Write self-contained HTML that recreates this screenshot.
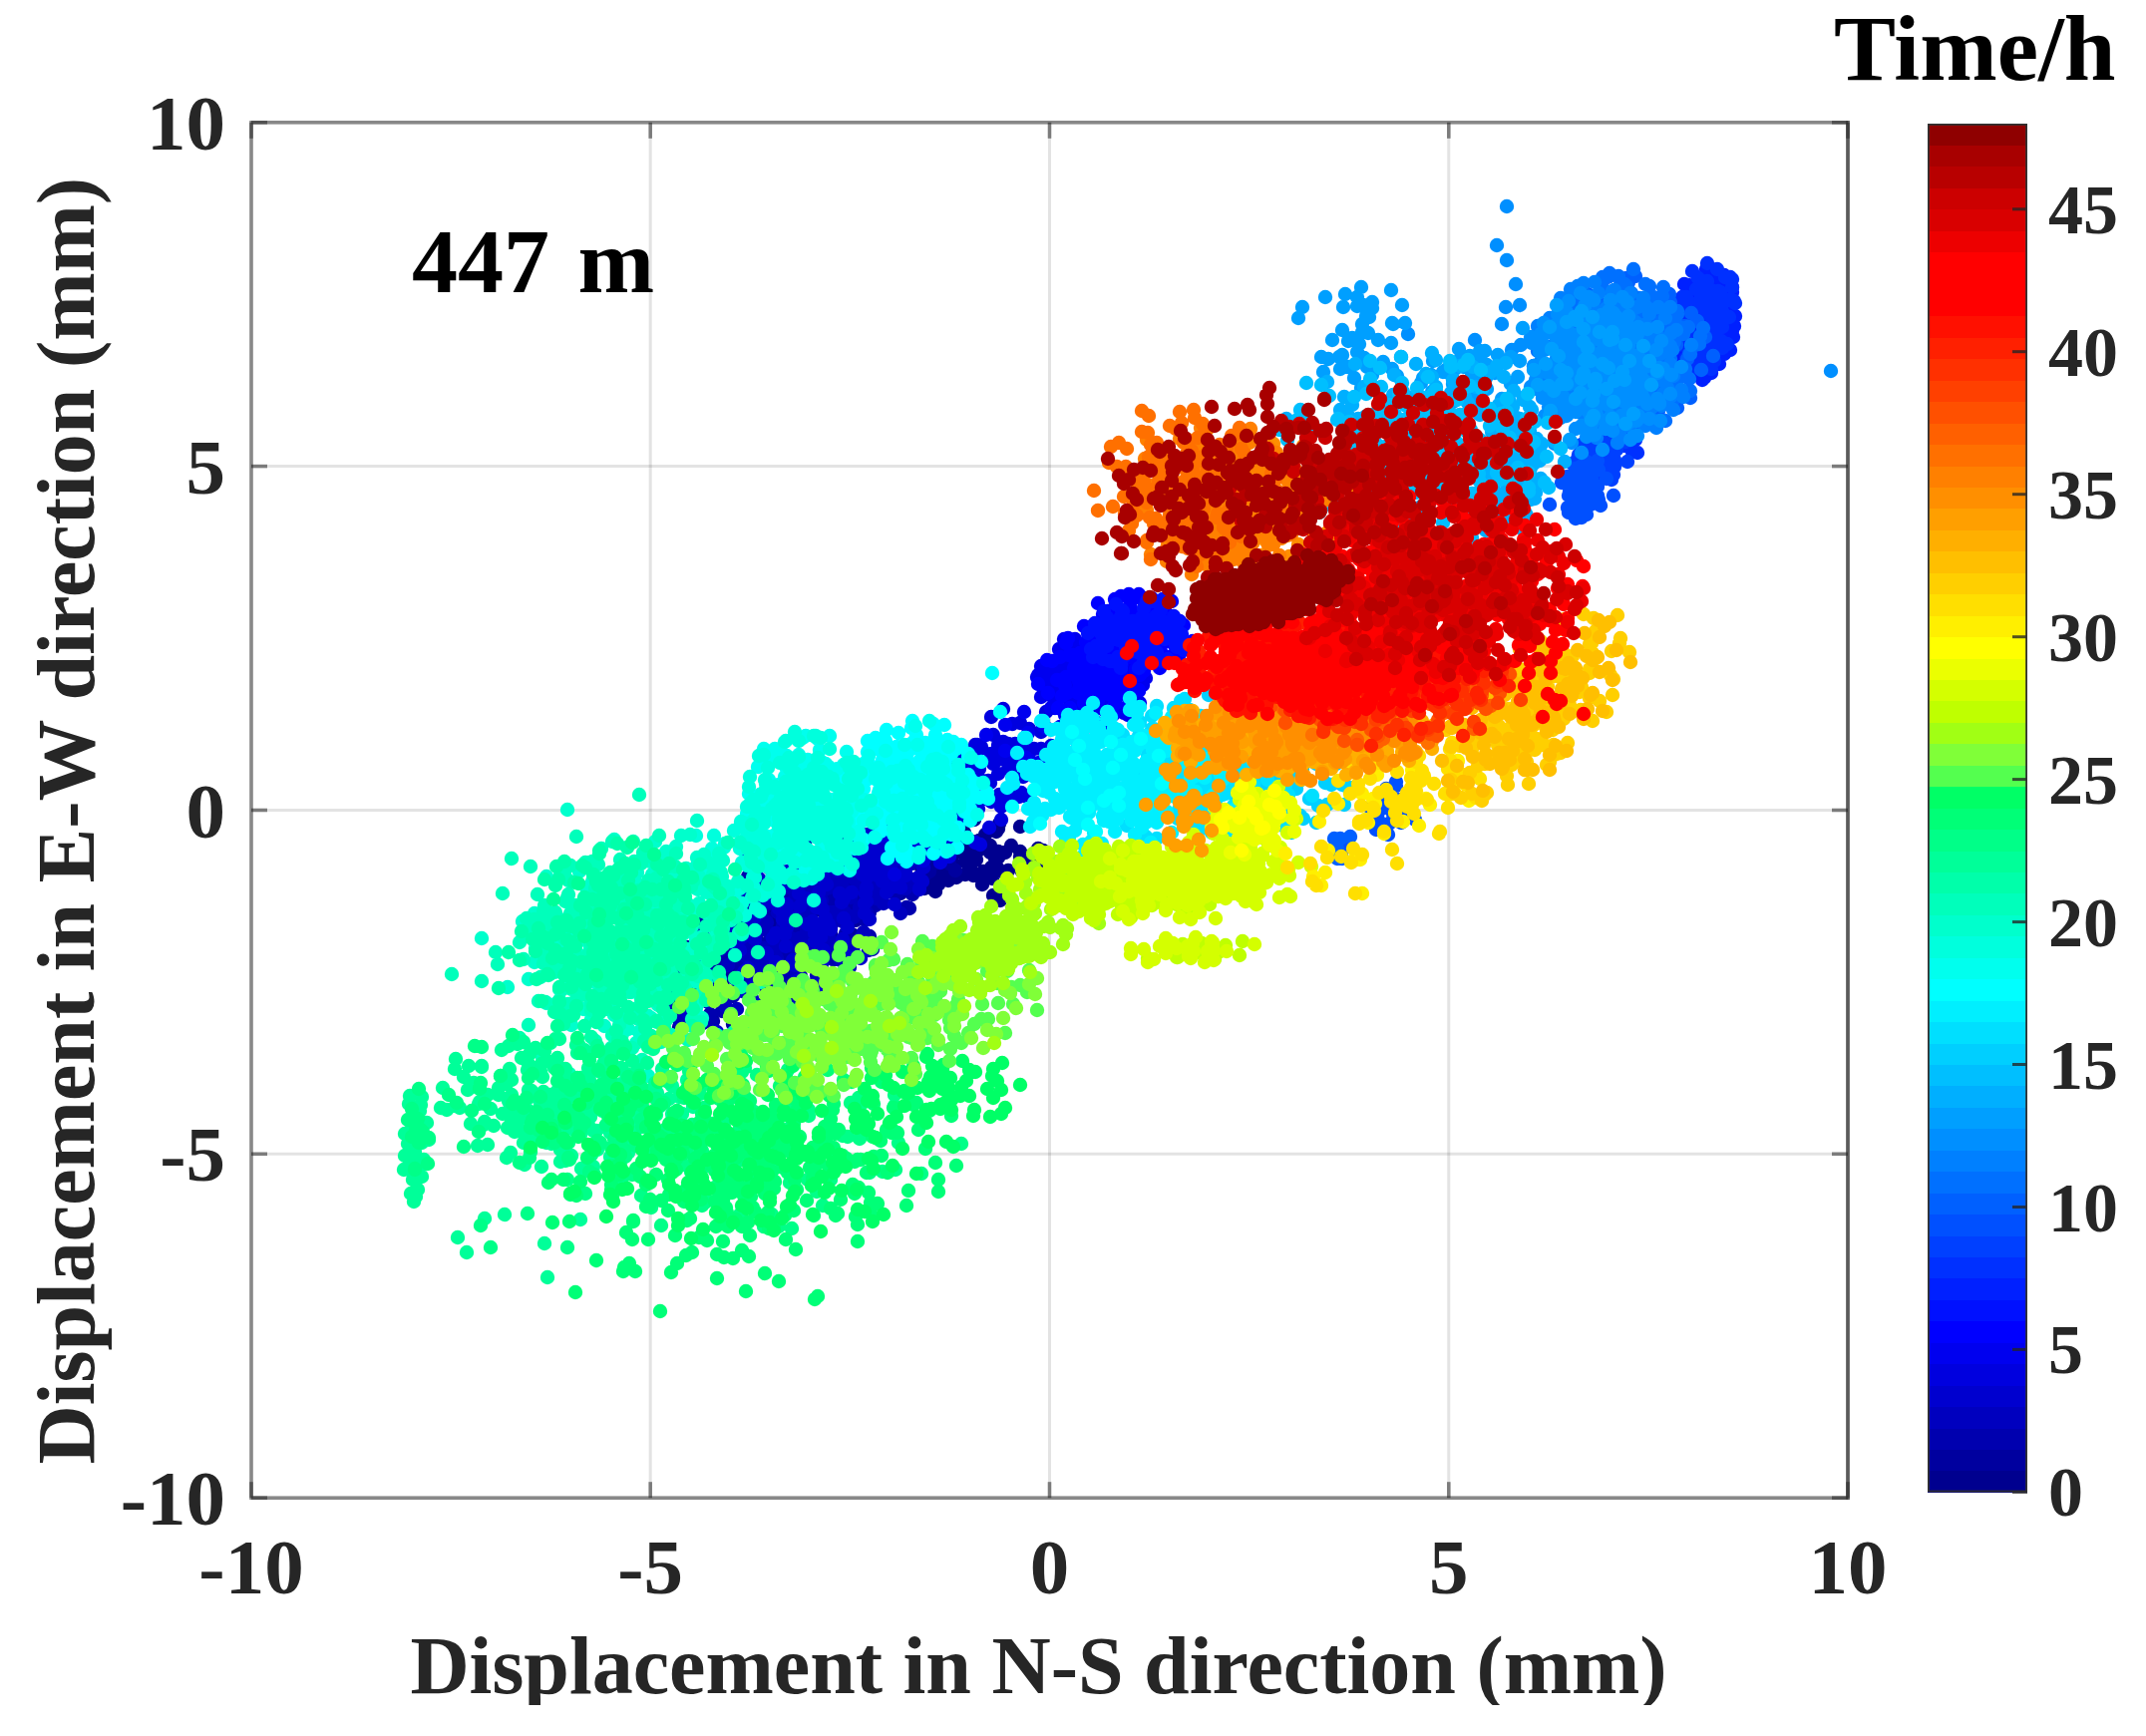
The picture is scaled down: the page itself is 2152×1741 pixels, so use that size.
<!DOCTYPE html><html><head><meta charset="utf-8"><title>Displacement scatter 447 m</title><style>html,body{margin:0;padding:0;background:#fff;overflow:hidden;width:2152px;height:1741px}</style></head><body><svg width="2152" height="1741" viewBox="0 0 2152 1741" style="display:block"><defs><clipPath id="xc"><rect x="0" y="1600" width="2152" height="110"/></clipPath></defs><rect width="100%" height="100%" fill="#fff"/><g stroke="#262626" stroke-opacity="0.13" stroke-width="3"><line x1="652.2" y1="122.8" x2="652.2" y2="1502.2"/><line x1="252.0" y1="1157.3" x2="1853.0" y2="1157.3"/><line x1="1052.5" y1="122.8" x2="1052.5" y2="1502.2"/><line x1="252.0" y1="812.5" x2="1853.0" y2="812.5"/><line x1="1452.8" y1="122.8" x2="1452.8" y2="1502.2"/><line x1="252.0" y1="467.6" x2="1853.0" y2="467.6"/></g><g fill="none" stroke-width="14.4" stroke-linecap="round"><path stroke="#00008f" d="M1033 859h0M1040 871h0M1000 874h0M1002 826h0M1025 874h0M973 869h0M1023 854h0M1003 903h0M998 861h0M1046 853h0M1023 859h0M996 898h0M993 855h0M1036 867h0M994 870h0M995 832h0M998 871h0M968 864h0M1001 854h0M1041 851h0M976 878h0M967 835h0M1000 861h0M940 875h0M999 834h0M991 874h0M971 850h0M1023 829h0M1008 855h0M959 880h0M985 844h0M1011 873h0M969 857h0M1001 831h0M979 862h0M938 846h0M993 848h0M1014 848h0M974 866h0M955 836h0M1001 860h0M957 867h0M973 850h0M985 887h0M941 854h0M988 837h0M980 854h0M935 885h0M960 845h0M986 874h0M957 870h0M977 820h0M951 883h0M920 857h0M973 855h0M1000 870h0M935 883h0M939 845h0M952 875h0M903 879h0M961 853h0M938 894h0M930 863h0M979 846h0M958 855h0M927 891h0M942 859h0M995 881h0M924 870h0M947 835h0M950 873h0M894 856h0M954 847h0M970 854h0M927 868h0M917 830h0M949 871h0M902 872h0M940 858h0M941 887h0M931 859h0M975 844h0M948 861h0M902 889h0M941 841h0M968 877h0M936 856h0M977 822h0M946 870h0M923 840h0M962 847h0M982 843h0M933 874h0M917 846h0M951 863h0M902 883h0M942 847h0M946 877h0M932 853h0M965 822h0M971 844h0"/><path stroke="#00009f" d="M918 884h0M924 847h0M958 873h0M903 866h0M922 834h0M910 863h0M874 854h0M922 840h0M934 857h0M889 863h0M895 835h0M914 866h0M877 862h0M915 848h0M903 896h0M884 855h0M955 839h0M926 856h0M895 895h0M908 846h0M952 866h0M912 859h0M934 813h0M934 868h0M888 857h0M926 849h0M953 856h0M897 872h0M903 839h0M917 855h0M852 879h0M925 835h0M917 882h0M894 859h0M947 838h0M924 865h0M880 876h0M904 853h0M927 878h0M830 823h0M834 948h0M746 921h0M867 874h0M935 863h0M789 941h0M796 857h0M831 901h0M674 991h0M813 868h0M763 981h0M753 915h0M880 827h0M830 876h0M744 980h0M762 913h0M910 888h0M719 971h0M797 849h0M813 928h0M689 950h0M839 859h0M873 871h0M801 923h0M774 846h0M871 892h0M730 957h0M805 895h0M803 979h0M752 927h0M856 847h0M828 898h0M715 1024h0M792 883h0M856 938h0M773 940h0M840 842h0M780 963h0M730 930h0M827 900h0M936 821h0M802 951h0M758 906h0M850 898h0M744 982h0M835 865h0M853 922h0M797 913h0M888 795h0M902 840h0M780 959h0M812 868h0M932 874h0M793 924h0M855 834h0M832 909h0M682 953h0M865 868h0M893 893h0M797 943h0M784 874h0M834 939h0M724 987h0M798 932h0M803 998h0M749 947h0M886 865h0M823 913h0M751 1024h0M754 923h0M858 923h0M769 958h0M783 858h0M822 962h0M730 970h0M828 911h0M904 879h0M794 970h0M774 918h0M814 940h0M681 1030h0M826 887h0M819 984h0M758 951h0M873 843h0M836 914h0M727 1003h0M776 935h0M851 958h0M735 971h0M847 847h0M797 946h0M718 931h0M843 896h0M877 884h0M781 949h0M698 919h0M847 911h0M727 975h0M807 870h0M825 957h0M751 930h0M858 845h0M813 915h0M735 1027h0M775 901h0M859 915h0M753 940h0M806 850h0M799 945h0M723 943h0M778 931h0M924 881h0M734 980h0M772 871h0M808 935h0M671 988h0M816 877h0M792 978h0M781 923h0M936 820h0M866 876h0M775 993h0M761 925h0M879 895h0M737 975h0M750 889h0"/><path stroke="#0000af" d="M801 922h0M681 978h0M826 864h0M878 870h0M758 974h0M710 911h0M825 926h0M718 986h0M782 906h0M819 968h0M751 917h0M878 808h0M848 872h0M749 979h0M782 887h0M859 906h0M802 909h0M849 823h0M824 957h0M736 927h0M851 862h0M921 814h0M802 937h0M751 896h0M854 895h0M735 999h0M836 850h0M867 922h0M785 903h0M871 811h0M851 893h0M776 980h0M820 905h0M909 910h0M760 953h0M838 833h0M833 916h0M736 938h0M854 881h0M878 908h0M811 935h0M797 862h0M869 922h0M753 964h0M834 894h0M818 991h0M801 915h0M884 848h0M833 882h0M768 1019h0M761 889h0M888 890h0M770 951h0M808 842h0M827 940h0M718 960h0M808 905h0M906 875h0M753 1000h0M758 908h0M808 939h0M704 1002h0M808 892h0M780 989h0M744 949h0M900 810h0M833 921h0M705 1026h0M756 928h0M835 962h0M747 940h0M830 844h0M782 940h0M684 929h0M848 874h0M866 880h0M779 961h0M729 925h0M867 893h0M790 954h0M822 910h0M875 952h0M766 953h0M876 846h0M874 892h0M779 1003h0M791 896h0M900 895h0M814 914h0M840 808h0M858 913h0M758 918h0M865 851h0M935 843h0M810 937h0M779 885h0M832 901h0M669 1007h0M831 868h0M834 959h0M803 912h0M929 814h0M856 881h0M790 957h0M808 898h0M912 885h0M762 954h0M821 857h0M831 924h0M727 959h0M840 895h0M886 894h0M828 925h0M750 879h0M872 915h0M738 993h0M815 905h0M817 990h0M749 957h0M861 870h0M834 912h0M724 1014h0M780 894h0M848 936h0M773 939h0M860 828h0M822 949h0M768 920h0M847 905h0M940 850h0M788 981h0M754 922h0M845 924h0M728 1014h0M832 885h0M840 962h0M789 938h0M909 805h0M888 884h0M781 980h0M824 893h0M912 911h0M785 943h0M840 860h0M829 915h0M696 932h0M897 847h0M926 870h0M804 929h0M799 835h0M846 902h0M745 941h0M817 882h0M796 999h0M752 933h0M865 880h0M838 907h0M770 1012h0M754 939h0M874 907h0M808 942h0M811 832h0M845 947h0M729 966h0M816 912h0M900 884h0M777 979h0M751 913h0M807 928h0M682 1022h0M794 893h0M819 978h0M750 943h0M853 864h0M831 907h0M745 983h0M785 912h0M872 939h0M714 979h0M806 860h0M764 975h0M672 955h0M816 895h0M851 873h0M761 945h0M708 917h0M815 933h0M696 1012h0M778 908h0M826 953h0M734 937h0M832 853h0M806 906h0M714 1025h0M763 891h0M860 911h0M751 942h0M798 836h0M783 937h0M713 921h0M806 877h0M899 868h0M743 969h0M779 871h0M834 921h0M719 976h0M831 884h0M818 963h0M809 917h0M917 830h0M888 886h0M803 983h0M814 903h0M915 897h0M774 952h0M820 859h0M829 912h0M698 945h0M854 858h0M913 851h0M795 937h0M771 884h0M861 898h0M744 946h0M797 908h0M797 997h0M738 941h0M862 845h0M836 898h0M719 994h0M791 884h0M833 930h0M759 916h0M831 813h0M759 958h0M703 926h0M802 911h0M865 868h0M762 977h0M714 946h0M792 925h0M712 1017h0M783 900h0M840 959h0M758 962h0M877 826h0M873 875h0M780 965h0M794 905h0"/><path stroke="#0000bf" d="M903 916h0M752 977h0M821 860h0M832 942h0M701 966h0M840 879h0M877 897h0M782 949h0M754 866h0M836 947h0M710 1005h0M795 913h0M791 1006h0M748 944h0M870 870h0M853 900h0M789 1005h0M769 907h0M908 891h0M809 931h0M829 836h0M843 923h0M764 932h0M832 890h0M914 854h0M779 961h0M778 871h0M836 915h0M697 999h0M817 872h0M827 947h0M791 923h0M909 812h0M871 881h0M762 987h0M809 896h0M863 941h0M765 951h0M831 857h0M785 936h0M701 934h0M846 864h0M864 867h0M763 953h0M716 899h0M863 890h0M750 957h0M822 884h0M857 947h0M782 914h0M880 831h0M844 887h0M763 979h0M803 863h0M881 883h0M833 888h0M835 826h0M822 936h0M721 927h0M857 864h0M929 848h0M783 938h0M795 851h0M814 906h0M669 979h0M807 860h0M771 984h0M783 912h0M921 813h0M863 866h0M781 974h0M800 904h0M924 883h0M756 965h0M799 867h0M816 944h0M674 1006h0M818 904h0M876 892h0M794 948h0M735 895h0M852 919h0M727 996h0M805 917h0M821 982h0M762 955h0M856 881h0M823 931h0M739 1012h0M780 915h0M857 957h0M762 969h0M845 850h0M803 971h0M727 946h0M808 909h0M902 844h0M758 978h0M735 920h0M814 930h0M715 1003h0M795 888h0M827 945h0M796 908h0M880 814h0M888 865h0M775 983h0M795 904h0M866 935h0M715 978h0M778 891h0M775 959h0M671 983h0M824 903h0M879 901h0M794 949h0M804 865h0M839 915h0M746 938h0M827 892h0M821 996h0M778 902h0M923 822h0M888 862h0M799 975h0M776 889h0M868 890h0M769 925h0M785 843h0M812 933h0M706 940h0M819 882h0M910 866h0M783 946h0M788 883h0M829 920h0M682 1016h0M846 871h0M824 984h0M785 929h0M899 844h0M862 910h0M754 1001h0M787 925h0M852 970h0M730 968h0M821 878h0M765 973h0M698 945h0M811 915h0M849 894h0M772 953h0M697 934h0M856 920h0M728 1010h0M785 910h0M843 963h0M762 960h0M868 855h0M847 915h0M772 1002h0M805 888h0M913 887h0M813 911h0M857 811h0M844 921h0M761 923h0M840 879h0M914 866h0M804 941h0M802 849h0M847 893h0M722 953h0M832 841h0M793 941h0M774 895h0M905 805h0M856 866h0M760 988h0M757 925h0M869 915h0M747 974h0M794 891h0M808 938h0M691 979h0M869 851h0M902 866h0M802 941h0M785 853h0M884 901h0M765 963h0M847 880h0M849 961h0M789 913h0M908 833h0M879 885h0M771 985h0M831 879h0M886 906h0M817 895h0M867 813h0M812 946h0M721 916h0M819 886h0M885 844h0M748 959h0M743 893h0M804 915h0M682 1025h0M801 881h0M813 961h0M759 949h0M848 859h0M831 915h0M752 990h0M772 936h0M871 953h0"/><path stroke="#0000cf" d="M699 988h0M802 871h0M778 965h0M673 952h0M821 895h0M846 921h0M750 971h0M761 881h0M826 953h0M715 979h0M802 909h0M784 1008h0M757 942h0M842 896h0M778 936h0M762 1008h0M735 937h0M867 906h0M775 941h0M788 851h0M833 932h0M739 952h0M807 901h0M900 859h0M756 989h0M751 928h0M817 944h0M690 1016h0M789 907h0M811 960h0M785 922h0M877 819h0M871 869h0M738 982h0M790 874h0M889 895h0M757 920h0M839 827h0M819 910h0M710 912h0M870 837h0M908 834h0M810 927h0M741 893h0M844 905h0M749 975h0M822 904h0M863 961h0M742 953h0M858 849h0M828 921h0M761 1013h0M788 912h0M872 922h0M788 949h0M838 829h0M845 942h0M743 941h0M846 901h0M921 880h0M795 963h0M801 896h0M831 927h0M698 1001h0M848 861h0M824 967h0M781 911h0M923 820h0M894 865h0M799 984h0M811 902h0M925 884h0M787 937h0M828 836h0M815 924h0M704 951h0M823 871h0M876 872h0M789 930h0M749 861h0M867 916h0M746 975h0M826 882h0M823 988h0M754 939h0M868 871h0M826 929h0M719 1035h0M785 916h0M848 958h0M769 956h0M860 836h0M823 940h0M771 904h0M829 887h0M921 820h0M817 936h0M775 885h0M885 884h0M744 994h0M791 885h0M850 930h0M796 921h0M902 792h0M889 864h0M797 968h0M825 878h0M842 869h0M889 860h0M880 878h0M825 912h0M873 853h0M897 907h0M865 877h0M905 844h0M869 890h0M855 853h0M889 866h0M922 891h0M853 870h0M879 830h0M876 872h0M839 859h0M889 865h0M868 896h0M881 870h0M926 870h0M908 878h0M854 895h0M878 853h0M903 890h0M855 862h0M883 837h0M875 872h0M836 847h0M897 857h0M908 875h0M866 860h0M871 821h0M881 876h0M850 861h0M886 862h0M869 904h0M854 847h0M915 855h0M893 869h0M840 873h0M894 841h0M894 890h0M878 858h0M931 826h0M887 874h0M880 830h0M913 849h0M944 851h0M885 868h0M881 832h0M899 858h0M847 871h0M897 841h0M900 889h0M877 855h0M932 837h0M914 862h0M869 880h0M888 850h0M922 892h0M874 854h0M911 817h0M888 856h0M862 820h0M914 827h0M926 852h0M892 843h0M892 795h0M902 861h0M863 840h0M917 827h0M896 877h0M896 826h0M946 838h0M936 844h0"/><path stroke="#0000df" d="M897 877h0M916 824h0M952 859h0M918 846h0M937 809h0M926 863h0M900 831h0M932 831h0M978 845h0M904 848h0M915 800h0M935 845h0M885 838h0M941 814h0M924 855h0M926 823h0M975 817h0M945 840h0M895 840h0M927 811h0M933 852h0M903 823h0M932 808h0M917 830h0M889 792h0M942 829h0M958 838h0M906 838h0M906 782h0M947 840h0M904 837h0M947 827h0M943 865h0M924 824h0M977 818h0M956 839h0M908 858h0M947 815h0M959 847h0M943 829h0M981 786h0M943 847h0M913 808h0M959 824h0M983 847h0M923 826h0M954 787h0M962 825h0M917 803h0M982 804h0M942 842h0M948 807h0M1004 809h0M981 811h0M953 827h0M966 801h0M992 830h0M934 808h0M968 768h0M959 811h0M915 783h0M978 784h0M994 804h0M953 807h0M954 760h0M979 810h0M923 793h0M965 779h0M959 826h0M950 788h0M992 784h0M975 795h0M910 814h0M961 769h0M975 818h0M950 787h0M996 766h0M956 818h0M935 777h0M966 795h0M1013 805h0M947 816h0M950 777h0M978 810h0M935 806h0M973 780h0M975 817h0M968 791h0M1016 767h0M1002 797h0M951 810h0M973 769h0M1004 822h0M956 790h0M999 763h0M991 798h0M955 755h0M1026 779h0M1033 802h0M991 783h0M1006 744h0M1007 799h0M970 775h0M1001 776h0M972 818h0M978 747h0M1032 763h0M1011 771h0M968 798h0M984 749h0M1013 792h0M980 769h0M1015 726h0M993 785h0M966 758h0M1015 762h0M1042 786h0M981 779h0M996 737h0M1006 761h0M954 756h0M1018 746h0M990 798h0M983 751h0M1044 751h0M1016 779h0M972 773h0M1005 750h0M1022 799h0M980 747h0M1032 731h0M1006 761h0M994 719h0M1037 751h0M1054 748h0M1020 756h0M1006 711h0M1048 761h0M994 756h0M1029 740h0M1024 795h0M1001 747h0M1044 734h0M1027 753h0M982 771h0M1023 725h0M1047 769h0M1011 746h0M1049 714h0M1029 755h0"/><path stroke="#0000ef" d="M1008 727h0M1031 735h0M1084 765h0M1008 753h0M1027 714h0M1033 763h0M989 737h0M1063 729h0M1042 765h0M1049 730h0M1097 730h0M1080 743h0M1029 760h0M1046 728h0M1085 773h0M1076 643h0M1121 671h0M1126 679h0M1089 676h0M1078 648h0M1109 685h0M1052 675h0M1094 656h0M1098 707h0M1085 667h0M1135 667h0M1108 689h0M1054 710h0M1088 666h0M1107 712h0M1082 685h0M1116 654h0M1099 699h0M1083 669h0M1112 686h0M1143 705h0M1085 693h0M1115 648h0M1110 700h0M1062 676h0M1121 673h0M1087 710h0M1092 676h0M1149 680h0M1125 684h0M1073 705h0M1093 679h0M1115 716h0M1067 690h0M1094 668h0M1086 696h0M1048 668h0M1109 685h0M1120 708h0M1078 703h0M1085 659h0M1098 711h0M1057 691h0M1097 689h0M1079 716h0M1065 676h0M1112 680h0M1094 689h0M1054 696h0M1097 666h0M1106 706h0M1098 682h0M1141 654h0M1084 694h0M1079 653h0M1117 685h0M1146 687h0M1088 696h0M1078 656h0M1106 679h0M1051 694h0M1107 659h0M1101 705h0M1080 676h0M1129 665h0M1113 691h0M1079 704h0M1098 680h0M1127 715h0M1080 686h0M1118 658h0M1109 698h0M1069 665h0M1128 675h0M1131 697h0M1090 689h0M1088 651h0M1092 707h0M1051 685h0M1101 685h0M1088 722h0M1089 682h0M1132 678h0M1104 682h0M1068 717h0M1099 664h0M1137 708h0M1086 690h0M1116 645h0M1113 697h0M1070 661h0M1099 664h0M1139 689h0M1074 692h0M1089 648h0M1100 687h0M1049 681h0M1091 666h0M1077 710h0M1077 683h0M1141 669h0M1106 701h0M1058 710h0M1088 682h0M1100 725h0M1068 679h0M1115 664h0M1096 688h0M1070 648h0M1134 678h0M1131 687h0M1086 694h0M1078 659h0M1112 706h0M1070 700h0M1100 682h0M1099 727h0M1070 676h0M1121 671h0M1108 686h0M1053 697h0M1079 654h0M1093 706h0M1071 683h0M1110 649h0M1076 708h0M1054 670h0M1093 686h0M1125 711h0M1072 700h0M1092 670h0M1094 697h0M1041 677h0M1124 679h0M1088 715h0M1091 679h0M1142 693h0M1119 697h0M1081 717h0M1090 685h0M1131 717h0M1072 686h0M1106 656h0M1104 690h0M1059 663h0M1106 669h0M1119 686h0M1083 676h0M1078 641h0M1098 698h0M1040 679h0M1088 664h0M1077 712h0M1065 661h0M1108 665h0M1092 683h0M1044 699h0M1086 656h0M1093 707h0M1065 676h0M1107 647h0M1087 697h0M1082 658h0M1116 674h0M1148 679h0M1090 692h0M1094 652h0M1116 686h0M1057 694h0M1101 668h0M1101 703h0M1085 674h0M1133 653h0M1110 685h0M1066 691h0M1084 663h0M1107 704h0M1075 675h0M1110 653h0M1103 676h0M1062 651h0M1134 666h0M1137 690h0M1091 682h0M1103 641h0M1103 696h0M1060 677h0M1102 679h0M1080 723h0M1086 669h0M1137 681h0M1109 677h0M1061 699h0M1077 656h0M1103 690h0M1077 674h0M1106 638h0M1091 695h0M1061 661h0M1106 670h0M1131 683h0M1072 678h0M1086 650h0M1098 677h0M1044 668h0M1105 656h0M1084 700h0M1090 671h0M1137 667h0M1107 682h0M1067 684h0M1096 676h0M1110 727h0M1060 669h0M1113 655h0M1079 690h0M1067 641h0M1115 678h0"/><path stroke="#0000ff" d="M1123 683h0M1084 686h0M1071 640h0M1112 696h0M1065 698h0M1109 681h0M1109 724h0M1085 675h0M1125 665h0M1111 680h0M1061 710h0M1096 661h0M1118 706h0M1081 677h0M1116 650h0M1102 687h0M1076 657h0M1113 670h0M1142 692h0M1082 683h0M1103 644h0M1105 679h0M1055 663h0M1115 657h0M1095 693h0M1101 669h0M1139 671h0M1125 679h0M1073 710h0M1091 670h0M1132 706h0M1068 687h0M1106 663h0M1092 694h0M1050 662h0M1115 678h0M1125 696h0M1081 695h0M1083 655h0M1101 702h0M1060 682h0M1095 676h0M1086 724h0M1078 668h0M1124 674h0M1104 691h0M1051 695h0M1092 660h0M1093 701h0M1077 670h0M1124 643h0M1082 691h0M1072 657h0M1110 684h0M1133 690h0M1084 693h0M1088 661h0M1095 682h0M1041 686h0M1106 657h0M1092 704h0M1078 668h0M1135 656h0M1117 687h0M1070 695h0M1099 665h0M1116 717h0M1069 679h0M1108 651h0M1086 686h0M1069 645h0M1117 672h0M1121 688h0M1092 674h0M1103 644h0M1104 692h0M1063 659h0M1118 663h0M1087 705h0M1102 667h0M1143 677h0M1120 675h0M1146 648h0M1095 634h0M1129 628h0M1125 663h0M1114 625h0M1164 626h0M1144 642h0M1098 656h0M1133 628h0M1145 657h0M1128 633h0M1175 603h0M1132 650h0M1118 617h0M1159 634h0M1182 641h0M1126 647h0M1125 619h0M1146 641h0M1089 644h0M1141 621h0M1134 659h0M1121 632h0M1166 619h0M1151 641h0M1110 651h0M1133 635h0M1163 670h0M1106 625h0M1150 605h0M1134 635h0M1101 605h0M1157 625h0M1170 640h0M1128 633h0M1142 596h0M1142 645h0M1101 625h0M1143 628h0M1119 661h0M1136 632h0M1171 636h0M1147 639h0M1107 666h0M1135 623h0M1164 655h0M1130 632h0M1155 600h0M1138 641h0M1111 613h0M1137 622h0M1175 640h0M1116 632h0M1137 600h0M1149 632h0M1112 622h0M1158 614h0M1138 644h0M1142 630h0M1187 627h0M1165 646h0M1113 639h0M1158 617h0M1159 658h0M1130 620h0M1168 612h0M1144 633h0M1124 598h0M1175 629h0M1178 630h0M1137 638h0M1120 610h0M1150 645h0M1109 639h0M1138 630h0M1147 673h0M1119 623h0M1163 610h0M1146 630h0M1098 646h0M1124 615h0M1150 644h0M1128 635h0M1160 606h0M1132 655h0M1103 627h0M1148 639h0M1164 653h0M1117 641h0M1131 614h0M1140 637h0M1092 629h0M1154 619h0M1123 657h0M1125 620h0M1183 623h0M1165 635h0M1121 652h0M1139 631h0M1182 658h0M1121 635h0M1151 610h0M1147 638h0M1112 621h0M1161 625h0M1172 639h0M1132 637h0M1132 596h0M1152 648h0M1103 633h0M1143 619h0M1131 658h0M1126 623h0M1169 621h0M1153 627h0M1099 643h0M1134 610h0M1150 650h0M1129 635h0M1167 621h0M1136 648h0M1124 619h0M1142 635h0M1196 643h0M1131 652h0M1134 618h0M1158 650h0M1095 650h0M1149 628h0M1136 659h0M1122 637h0M1176 625h0M1151 647h0M1098 655h0M1133 630h0M1151 661h0M1113 636h0M1151 620h0M1146 648h0M1106 616h0M1171 637h0M1175 658h0M1128 643h0M1148 606h0M1143 646h0M1116 627h0M1143 630h0M1117 659h0M1127 619h0M1167 626h0M1149 625h0M1113 654h0M1126 619h0M1155 643h0M1131 633h0M1148 600h0M1137 653h0M1105 628h0M1153 629h0M1176 645h0M1117 644h0M1133 608h0M1146 631h0M1087 628h0M1151 613h0M1133 648h0M1127 619h0M1168 618h0M1146 637h0M1108 639h0M1132 627h0M1144 667h0M1105 630h0M1153 618h0M1127 645h0M1112 615h0M1155 632h0M1153 634h0M1120 639h0M1118 601h0M1155 640h0"/><path stroke="#0010ff" d="M1104 635h0M1145 619h0M1141 654h0M1124 625h0M1154 626h0M1137 636h0M1096 659h0M1136 623h0M1157 660h0M1115 633h0M1164 612h0M1136 653h0M1120 627h0M1161 634h0M1180 649h0M1126 640h0M1147 610h0M1148 639h0M1101 630h0M1149 624h0M1129 649h0M1128 631h0M1185 636h0M1156 645h0M1113 663h0M1133 632h0M1166 663h0M1121 640h0M1148 620h0M1136 648h0M1098 625h0M1151 632h0M1158 652h0M1119 640h0M1126 613h0M1138 653h0M1106 641h0M1136 642h0M1124 670h0M1114 627h0M1172 626h0M1146 645h0M1094 651h0M1139 628h0M1146 666h0M1131 643h0M1182 623h0M1127 658h0M1122 624h0M1156 637h0M1183 646h0M1144 651h0M1139 624h0M1153 640h0M1099 648h0M1159 618h0M1157 660h0M1140 626h0M1177 618h0M1172 636h0M1133 650h0M1149 634h0M1171 661h0M1132 640h0M1161 621h0M1135 647h0M1111 623h0M1165 626h0M1179 646h0M1153 641h0M1150 603h0M1160 654h0M1109 631h0M1156 624h0M1124 666h0M1124 625h0M1166 633h0M1145 640h0M1106 661h0M1123 620h0M1156 651h0M1122 631h0M1155 603h0M1137 643h0M1106 627h0M1144 635h0M1187 652h0M1110 648h0M1125 612h0M1136 644h0M1091 635h0M1135 625h0M1121 659h0M1124 639h0M1180 630h0M1148 648h0M1105 651h0M1135 633h0M1142 670h0M1110 639h0M1148 628h0M1122 642h0M1107 613h0M1155 637h0M1168 641h0M1119 641h0M1119 606h0M1144 642h0M1104 634h0M1131 624h0M1121 665h0M1110 619h0M1165 622h0M1145 640h0M1097 654h0M1129 622h0M1145 656h0M1128 633h0M1166 601h0"/><path stroke="#0020ff" d="M1715 351h0M1694 326h0M1717 292h0M1701 349h0M1691 302h0M1708 322h0M1724 358h0M1693 330h0M1716 285h0M1709 341h0M1689 317h0M1718 310h0M1698 356h0M1709 324h0M1739 327h0M1722 346h0M1691 365h0M1701 321h0M1712 368h0M1691 334h0M1710 305h0M1703 341h0M1686 301h0M1716 321h0M1723 343h0M1702 337h0M1715 279h0M1712 347h0M1700 318h0M1721 312h0M1702 372h0M1707 303h0M1734 320h0M1717 331h0M1691 333h0M1715 300h0M1704 356h0M1704 322h0M1737 288h0M1696 351h0M1701 290h0M1721 324h0M1737 332h0M1711 338h0M1715 297h0M1722 335h0M1691 337h0M1725 301h0M1713 369h0M1713 321h0M1737 301h0M1728 328h0M1705 343h0M1717 327h0M1724 365h0M1704 325h0M1731 293h0M1712 344h0M1700 298h0M1725 327h0M1725 349h0M1706 337h0M1719 271h0M1713 336h0M1697 302h0M1715 303h0M1699 352h0M1708 299h0M1728 315h0M1713 322h0M1687 362h0M1711 298h0M1718 361h0M1699 326h0M1719 288h0M1702 351h0M1689 315h0M1707 330h0M1724 354h0M1692 352h0M1711 305h0M1709 352h0M1686 333h0M1715 317h0M1701 361h0M1705 335h0M1738 316h0M1713 355h0M1683 354h0M1709 316h0M1707 381h0M1698 332h0M1725 314h0M1704 343h0M1701 288h0M1728 328h0M1728 339h0M1704 343h0M1709 284h0M1714 347h0M1692 333h0M1711 322h0M1701 376h0M1699 310h0M1728 308h0M1718 338h0M1687 353h0M1714 297h0M1714 344h0M1704 311h0M1729 276h0M1696 339h0M1693 286h0M1710 311h0M1717 339h0M1693 317h0M1708 286h0M1702 321h0M1690 300h0M1717 294h0M1688 347h0M1699 301h0M1725 327h0M1715 318h0M1692 346h0M1708 310h0M1729 355h0M1695 327h0M1717 284h0M1713 334h0M1699 299h0M1728 297h0M1731 316h0M1707 309h0M1711 270h0M1711 338h0M1690 314h0M1720 297h0M1706 359h0M1706 309h0M1728 317h0M1713 337h0M1682 358h0M1710 308h0M1712 360h0M1703 319h0M1727 294h0M1707 351h0M1704 309h0M1713 330h0M1732 336h0M1694 346h0M1706 288h0M1715 332h0M1686 327h0M1717 301h0M1706 355h0M1705 311h0M1737 293h0M1715 327h0M1685 343h0M1702 310h0M1707 364h0M1695 323h0M1714 299h0M1702 333h0M1689 285h0M1721 314h0M1728 346h0M1706 327h0M1720 274h0M1712 345h0M1692 317h0M1710 320h0M1692 370h0M1706 307h0M1734 325h0M1725 332h0M1699 362h0M1715 315h0M1722 352h0M1717 325h0M1732 278h0M1716 341h0M1703 295h0M1727 321h0M1735 351h0M1702 344h0M1716 296h0M1717 336h0M1691 312h0M1727 302h0M1708 358h0M1711 318h0M1740 317h0M1724 342h0M1700 341h0M1719 318h0M1716 364h0M1708 311h0M1733 304h0M1710 343h0M1706 284h0M1723 330h0M1727 336h0M1705 338h0M1701 284h0M1709 344h0M1690 344h0M1713 325h0M1709 379h0M1700 324h0M1723 320h0M1713 332h0M1684 367h0M1715 299h0M1719 361h0M1701 323h0M1729 284h0M1709 348h0M1705 298h0M1722 305h0M1738 338h0M1704 321h0M1724 276h0M1720 341h0M1693 318h0M1722 322h0M1704 365h0M1705 333h0M1736 329h0M1721 345h0M1688 364h0M1703 322h0M1716 374h0M1693 343h0M1717 307h0M1705 350h0M1689 298h0M1725 315h0M1726 345h0M1707 339h0M1710 295h0M1709 348h0M1689 335h0M1707 330h0"/><path stroke="#0030ff" d="M1696 366h0M1698 313h0M1728 314h0M1716 331h0M1686 337h0M1718 294h0M1716 351h0M1711 310h0M1735 278h0M1699 340h0M1701 290h0M1711 318h0M1727 323h0M1696 330h0M1706 297h0M1712 333h0M1682 334h0M1725 293h0M1710 360h0M1705 319h0M1739 302h0M1722 326h0M1694 335h0M1710 307h0M1719 362h0M1703 306h0M1730 278h0M1713 319h0M1703 279h0M1721 309h0M1719 330h0M1708 324h0M1722 270h0M1707 347h0M1687 298h0M1715 307h0M1691 359h0M1704 308h0M1730 318h0M1719 321h0M1690 366h0M1711 290h0M1722 341h0M1704 315h0M1722 270h0M1711 336h0M1697 305h0M1711 320h0M1732 345h0M1697 340h0M1712 282h0M1716 339h0M1692 320h0M1726 308h0M1713 350h0M1716 309h0M1740 304h0M1721 333h0M1693 340h0M1719 306h0M1715 364h0M1702 314h0M1725 299h0M1710 321h0M1697 272h0M1726 318h0M1726 342h0M1702 342h0M1705 283h0M1708 350h0M1687 334h0M1706 322h0M1700 368h0M1691 316h0M1720 300h0M1709 326h0M1684 346h0M1707 306h0M1711 363h0M1707 329h0M1737 288h0M1709 351h0M1706 304h0M1722 322h0M1727 349h0M1697 326h0M1712 288h0M1708 335h0M1684 310h0M1721 315h0M1695 360h0M1703 324h0M1727 328h0M1717 334h0M1694 354h0M1702 331h0M1716 370h0M1689 333h0M1718 292h0M1700 344h0M1691 298h0M1715 303h0M1715 333h0M1695 323h0M1712 264h0M1713 341h0M1694 304h0M1719 299h0M1702 355h0M1710 289h0M1733 301h0M1720 313h0M1682 333h0M1723 292h0M1713 354h0M1710 306h0M1737 280h0M1706 330h0M1705 282h0M1715 310h0M1734 318h0M1699 335h0M1705 287h0M1716 329h0M1690 320h0M1717 295h0M1714 338h0M1713 310h0M1737 288h0M1727 323h0M1696 343h0M1716 295h0M1724 346h0M1702 305h0M1637 444h0M1629 447h0M1637 427h0M1637 453h0M1636 432h0M1643 424h0M1640 441h0M1634 445h0M1637 432h0M1642 454h0M1632 437h0M1637 418h0"/><path stroke="#0040ff" d="M1606 432h0M1620 464h0M1595 457h0M1614 452h0M1609 474h0M1601 453h0M1621 451h0M1616 461h0M1594 467h0M1613 443h0M1617 471h0M1601 454h0M1622 442h0M1605 466h0M1595 445h0M1610 454h0M1632 463h0M1609 467h0M1605 444h0M1615 459h0M1590 458h0M1612 444h0M1605 469h0M1605 456h0M1630 443h0M1619 468h0M1591 477h0M1604 457h0M1616 481h0M1596 460h0M1610 445h0M1605 463h0M1586 446h0M1614 454h0M1617 470h0M1595 465h0M1601 442h0M1603 471h0M1590 461h0M1603 459h0M1594 484h0M1596 456h0M1619 461h0M1610 464h0M1591 478h0M1599 452h0M1613 473h0M1600 461h0M1612 440h0M1604 475h0M1590 457h0M1610 463h0M1618 476h0M1594 472h0M1600 453h0M1603 466h0M1577 465h0M1604 455h0M1595 484h0M1590 462h0M1618 463h0M1605 478h0M1583 478h0M1596 467h0M1602 498h0M1584 471h0M1608 463h0M1592 481h0M1582 460h0M1603 477h0M1608 478h0M1591 478h0M1583 456h0M1601 484h0M1575 484h0M1591 468h0M1594 498h0"/><path stroke="#0050ff" d="M1581 476h0M1603 471h0M1596 480h0M1575 494h0M1585 468h0M1598 493h0M1588 480h0M1602 462h0M1592 487h0M1580 470h0M1594 480h0M1618 497h0M1580 488h0M1591 463h0M1593 488h0M1572 478h0M1598 471h0M1584 493h0M1583 480h0M1611 480h0M1600 488h0M1578 503h0M1582 480h0M1599 498h0M1574 490h0M1586 477h0M1583 495h0M1566 484h0M1595 489h0M1603 501h0M1583 499h0M1587 472h0M1591 502h0M1573 497h0M1590 492h0M1586 519h0M1581 491h0M1602 497h0M1592 502h0M1572 509h0M1591 490h0M1591 516h0M1585 504h0M1602 488h0M1580 520h0M1574 493h0M1595 506h0M1605 507h0M1573 514h0M1574 490h0M1582 507h0M1554 506h0M1583 495h0M1400 788h0M1405 825h0M1383 813h0M1404 811h0M1392 837h0M1392 810h0M1415 810h0M1400 814h0M1380 832h0M1390 791h0M1408 820h0M1384 807h0M1400 784h0M1393 826h0M1378 806h0M1399 810h0M1419 822h0M1382 822h0M1389 794h0M1397 816h0M1374 810h0M1403 802h0M1349 850h0M1333 855h0"/><path stroke="#0060ff" d="M1344 841h0M1346 861h0M1341 851h0M1354 839h0M1341 861h0M1338 841h0M1681 323h0M1653 378h0M1636 333h0M1718 357h0M1626 355h0M1633 283h0M1663 345h0M1601 341h0M1661 317h0M1682 333h0M1653 348h0M1592 295h0M1659 367h0M1581 377h0M1623 322h0M1663 412h0M1596 346h0M1650 310h0M1636 341h0M1588 399h0M1602 321h0M1658 370h0M1604 351h0M1631 279h0M1634 357h0M1596 324h0M1645 326h0M1702 322h0M1634 389h0M1593 326h0M1652 360h0M1585 390h0M1619 320h0M1653 386h0M1618 348h0M1674 295h0M1673 340h0M1620 389h0M1609 326h0M1676 369h0M1614 357h0M1640 304h0M1646 347h0M1565 323h0M1656 302h0M1681 346h0M1626 352h0M1612 278h0M1657 360h0M1595 354h0M1638 326h0M1646 409h0M1613 322h0M1675 303h0M1675 329h0M1652 405h0M1640 322h0M1694 355h0M1652 340h0M1640 277h0M1660 355h0M1583 322h0M1638 307h0M1685 330h0M1635 360h0M1627 312h0M1658 356h0M1584 373h0M1649 308h0M1649 382h0M1618 339h0M1675 309h0M1664 344h0M1613 379h0M1634 361h0M1682 409h0M1608 378h0M1658 317h0M1642 391h0M1584 330h0M1666 331h0M1690 327h0M1650 373h0M1588 303h0M1692 360h0M1626 394h0M1652 336h0M1695 399h0M1623 351h0M1655 320h0M1650 356h0M1623 411h0M1613 323h0M1686 375h0M1615 357h0M1631 284h0M1661 377h0M1599 344h0M1648 338h0M1710 338h0M1639 369h0M1625 301h0M1654 353h0M1582 354h0M1636 310h0M1647 391h0M1629 352h0M1696 314h0M1681 345h0M1642 412h0M1624 338h0M1706 371h0M1625 372h0M1638 309h0M1666 363h0M1577 361h0M1670 317h0M1700 346h0M1637 363h0M1602 301h0M1666 362h0M1601 370h0M1624 331h0M1654 424h0M1592 333h0M1662 304h0M1649 350h0M1603 396h0"/><path stroke="#0070ff" d="M1619 311h0M1663 369h0M1622 348h0M1658 298h0M1641 400h0M1586 346h0M1645 353h0M1679 339h0M1622 380h0M1600 325h0M1636 357h0M1583 388h0M1612 326h0M1644 413h0M1596 365h0M1657 310h0M1662 361h0M1603 406h0M1609 353h0M1677 402h0M1589 359h0M1625 285h0M1625 364h0M1571 333h0M1654 327h0M1670 355h0M1628 359h0M1607 278h0M1655 370h0M1587 349h0M1639 320h0M1638 402h0M1606 322h0M1665 309h0M1643 329h0M1640 411h0M1619 317h0M1695 355h0M1630 351h0M1623 277h0M1664 355h0M1601 340h0M1642 328h0M1708 329h0M1631 373h0M1592 297h0M1656 351h0M1594 377h0M1644 312h0M1669 383h0M1625 338h0M1668 288h0M1675 333h0M1630 378h0M1632 332h0M1683 378h0M1614 356h0M1636 307h0M1638 343h0M1579 317h0M1654 311h0M1680 331h0M1631 370h0M1582 306h0M1660 346h0M1607 364h0M1628 324h0M1674 397h0M1601 340h0M1650 305h0M1655 343h0M1621 400h0M1623 337h0M1680 371h0M1644 352h0M1638 270h0M1649 381h0M1581 331h0M1648 317h0M1705 337h0M1632 364h0M1623 300h0M1653 363h0M1577 385h0M1641 336h0M1645 419h0M1621 357h0M1688 335h0M1666 364h0M1640 401h0M1627 350h0M1694 380h0M1609 376h0M1631 307h0M1659 371h0M1583 346h0M1651 324h0M1675 340h0M1636 372h0M1585 307h0M1652 380h0M1583 380h0M1618 346h0M1644 419h0M1590 356h0M1647 330h0M1637 349h0M1594 404h0M1611 319h0M1667 384h0M1606 356h0M1635 298h0M1614 381h0M1571 326h0M1630 346h0M1682 312h0M1618 391h0M1570 317h0M1626 355h0M1570 392h0M1610 325h0M1648 386h0M1622 355h0M1650 285h0M1647 346h0M1609 407h0M1602 342h0M1673 383h0M1593 367h0M1609 317h0M1618 374h0M1570 353h0M1637 332h0M1665 362h0M1616 366h0M1590 310h0M1641 375h0M1579 374h0M1617 354h0M1630 419h0M1588 331h0M1654 308h0M1640 332h0M1618 407h0M1608 315h0M1674 345h0M1625 343h0M1614 274h0M1658 378h0M1581 351h0M1625 337h0M1665 335h0M1612 373h0M1587 318h0M1620 356h0M1569 384h0M1617 318h0M1634 410h0M1605 350h0M1667 297h0M1668 348h0M1610 374h0M1624 340h0M1664 396h0M1588 344h0M1629 285h0M1625 349h0M1572 312h0M1651 327h0M1666 322h0M1634 339h0M1590 296h0M1674 348h0M1591 364h0M1616 309h0M1661 395h0M1599 341h0M1657 303h0M1638 342h0M1606 399h0M1613 308h0M1676 370h0M1616 360h0M1636 294h0M1652 378h0M1601 331h0M1628 334h0M1704 345h0M1622 371h0M1629 308h0M1656 370h0M1582 381h0M1644 338h0M1643 403h0M1633 346h0M1680 324h0M1661 339h0M1632 398h0M1618 343h0M1690 370h0M1616 374h0M1617 308h0M1630 349h0M1553 348h0M1644 299h0M1688 329h0M1630 356h0M1579 297h0M1657 363h0M1585 365h0M1608 326h0M1636 414h0M1575 339h0M1642 304h0M1641 337h0M1594 389h0M1612 322h0M1655 372h0M1602 339h0M1631 287h0M1628 367h0M1576 314h0M1648 317h0M1682 315h0M1623 373h0M1589 318h0M1633 348h0M1572 376h0M1614 303h0M1652 375h0M1611 342h0M1650 299h0M1649 345h0M1615 392h0M1612 344h0M1695 392h0M1599 361h0M1619 291h0M1630 366h0M1566 329h0M1658 327h0M1679 343h0M1621 369h0M1606 285h0M1662 367h0M1590 348h0M1637 317h0M1641 391h0M1601 324h0M1662 309h0M1638 329h0M1622 419h0M1605 312h0M1675 360h0M1605 344h0M1614 277h0M1633 369h0M1582 333h0M1622 325h0M1689 330h0M1603 367h0M1594 300h0M1640 356h0M1579 371h0M1627 323h0M1650 397h0M1628 366h0M1672 318h0M1664 379h0M1597 414h0M1620 354h0M1663 422h0M1591 378h0M1626 320h0M1621 377h0M1555 333h0M1657 354h0M1678 342h0M1638 390h0M1587 333h0M1673 369h0M1604 388h0M1614 345h0M1670 422h0M1586 366h0M1629 310h0M1625 348h0M1591 405h0M1586 331h0M1647 372h0M1600 371h0M1608 290h0M1623 391h0M1564 362h0M1629 349h0M1674 367h0M1612 394h0M1604 308h0M1628 345h0M1549 372h0M1633 311h0M1634 403h0M1598 343h0M1666 305h0M1656 333h0M1640 409h0M1629 351h0M1687 377h0M1613 396h0M1619 322h0M1639 387h0M1563 366h0M1635 339h0M1661 360h0M1618 358h0M1577 300h0M1662 368h0M1582 366h0M1631 326h0M1663 399h0M1615 339h0M1660 305h0M1648 338h0M1611 406h0M1626 323h0M1672 383h0M1625 356h0M1646 311h0M1643 391h0M1593 347h0M1626 350h0M1693 328h0M1621 387h0M1593 316h0M1657 355h0M1586 394h0M1622 329h0M1642 402h0M1603 365h0M1654 287h0M1662 351h0M1614 409h0M1615 337h0M1673 389h0M1599 375h0M1626 329h0M1630 390h0M1542 352h0M1654 354h0M1681 382h0M1618 393h0M1610 318h0M1649 389h0M1590 372h0M1635 349h0M1638 428h0M1600 333h0"/><path stroke="#0080ff" d="M1651 327h0M1622 350h0M1602 415h0M1577 339h0M1639 359h0M1601 357h0M1582 287h0M1620 386h0M1552 367h0M1619 341h0M1675 347h0M1618 394h0M1599 324h0M1642 358h0M1561 384h0M1616 314h0M1637 391h0M1599 348h0M1654 315h0M1653 359h0M1609 393h0M1622 355h0M1678 411h0M1604 369h0M1635 319h0M1628 389h0M1568 344h0M1648 359h0M1665 355h0M1608 378h0M1554 319h0M1642 365h0M1575 388h0M1599 346h0M1643 414h0M1592 368h0M1634 330h0M1619 374h0M1600 428h0M1598 341h0M1670 380h0M1612 370h0M1619 291h0M1622 372h0M1585 334h0M1639 331h0M1696 346h0M1611 366h0M1603 294h0M1643 362h0M1573 363h0M1631 317h0M1625 382h0M1618 346h0M1675 308h0M1654 341h0M1621 408h0M1616 358h0M1672 389h0M1605 391h0M1626 333h0M1642 389h0M1564 363h0M1655 338h0M1677 351h0M1622 365h0M1597 306h0M1642 379h0M1589 378h0M1624 352h0M1633 423h0M1582 352h0M1649 326h0M1638 367h0M1585 414h0M1613 339h0M1659 400h0M1605 366h0M1635 294h0M1621 402h0M1585 343h0M1649 353h0M1681 331h0M1627 384h0M1595 337h0M1647 364h0M1589 407h0M1628 324h0M1670 401h0M1618 368h0M1663 308h0M1656 352h0M1615 389h0M1623 347h0M1688 398h0M1609 377h0M1620 312h0M1627 379h0M1560 347h0M1630 335h0M1657 355h0M1629 343h0M1588 284h0M1654 371h0M1569 356h0M1614 321h0M1626 419h0M1574 334h0M1640 323h0M1621 351h0M1590 429h0M1570 330h0M1639 373h0M1580 382h0M1595 304h0M1626 381h0M1562 352h0M1601 349h0M1675 349h0M1580 394h0M1567 320h0M1622 366h0M1546 379h0M1598 323h0M1618 382h0M1590 340h0M1638 310h0M1635 365h0M1582 396h0M1594 340h0M1648 395h0M1578 359h0M1620 324h0M1604 373h0M1559 335h0M1632 350h0M1655 360h0M1600 396h0M1561 328h0M1636 386h0M1577 403h0M1601 350h0M1634 428h0M1569 362h0M1629 320h0M1619 374h0M1590 431h0M1601 356h0M1651 397h0M1604 374h0M1617 292h0M1624 414h0M1567 371h0M1627 363h0M1671 393h0M1587 405h0M1594 345h0M1625 396h0M1552 384h0M1625 341h0M1617 408h0M1602 351h0M1663 338h0M1633 361h0M1620 412h0M1626 373h0M1678 377h0M1599 391h0M1598 312h0M1625 372h0M1545 363h0M1621 322h0M1650 348h0M1610 372h0M1565 299h0M1642 376h0M1579 396h0M1621 357h0M1657 421h0M1593 370h0M1646 345h0M1641 381h0M1598 425h0M1603 352h0M1656 409h0M1602 383h0M1634 308h0M1635 387h0M1571 344h0M1626 353h0M1676 334h0M1605 397h0M1565 341h0M1619 379h0M1563 405h0M1596 342h0M1629 398h0M1607 369h0M1642 308h0M1659 352h0M1608 406h0M1610 342h0M1686 391h0M1595 368h0M1610 310h0M1623 354h0M1542 327h0M1619 317h0M1652 343h0M1592 358h0M1575 290h0M1624 363h0M1565 368h0M1613 346h0M1625 438h0M1584 345h0M1650 327h0M1629 349h0M1606 413h0M1593 337h0M1657 368h0M1605 360h0M1599 283h0M1628 377h0M1563 353h0M1618 337h0M1666 348h0M1603 383h0M1591 332h0M1619 374h0M1555 404h0M1635 334h0M1650 427h0M1605 365h0M1670 319h0M1659 378h0M1598 414h0M1622 358h0M1666 407h0M1597 382h0M1637 323h0M1626 389h0M1575 347h0M1652 365h0M1664 355h0M1621 389h0M1545 339h0M1657 383h0M1593 402h0M1620 351h0M1661 429h0M1589 379h0M1634 338h0M1628 373h0M1601 439h0M1609 353h0M1667 403h0M1612 394h0M1625 322h0M1645 393h0M1584 364h0M1631 364h0M1675 365h0M1591 394h0M1578 318h0M1627 381h0M1546 384h0M1604 325h0M1602 395h0M1580 342h0M1648 299h0M1624 334h0M1599 398h0M1585 340h0M1661 382h0M1594 381h0M1600 335h0M1616 381h0M1538 367h0M1632 338h0M1674 353h0M1622 372h0M1590 305h0M1652 365h0M1589 378h0M1613 342h0M1634 420h0M1584 354h0M1647 329h0M1641 360h0M1589 412h0M1604 351h0M1644 406h0M1615 376h0M1627 306h0M1610 417h0M1565 344h0M1637 343h0M1665 343h0M1622 386h0M1599 334h0M1647 371h0M1577 406h0M1626 329h0M1656 407h0M1608 365h0M1651 308h0M1654 359h0M1610 400h0M1612 359h0M1668 395h0M1588 375h0M1626 305h0M1624 384h0M1565 346h0M1642 347h0M1659 369h0M1614 382h0M1594 300h0M1645 391h0M1574 379h0M1621 355h0M1622 430h0M1596 360h0M1650 350h0M1636 373h0M1622 444h0M1600 354h0M1675 398h0M1602 405h0M1604 323h0M1644 408h0M1573 386h0M1618 377h0"/><path stroke="#008fff" d="M1676 376h0M1595 414h0M1582 351h0M1632 400h0M1580 413h0M1620 361h0M1644 419h0M1619 380h0M1662 328h0M1652 384h0M1590 429h0M1607 363h0M1665 422h0M1596 396h0M1622 349h0M1610 403h0M1545 366h0M1634 369h0M1645 375h0M1606 393h0M1561 340h0M1627 390h0M1578 401h0M1601 375h0M1642 437h0M1560 374h0M1621 318h0M1623 370h0M1580 430h0M1583 345h0M1636 389h0M1588 374h0M1598 301h0M1621 401h0M1561 359h0M1633 346h0M1686 368h0M1611 389h0M1597 328h0M1614 378h0M1541 390h0M1620 338h0M1612 423h0M1585 355h0M1643 328h0M1624 353h0M1593 413h0M1583 359h0M1664 404h0M1585 391h0M1602 326h0M1603 381h0M1550 373h0M1618 358h0M1639 382h0M1596 388h0M1562 315h0M1634 401h0M1547 393h0M1591 345h0M1610 430h0M1569 361h0M1633 330h0M1610 363h0M1556 401h0M1588 320h0M1630 390h0M1577 355h0M1615 301h0M1603 375h0M1574 336h0M1608 342h0M1652 330h0M1606 397h0M1562 336h0M1619 369h0M1556 406h0M1591 330h0M1634 396h0M1596 363h0M1627 298h0M1645 360h0M1597 401h0M1597 335h0M1662 374h0M1587 370h0M1606 316h0M1611 351h0M1536 344h0M1624 326h0M1653 367h0M1603 394h0M1570 321h0M1639 390h0M1583 385h0M1618 361h0M1635 441h0M1578 353h0M1642 335h0M1630 356h0M1613 423h0M1594 354h0M1645 381h0M1595 376h0M1589 307h0M1629 403h0M1557 377h0M1613 361h0M1664 369h0M1587 401h0M1565 344h0M1604 386h0M1553 408h0M1581 340h0M1600 412h0M1562 365h0M1612 326h0M1615 377h0M1576 405h0M1594 351h0M1654 420h0M1575 377h0M1618 314h0M1619 389h0M1548 346h0M1623 347h0M1642 357h0M1600 390h0M1551 334h0M1631 393h0M1568 410h0M1605 362h0M1638 438h0M1586 389h0M1633 352h0M1617 387h0M1576 444h0M1592 340h0M1648 399h0M1584 384h0M1608 328h0M1626 417h0M1572 375h0M1618 372h0M1675 395h0M1588 405h0M1579 347h0M1612 406h0M1547 399h0M1605 360h0M1596 425h0M1592 391h0M1666 342h0M1625 367h0M1591 438h0M1564 375h0M1646 393h0M1559 403h0M1570 336h0M1597 397h0M1535 388h0M1607 352h0M1644 362h0M1596 387h0M1558 327h0M1623 381h0M1558 382h0M1585 342h0M1617 432h0M1549 351h0M1609 319h0M1604 356h0M1552 415h0M1562 338h0M1620 389h0M1576 359h0M1593 298h0M1589 388h0M1545 335h0M1607 337h0M1641 338h0M1599 381h0M1583 335h0M1619 363h0M1549 417h0M1600 327h0M1636 403h0M1575 360h0M1632 303h0M1633 363h0M1593 403h0M1585 359h0M1664 405h0M1572 381h0M1604 321h0M1607 382h0M1544 353h0M1621 343h0M1646 365h0M1601 386h0M1571 313h0M1634 411h0M1563 396h0M1609 367h0M1607 451h0M1578 378h0M1631 371h0M1614 381h0M1599 436h0M1585 367h0M1652 405h0M1600 394h0M1606 327h0M1619 395h0M1561 370h0M1602 360h0M1668 370h0M1592 403h0M1572 331h0M1622 388h0M1543 391h0M1595 335h0M1598 409h0M1562 365h0M1631 323h0M1611 366h0M1559 398h0M1572 346h0M1632 425h0M1574 385h0M1604 335h0M1591 395h0M1525 346h0M1619 372h0M1642 369h0M1601 416h0M1544 353h0M1624 389h0M1565 419h0M1585 359h0M1641 422h0M1572 366h0M1619 324h0M1619 361h0M1596 416h0M1594 354h0M1636 397h0M1591 384h0M1585 294h0M1615 418h0M1541 375h0M1597 360h0M1648 381h0M1511 207h0M1501 246h0M1511 261h0M1520 285h0M1510 308h0M1524 306h0M1506 325h0M1479 341h0M1516 351h0M1412 335h0M1405 358h0M1836 372h0M1581 399h0M1572 343h0M1595 388h0M1528 399h0M1595 354h0M1595 420h0M1573 365h0M1627 342h0M1609 358h0M1596 408h0M1583 363h0M1662 400h0M1567 397h0M1581 321h0M1601 399h0M1540 381h0M1604 362h0M1629 368h0M1587 385h0M1548 324h0M1612 394h0M1554 393h0M1590 350h0M1609 422h0M1567 371h0M1626 358h0M1599 383h0M1559 445h0M1584 353h0M1643 417h0M1574 385h0M1613 312h0M1600 406h0M1567 353h0M1614 365h0M1661 351h0M1596 406h0M1564 334h0M1623 371h0M1563 402h0M1602 340h0M1628 399h0M1593 360h0M1633 317h0M1635 374h0M1571 417h0M1587 346h0M1643 400h0M1566 380h0M1590 331h0M1589 381h0M1535 338h0M1618 329h0M1640 366h0M1582 369h0M1573 302h0M1606 377h0M1538 367h0M1579 352h0M1586 454h0M1544 342h0M1628 339h0M1616 362h0M1586 427h0"/><path stroke="#009fff" d="M1556 350h0M1627 373h0M1567 373h0M1561 306h0M1599 385h0M1538 371h0M1592 349h0M1630 346h0M1571 385h0M1554 328h0M1589 361h0M1528 400h0M1581 321h0M1596 421h0M1553 387h0M1604 333h0M1600 380h0M1554 417h0M1565 371h0M1630 425h0M1542 386h0M1588 330h0M1580 400h0M1524 362h0M1595 362h0M1613 369h0M1586 380h0M1527 329h0M1619 382h0M1555 412h0M1588 343h0M1638 415h0M1571 374h0M1617 340h0M1611 390h0M1574 441h0M1563 357h0M1618 403h0M1566 385h0M1586 312h0M1597 402h0M1550 365h0M1607 365h0M1662 372h0M1585 394h0M1579 318h0M1629 381h0M1558 392h0M1614 341h0M1617 420h0M1588 374h0M1648 347h0M1634 362h0M1598 417h0M1590 360h0M1656 386h0M1588 376h0M1597 318h0M1608 366h0M1515 358h0M1617 333h0M1654 362h0M1598 395h0M1571 323h0M1327 373h0M1361 298h0M1376 376h0M1352 342h0M1375 308h0M1352 368h0M1346 331h0M1361 353h0M1396 370h0M1336 341h0M1365 288h0M1363 345h0M1306 308h0M1367 306h0M1343 358h0M1361 307h0M1409 324h0M1395 344h0M1358 379h0M1366 333h0M1401 377h0M1346 356h0M1370 317h0M1368 359h0M1302 319h0M1376 303h0M1397 325h0M1356 339h0M1349 295h0M1371 368h0M1325 358h0M1366 325h0M1365 389h0M1347 308h0M1406 306h0M1382 341h0M1332 360h0M1376 309h0M1387 363h0M1372 334h0M1395 291h0M1344 370h0M1329 298h0M1373 318h0M1396 324h0M1476 374h0M1502 356h0M1472 384h0M1463 350h0M1499 374h0M1522 378h0M1465 385h0M1465 358h0M1482 380h0M1425 384h0M1483 365h0M1468 400h0M1453 373h0M1491 366h0M1472 386h0M1436 393h0M1456 377h0M1476 409h0M1435 376h0M1482 356h0M1457 385h0M1437 362h0M1482 375h0M1491 390h0M1463 384h0M1484 352h0M1483 392h0M1450 371h0M1485 374h0M1457 403h0M1459 370h0M1490 379h0M1474 383h0M1450 404h0M1468 368h0M1506 400h0M1466 386h0M1489 352h0M1480 396h0M1447 373h0M1492 375h0M1515 385h0M1466 388h0M1474 357h0M1483 381h0M1427 379h0M1471 368h0"/><path stroke="#00afff" d="M1458 400h0M1457 381h0M1510 364h0M1484 388h0M1440 388h0M1464 367h0M1472 404h0M1436 378h0M1477 368h0M1461 389h0M1436 354h0M1495 373h0M1508 378h0M1522 444h0M1531 498h0M1517 466h0M1528 401h0M1522 484h0M1505 436h0M1529 448h0M1545 480h0M1514 479h0M1524 420h0M1530 473h0M1501 457h0M1534 433h0M1523 500h0M1524 446h0M1546 445h0M1533 471h0M1511 482h0M1525 465h0M1527 531h0M1507 437h0M1536 411h0M1515 462h0M1507 405h0M1531 457h0M1535 469h0M1522 481h0M1514 403h0M1538 480h0M1506 471h0M1519 436h0M1525 512h0M1514 450h0M1534 432h0M1525 456h0M1504 501h0M1523 427h0M1539 500h0M1520 460h0M1534 408h0M1526 481h0M1509 432h0M1527 453h0M1540 488h0M1513 495h0M1522 439h0M1524 496h0M1497 474h0M1527 460h0M1517 512h0M1514 476h0M1544 451h0M1526 468h0M1502 506h0M1508 447h0M1530 515h0M1503 482h0M1520 430h0M1517 492h0M1498 449h0M1529 463h0M1540 494h0M1517 482h0M1516 421h0M1523 501h0M1500 474h0M1514 462h0M1511 521h0M1501 448h0M1533 454h0M1521 487h0M1500 494h0M1517 453h0M1520 512h0M1509 467h0M1531 424h0M1510 494h0M1507 424h0M1528 457h0M1544 462h0M1515 465h0M1517 408h0M1522 463h0M1493 468h0M1524 431h0M1517 512h0M1513 456h0M1541 440h0M1531 489h0M1505 505h0M1518 462h0M1531 522h0M1506 474h0M1527 437h0M1515 497h0M1496 433h0M1522 458h0M1524 488h0M1511 462h0M1518 392h0M1519 498h0M1497 449h0M1522 445h0M1509 508h0M1511 435h0M1536 450h0M1525 458h0M1506 517h0M1515 436h0M1535 501h0M1519 418h0M1459 448h0M1332 472h0M1426 412h0M1435 488h0M1393 425h0M1501 367h0M1378 487h0M1356 406h0M1456 450h0M1538 465h0M1424 475h0M1434 414h0M1471 469h0M1320 467h0M1463 417h0M1425 508h0M1407 446h0M1534 418h0M1480 456h0M1364 467h0M1416 437h0M1490 532h0M1316 433h0M1459 384h0M1397 450h0M1331 383h0M1454 414h0M1487 453h0M1410 431h0M1440 361h0M1447 479h0M1362 420h0M1484 416h0M1389 487h0M1415 399h0M1512 423h0M1435 431h0M1340 507h0M1397 396h0M1490 480h0M1380 460h0M1430 375h0M1396 479h0M1304 429h0M1395 435h0M1520 480h0M1355 472h0M1368 388h0M1418 469h0M1304 457h0M1447 437h0M1428 495h0M1445 442h0M1534 427h0M1528 471h0M1353 473h0M1424 415h0M1474 509h0M1369 418h0M1480 388h0M1437 443h0M1359 365h0M1506 418h0M1529 432h0M1423 448h0M1398 376h0M1479 462h0M1372 448h0M1439 430h0M1428 524h0M1352 417h0M1469 398h0M1451 442h0M1307 475h0M1387 403h0M1436 481h0M1359 436h0M1465 367h0M1398 477h0M1348 398h0M1442 429h0M1490 479h0M1393 455h0M1440 396h0M1424 433h0M1290 420h0M1484 411h0M1380 500h0M1395 422h0M1559 443h0M1521 458h0M1381 488h0M1425 422h0M1531 517h0M1361 457h0M1455 394h0M1422 459h0M1344 411h0M1484 441h0M1503 481h0M1412 478h0M1420 365h0M1461 505h0M1350 468h0M1482 444h0M1422 538h0M1398 451h0M1525 460h0M1437 489h0M1300 502h0M1429 419h0M1425 508h0M1380 445h0M1503 406h0M1403 478h0M1383 415h0M1455 455h0M1569 463h0M1384 495h0M1385 420h0M1459 498h0M1302 500h0"/><path stroke="#00bfff" d="M1453 432h0M1452 514h0M1401 454h0M1532 395h0M1499 449h0M1375 482h0M1408 421h0M1476 495h0M1374 438h0M1466 392h0M1435 443h0M1310 384h0M1486 443h0M1533 489h0M1396 467h0M1421 389h0M1457 493h0M1360 441h0M1447 433h0M1385 517h0M1394 406h0M1507 430h0M1435 442h0M1313 489h0M1382 413h0M1452 477h0M1389 461h0M1468 366h0M1433 506h0M1352 426h0M1485 454h0M1553 489h0M1381 479h0M1410 407h0M1447 470h0M1289 475h0M1460 444h0M1407 529h0M1393 455h0M1522 447h0M1461 475h0M1363 469h0M1440 449h0M1472 529h0M1372 460h0M1506 420h0M1423 485h0M1370 395h0M1498 454h0M1501 474h0M1407 487h0M1404 394h0M1466 488h0M1329 470h0M1414 449h0M1416 530h0M1362 436h0M1471 433h0M1420 466h0M1311 500h0M1421 412h0M1490 520h0M1396 465h0M1511 400h0M1420 494h0M1383 430h0M1465 458h0M1523 509h0M1360 473h0M1437 395h0M1417 479h0M1323 432h0M1472 431h0M1406 489h0M1424 441h0M1565 450h0M1513 449h0M1390 500h0M1431 419h0M1524 501h0M1369 458h0M1461 401h0M1463 465h0M1342 420h0M1505 415h0M1551 458h0M1440 454h0M1432 378h0M1467 463h0M1375 446h0M1436 447h0M1420 541h0M1353 423h0M1494 410h0M1444 437h0M1288 468h0M1403 395h0M1448 489h0M1377 433h0M1485 371h0M1369 476h0M1325 386h0M1442 418h0M1532 430h0M1397 452h0M1385 388h0M1420 432h0M1296 455h0M1407 393h0M1392 495h0M1353 423h0M1486 390h0M1447 438h0M1332 464h0M1395 416h0M1475 515h0M1342 456h0M1430 410h0M1385 478h0M1304 411h0M1461 444h0M1465 473h0M1379 445h0M1405 358h0M1428 474h0M1310 422h0M1460 420h0M1383 511h0M1384 408h0M1499 419h0M1430 439h0M1325 510h0M1399 416h0M1480 495h0M1393 464h0M1440 391h0M1415 488h0M1345 447h0M1418 453h0M1549 484h0M1324 463h0M1384 369h0M1429 453h0M1283 431h0M1450 412h0M1386 491h0M1386 423h0M1552 424h0M1514 474h0M1385 468h0M1464 416h0M1482 497h0M1406 433h0M1511 413h0M1442 444h0M1374 380h0M1509 438h0M1538 443h0M1413 460h0M1374 362h0M1488 461h0M1349 455h0M1437 438h0M1422 543h0M1355 431h0M1506 415h0M1455 446h0M1343 483h0M1429 399h0M1474 471h0M1414 430h0M1472 361h0M1421 480h0M1358 398h0M1468 416h0M1533 474h0M1389 461h0M1424 399h0M1438 473h0M1291 441h0M1460 417h0M1389 502h0M1383 428h0M1514 439h0M1474 471h0M1392 497h0M1446 442h0M1522 497h0M1387 458h0M1474 387h0M1449 476h0M1341 421h0M1477 440h0M1522 469h0M1417 469h0M1406 384h0M1452 504h0M1354 469h0M1454 443h0M1420 528h0M1398 439h0M1503 444h0M1440 471h0M1300 499h0M1403 426h0M1447 524h0M1388 470h0M1494 427h0M1393 507h0M1360 437h0M1429 476h0M1533 493h0M1367 506h0M1379 415h0M1429 493h0M1322 484h0M1442 451h0M1416 515h0M1381 464h0M1531 420h0M1484 483h0M1323 514h0M1410 449h0M1476 539h0M1360 448h0M1440 405h0M1396 469h0M1333 397h0M1475 431h0M1514 482h0M1405 458h0M1455 368h0M1461 475h0M1351 424h0M1444 422h0M1348 534h0M1385 414h0M1535 446h0M1482 454h0M1363 511h0M1391 419h0M1474 473h0M1389 448h0M1454 362h0M1417 483h0M1301 421h0M1422 446h0M1504 481h0M1380 478h0M1398 416h0M1421 468h0M1279 466h0M1435 425h0M1395 525h0M1368 432h0M1539 423h0M1483 475h0"/><path stroke="#00cfff" d="M1269 772h0M1313 703h0M1284 802h0M1231 745h0M1310 764h0M1353 791h0M1266 790h0M1284 734h0M1301 770h0M1220 757h0M1313 733h0M1287 813h0M1278 737h0M1373 744h0M1335 787h0M1254 792h0M1303 755h0M1320 825h0M1265 755h0M1336 732h0M1298 784h0M1273 715h0M1337 767h0M1354 790h0M1293 778h0M1258 706h0M1322 808h0M1233 789h0M1303 761h0M1295 835h0M1277 766h0M1356 751h0M1329 785h0M1235 816h0M1311 739h0M1331 807h0M1276 755h0M1330 719h0M1274 798h0M1254 742h0M1306 771h0M1348 807h0M1252 788h0M1299 729h0M1300 791h0M1233 740h0M1330 734h0M1263 794h0M1289 744h0M1368 751h0M1335 748h0M1268 793h0M1271 737h0M1346 787h0M1268 766h0M1300 722h0M1288 773h0M1198 745h0M1318 751h0M1344 785h0M1265 780h0M1260 692h0M1293 781h0M1214 768h0M1252 752h0M1244 845h0M1223 764h0M1300 749h0M1274 786h0M1192 808h0M1244 751h0M1263 814h0M1245 773h0M1312 708h0M1249 800h0M1221 726h0M1291 753h0M1340 766h0M1263 783h0M1263 730h0M1293 777h0M1192 791h0M1277 741h0M1276 817h0M1247 764h0M1323 736h0M1293 772h0M1236 792h0M1278 764h0M1307 821h0M1224 783h0M1291 741h0M1258 804h0M1194 736h0M1291 767h0M1299 816h0M1236 796h0M1266 716h0M1268 821h0M1200 783h0M1274 777h0M1242 838h0M1250 752h0M1322 762h0M1286 782h0M1212 828h0M1244 741h0M1304 818h0M1230 787h0M1270 721h0M1249 822h0M1196 756h0M1242 770h0M1313 801h0M1206 798h0M1241 726h0M1250 791h0M1171 760h0M1258 748h0M1221 810h0M1227 764h0M1339 740h0M1276 778h0M1198 775h0M1257 723h0M1278 811h0M1218 738h0M1290 714h0M1242 766h0M1212 697h0M1301 747h0M1320 766h0M1254 773h0"/><path stroke="#00dfff" d="M1235 716h0M1289 787h0M1215 779h0M1265 763h0M1273 842h0M1222 772h0M1304 758h0M1284 795h0M1195 826h0M1237 766h0M1274 830h0M1229 796h0M1281 731h0M1237 824h0M1201 746h0M1261 753h0M1316 798h0M1226 797h0M1237 735h0M1232 773h0M1150 763h0M1253 747h0M1212 830h0M1210 752h0M1312 757h0M1271 782h0M1204 811h0M1215 755h0M1288 829h0M1181 782h0M1239 721h0M1225 795h0M1155 761h0M1249 779h0M1261 799h0M1201 795h0M1188 701h0M1228 816h0M1142 778h0M1216 755h0M1201 834h0M1183 763h0M1271 764h0M1247 784h0M1160 820h0M1246 758h0M1261 831h0M1218 776h0M1273 735h0M1210 805h0M1209 749h0M1236 776h0M1305 782h0M1194 799h0M1193 712h0M1226 793h0M1134 783h0M1225 749h0M1197 813h0M1175 768h0M1270 738h0M1240 789h0M1157 806h0M1193 752h0M1219 832h0M1159 781h0M1220 754h0M1205 796h0M1143 724h0M1240 767h0M1252 812h0M1191 772h0M1231 698h0M1236 786h0M1185 742h0M1244 750h0M1205 831h0M1220 749h0M1289 785h0M1257 786h0M1187 828h0M1213 754h0M1263 803h0M1217 783h0M1237 709h0M1218 828h0M1151 757h0M1232 763h0M1292 797h0M1191 794h0M1208 725h0M1236 773h0M1125 758h0M1241 721h0M1208 819h0M1193 763h0M1277 755h0M1227 785h0M1156 796h0M1206 761h0M1234 850h0M1159 765h0M1248 731h0M1193 790h0M1155 731h0M1242 770h0M1251 780h0M1168 782h0M1160 708h0M1219 801h0M1149 791h0M1217 779h0M1214 854h0M1172 780h0M1256 773h0M1217 799h0M1147 821h0M1201 754h0M1232 835h0M1174 787h0M1238 738h0M1190 811h0M1165 744h0M1230 766h0M1263 801h0M1173 781h0M1204 718h0M1217 775h0M1142 738h0M1232 739h0M1194 793h0M1204 746h0M1273 757h0M1247 760h0M1159 789h0M1186 730h0M1237 808h0M1163 760h0M1217 721h0M1196 780h0M1126 737h0M1230 754h0M1240 794h0M1183 781h0M1189 715h0M1210 791h0M1150 763h0M1184 759h0M1160 841h0M1153 740h0M1235 755h0M1206 779h0M1101 793h0M1171 730h0M1182 812h0M1153 762h0M1242 721h0M1166 803h0M1159 734h0M1202 767h0M1254 767h0M1175 790h0M1159 738h0M1189 774h0M1099 795h0M1193 729h0M1181 821h0M1151 769h0M1232 735h0M1207 786h0M1128 806h0M1160 758h0M1215 835h0M1137 773h0M1189 713h0M1171 779h0M1119 736h0M1189 754h0M1199 783h0M1157 771h0M1177 710h0M1200 805h0M1118 760h0M1198 747h0M1149 839h0M1152 758h0M1234 761h0M1194 766h0M1130 828h0M1157 731h0M1219 802h0M1147 771h0M1184 703h0M1178 792h0M1124 755h0M1174 762h0M1244 799h0M1131 786h0M1155 718h0M1172 792h0M1087 778h0M1177 749h0"/><path stroke="#00efff" d="M1156 821h0M1150 763h0M1232 745h0M1193 791h0M1118 788h0M1163 750h0M1188 822h0M1132 766h0M1194 749h0M1163 772h0M1112 716h0M1212 761h0M1226 782h0M1137 795h0M1135 712h0M1183 793h0M1110 762h0M1178 740h0M1175 835h0M1142 743h0M1232 747h0M1208 780h0M1127 805h0M1069 841h0M1091 743h0M1163 746h0M1169 777h0M1195 798h0M1156 765h0M1133 786h0M1072 840h0M1094 757h0M1202 720h0M1144 818h0M1161 806h0M1097 794h0M1114 719h0M1121 732h0M1107 823h0M1054 775h0M1194 757h0M1105 784h0M1151 820h0M1074 820h0M1239 811h0M1069 753h0M1081 800h0M1010 790h0M1081 749h0M1069 836h0M1051 771h0M1123 757h0M1146 785h0M1102 798h0M1037 805h0M1184 733h0M1076 766h0M1176 787h0M1084 749h0M1194 756h0M1099 848h0M1148 821h0M1043 787h0M1161 766h0M1224 777h0M1112 767h0M1075 818h0M1194 780h0M1127 813h0M1148 766h0M1049 757h0M1214 823h0M1111 785h0M1115 792h0M1159 715h0M1153 790h0M1126 797h0M1072 734h0M1168 736h0M1081 808h0M1192 767h0M1138 770h0M1133 700h0M1170 793h0M1046 723h0M1088 763h0M1112 824h0M1148 744h0M1135 814h0M1114 742h0M1180 739h0M1031 811h0M1090 778h0M1094 854h0M1051 788h0M1127 771h0M1156 771h0M1062 810h0M1106 798h0M1033 829h0M1091 754h0M1118 834h0M1135 744h0M1160 825h0M1069 800h0M1119 774h0M1133 746h0M1106 818h0M1074 761h0M1116 779h0M1175 719h0M1159 819h0M1106 792h0M1090 748h0M1058 801h0M1145 783h0M1101 731h0M1216 798h0M1112 816h0M1123 748h0M1103 798h0M1034 768h0M1164 797h0M1087 795h0M1120 771h0M1162 749h0M1156 817h0M1088 824h0M1158 777h0M1096 776h0M1218 737h0M1167 779h0M1197 779h0M1102 798h0M1148 738h0M1145 796h0M1190 819h0M1083 819h0M1108 771h0M1145 830h0M1074 792h0M1124 755h0M1115 763h0M1113 794h0M1177 729h0M1154 786h0M1083 721h0M1027 740h0M1135 771h0M1184 755h0M1139 804h0M1067 803h0M1199 794h0M1129 775h0M1096 728h0M1143 709h0M1140 794h0M1095 768h0M1153 768h0M1097 856h0M1126 813h0M1068 783h0M1104 744h0M1116 782h0M1084 860h0M1069 766h0M1190 763h0M1154 779h0M1129 803h0M1048 811h0M1110 757h0M1159 769h0M1078 821h0M1115 824h0M1087 777h0M1103 743h0M1145 809h0M1143 741h0M1087 777h0M1093 810h0M1079 728h0M1133 712h0M1098 806h0M1126 776h0M1065 741h0M1161 780h0M1126 767h0M1079 798h0M1070 723h0M1165 798h0M1099 770h0M1015 780h0M1075 793h0M1087 731h0M1088 813h0M1065 761h0M1141 727h0M1128 769h0M1068 791h0M1095 744h0M1102 764h0M1135 823h0M1095 786h0M1065 767h0M1110 714h0M1090 781h0M1044 723h0M1030 776h0M1125 758h0M1130 793h0M1135 749h0M1082 784h0M1096 705h0M1097 835h0M1092 815h0M1097 771h0M1037 779h0M1094 770h0M1065 834h0M1063 760h0M1113 763h0M1201 767h0M1155 803h0M1086 768h0M1045 818h0M1078 804h0M1137 766h0M1154 845h0M1072 728h0M1116 796h0M1057 766h0M1090 715h0M1102 777h0M1184 744h0M1083 803h0M1054 758h0M1130 790h0M1102 730h0M1165 785h0M1093 765h0M1181 801h0M1138 796h0M1125 804h0M1086 719h0M1170 814h0M1083 805h0M1045 792h0M1138 753h0M1138 837h0M1085 756h0M1158 742h0M1134 763h0M1060 731h0M1062 806h0M1088 797h0M1117 730h0M1141 806h0M1094 773h0M1140 715h0M1096 792h0M1073 740h0M1016 786h0M1090 764h0M1113 757h0M1079 817h0M1191 808h0M1085 782h0M1065 778h0M1111 714h0M1115 794h0M1026 769h0M1135 765h0M1156 752h0M1123 791h0M1046 793h0M1086 758h0M1078 833h0M1105 846h0M1059 774h0M1133 761h0M1102 802h0M1082 766h0M1182 758h0M1054 732h0M1132 775h0M1126 777h0M1139 783h0M1089 793h0M1054 812h0M1077 755h0M1080 719h0M1109 788h0M1061 783h0M1139 820h0M1111 777h0M1094 844h0M1063 774h0M1110 721h0M1071 777h0M1089 777h0M1149 772h0M1105 794h0M1040 812h0M1090 745h0M1108 820h0M1068 782h0M1029 740h0M1137 727h0M1086 811h0M1057 749h0M1141 748h0M1168 796h0M1083 794h0M1096 721h0M1115 768h0M1138 809h0M1120 817h0M1063 782h0M1048 781h0M1093 747h0M1085 780h0M1020 755h0M1117 763h0M1126 747h0M1073 819h0M1078 759h0M1086 847h0M1082 746h0M1161 770h0M1130 776h0M1074 807h0M1079 758h0M1149 825h0M1170 753h0M1134 777h0M1058 784h0M1100 736h0M1106 808h0M1051 792h0M1112 738h0M1113 805h0M1090 767h0M1147 739h0M1085 825h0M1041 769h0M1118 769h0M1131 796h0M1092 795h0M1078 740h0M1071 717h0M1123 816h0M1052 795h0M1099 765h0M1098 842h0M1148 781h0M1080 776h0M1175 798h0M1089 808h0M1129 773h0M1084 742h0M1099 793h0M1036 824h0M1097 754h0M1120 822h0"/><path stroke="#00ffff" d="M1088 781h0M1113 798h0M1015 809h0M1144 741h0M1107 803h0M1082 748h0M1124 757h0M1116 770h0M1165 786h0M1091 810h0M1075 734h0M1122 795h0M1099 834h0M1086 772h0M1162 758h0M1122 808h0M1043 826h0M1037 792h0M1114 744h0M1091 827h0M1078 762h0M950 742h0M907 835h0M879 781h0M934 807h0M960 837h0M880 820h0M908 774h0M909 823h0M845 785h0M934 784h0M896 836h0M906 776h0M973 781h0M945 791h0M894 817h0M930 790h0M954 837h0M893 800h0M942 744h0M922 808h0M870 754h0M948 770h0M969 807h0M908 801h0M919 737h0M933 834h0M865 804h0M927 800h0M902 855h0M896 797h0M950 804h0M926 813h0M859 829h0M928 764h0M932 841h0M895 791h0M961 769h0M909 815h0M905 760h0M937 797h0M990 795h0M901 821h0M895 758h0M930 811h0M866 807h0M923 762h0M934 822h0M926 787h0M971 756h0M958 795h0M888 817h0M912 765h0M953 833h0M892 790h0M946 744h0M926 795h0M874 746h0M953 774h0M973 811h0M923 807h0M935 750h0M948 810h0M896 778h0M937 786h0M909 864h0M906 774h0M976 790h0M940 798h0M878 839h0M905 768h0M943 826h0M906 793h0M936 726h0M923 809h0M885 762h0M934 772h0M982 800h0M912 796h0M929 753h0M937 796h0M842 802h0M949 761h0M918 830h0M909 776h0M984 764h0M945 804h0M887 804h0M913 771h0M939 845h0M886 787h0M949 771h0M913 816h0M882 752h0M944 794h0M949 810h0M902 813h0M878 740h0M920 832h0M854 818h0M907 790h0M905 860h0M881 795h0M934 787h0M915 816h0M862 839h0M903 784h0M928 842h0M899 797h0M944 751h0M916 819h0M885 768h0M919 784h0M961 830h0M887 810h0M924 747h0M921 800h0M852 765h0M936 762h0M892 810h0M906 766h0M971 777h0M941 778h0M885 808h0M890 766h0M943 819h0M884 798h0M918 750h0M910 788h0M860 768h0M932 774h0M946 806h0M888 807h0M882 745h0M911 824h0M858 809h0M918 790h0M914 856h0M899 776h0M963 779h0M935 800h0M889 820h0M929 763h0M950 823h0M938 790h0M964 747h0M914 817h0M888 743h0M951 784h0M977 799h0M898 813h0M899 749h0M921 786h0M843 791h0M928 745h0M921 822h0M895 765h0M956 744h0M930 783h0M873 810h0M906 779h0M949 854h0M881 783h0M940 748h0M910 814h0M872 767h0M937 795h0M950 826h0M891 807h0M914 730h0M915 817h0M870 778h0M918 779h0M883 834h0M891 767h0M943 785h0M918 796h0M866 842h0M897 769h0M945 838h0M890 803h0M938 742h0M912 829h0M872 779h0M917 795h0M973 823h0M887 809h0M911 747h0M917 812h0M859 801h0M939 784h0M922 838h0M928 799h0M980 786h0M938 818h0M858 808h0M918 766h0M927 839h0M886 771h0M950 753h0M915 783h0M889 732h0M944 772h0M964 779h0M909 790h0M995 675h0M1003 714h0M901 735h0M940 793h0M890 786h0M929 777h0M936 856h0M889 766h0M954 756h0M933 792h0M862 817h0M900 753h0M935 817h0M894 780h0M947 727h0M903 825h0M866 766h0M924 799h0M954 826h0M885 812h0M895 759h0M910 796h0M846 780h0M929 764h0M898 836h0M900 775h0M973 783h0M941 800h0M884 832h0M910 778h0M960 850h0M877 808h0M927 759h0M917 812h0M875 780h0M934 784h0M952 812h0M919 801h0M915 723h0M938 821h0M866 791h0M928 779h0M908 849h0M895 773h0M954 780h0M917 802h0M844 814h0M910 755h0M921 831h0M904 777h0M959 751h0M906 811h0M894 752h0M922 779h0M991 801h0M901 806h0M916 744h0M944 796h0M869 782h0M937 765h0M930 825h0M922 771h0M971 759h0M956 788h0M896 801h0M932 763h0M942 827h0M888 781h0M933 757h0M916 796h0M870 743h0M952 789h0M956 831h0M896 800h0M938 737h0M931 828h0M882 792h0M936 804h0M894 850h0M898 782h0M967 814h0M937 812h0M890 861h0M914 790h0"/><path stroke="#00ffee" d="M955 832h0M914 805h0M932 723h0M912 830h0M855 789h0M922 788h0M962 805h0M895 823h0M908 768h0M928 812h0M859 805h0M941 774h0M925 839h0M907 785h0M974 760h0M958 792h0M896 803h0M934 782h0M951 853h0M884 793h0M951 749h0M907 818h0M871 758h0M949 787h0M966 795h0M917 815h0M888 753h0M947 835h0M879 816h0M924 790h0M922 855h0M888 804h0M946 785h0M930 804h0M862 840h0M905 774h0M942 844h0M894 808h0M939 761h0M916 840h0M889 785h0M927 805h0M959 838h0M896 822h0M930 769h0M940 818h0M878 781h0M946 771h0M919 814h0M928 795h0M986 785h0M964 795h0M896 831h0M911 772h0M970 840h0M900 806h0M945 764h0M937 817h0M869 765h0M965 783h0M980 817h0M918 805h0M920 747h0M946 822h0M886 795h0M930 790h0M905 848h0M889 779h0M956 795h0M923 824h0M861 834h0M916 779h0M929 843h0M904 807h0M961 767h0M907 841h0M895 780h0M930 813h0M962 809h0M912 821h0M900 773h0M922 817h0M866 823h0M923 782h0M921 860h0M897 803h0M961 773h0M933 812h0M877 840h0M905 801h0M940 845h0M874 813h0M935 762h0M908 818h0M863 771h0M940 787h0M953 819h0M914 791h0M918 728h0M933 816h0M879 779h0M935 773h0M897 838h0M894 774h0M946 785h0M911 783h0M859 836h0M881 770h0M924 827h0M882 794h0M907 747h0M915 812h0M878 772h0M917 788h0M811 775h0M796 860h0M770 804h0M809 824h0M864 850h0M797 841h0M814 779h0M829 849h0M768 823h0M827 804h0M807 868h0M803 808h0M869 806h0M828 852h0M757 844h0M805 809h0M804 878h0M769 814h0M817 786h0M789 811h0M774 756h0M834 803h0M850 814h0M797 835h0M789 758h0M829 828h0M778 824h0M814 791h0M817 876h0M781 787h0M840 771h0M823 802h0M770 839h0M792 777h0M823 824h0M794 796h0M832 738h0M799 837h0M766 765h0M824 792h0M852 837h0M791 830h0M811 770h0M818 822h0M751 796h0M826 783h0M788 851h0M794 791h0M853 798h0M820 812h0M789 835h0M802 808h0M852 873h0M780 821h0M822 752h0M814 823h0M760 769h0M833 782h0M854 814h0M804 810h0M805 740h0M819 828h0M762 797h0M817 774h0M793 849h0M787 779h0M832 781h0M825 801h0M751 838h0M810 762h0M825 847h0M797 793h0M849 754h0M796 817h0M784 755h0M813 788h0M866 802h0M788 813h0M801 757h0M808 817h0M751 819h0M801 780h0M791 852h0M795 811h0M861 772h0M831 832h0M761 843h0M802 784h0M837 862h0M794 795h0M831 769h0M812 813h0M766 751h0M842 792h0M839 827h0M796 805h0M820 741h0M814 822h0M771 788h0M811 801h0M774 870h0M789 771h0M855 803h0M827 805h0M786 856h0M800 772h0M827 826h0M784 799h0M808 738h0M812 830h0M772 788h0M816 802h0M851 824h0M802 832h0M810 769h0M814 807h0M749 816h0M817 773h0M803 853h0M788 795h0M846 767h0M818 808h0M760 819h0M787 795h0M814 881h0M764 806h0M825 768h0M803 835h0M774 761h0M822 795h0M834 802h0M786 806h0M777 751h0M826 818h0M754 807h0M804 772h0M802 853h0M771 782h0M828 766h0M813 800h0M747 845h0M793 773h0M824 845h0M787 812h0M824 764h0M803 836h0M774 795h0M807 817h0M857 851h0M776 838h0M814 765h0M813 833h0M760 802h0M823 795h0M791 849h0M792 797h0M860 799h0M830 815h0M773 851h0M790 797h0M827 852h0"/><path stroke="#00ffdd" d="M764 816h0M798 778h0M792 826h0M751 789h0M827 800h0M836 835h0M781 821h0M791 760h0M809 837h0M756 810h0M802 804h0M787 880h0M788 806h0M849 813h0M817 830h0M753 842h0M806 789h0M816 860h0M806 823h0M852 770h0M799 845h0M795 763h0M842 803h0M873 803h0M810 829h0M801 759h0M821 815h0M753 825h0M824 774h0M825 860h0M809 803h0M863 775h0M843 817h0M795 839h0M812 794h0M855 867h0M783 800h0M832 751h0M809 820h0M766 757h0M830 786h0M845 815h0M789 798h0M797 734h0M811 819h0M764 796h0M808 789h0M786 860h0M794 790h0M842 799h0M813 797h0M761 867h0M787 766h0M834 834h0M787 801h0M823 740h0M804 832h0M768 786h0M805 794h0M849 823h0M766 826h0M782 765h0M805 820h0M749 809h0M814 781h0M801 840h0M810 801h0M860 791h0M851 836h0M781 845h0M809 795h0M820 877h0M777 808h0M822 792h0M797 826h0M770 770h0M831 822h0M841 834h0M791 842h0M797 779h0M834 849h0M789 829h0M827 817h0M817 878h0M796 806h0M854 798h0M838 839h0M767 855h0M816 794h0M827 868h0M802 832h0M849 765h0M797 865h0M776 790h0M825 820h0M848 861h0M794 835h0M822 792h0M823 838h0M753 805h0M839 809h0M794 876h0M803 807h0M864 808h0M842 814h0M795 835h0M813 790h0M861 851h0M790 819h0M820 760h0M807 828h0M767 782h0M836 787h0M845 827h0M804 815h0M801 743h0M831 840h0M779 806h0M831 785h0M816 864h0M797 775h0M858 781h0M836 808h0M762 832h0M816 770h0M840 850h0M811 807h0M853 771h0M819 840h0M793 783h0M833 810h0M875 825h0M800 847h0M803 780h0M832 843h0M766 839h0M819 797h0M818 855h0M796 805h0M851 781h0M835 827h0M781 839h0M813 795h0M840 855h0M795 808h0M831 779h0M808 807h0M761 758h0M843 793h0M847 829h0M794 821h0M818 738h0M823 824h0M768 791h0M814 789h0M774 881h0M788 784h0M848 811h0M824 837h0M775 868h0M795 790h0M835 848h0M786 811h0M816 738h0M793 847h0M752 779h0M808 799h0M834 833h0M766 825h0M792 771h0M797 815h0M756 802h0M817 774h0M798 840h0M797 783h0M856 787h0M837 818h0M793 813h0M826 797h0M831 868h0M790 789h0M856 764h0M809 821h0M788 743h0M846 794h0M854 796h0M807 804h0M787 744h0M830 824h0M774 811h0M810 777h0M810 852h0M777 789h0M835 781h0M826 815h0M772 871h0M817 783h0M848 848h0M804 806h0M807 850h0M755 880h0M781 829h0M799 882h0M770 852h0M801 796h0M779 875h0M748 826h0M803 837h0M840 871h0M784 861h0M794 818h0M793 852h0M716 838h0M806 827h0M765 898h0M777 846h0M850 848h0M821 867h0M769 895h0M789 857h0M816 903h0M757 880h0M797 835h0M781 894h0M726 850h0M791 860h0M806 883h0M768 862h0M763 799h0M776 883h0M711 860h0M763 846h0M744 906h0M736 833h0M796 838h0M764 854h0M711 874h0M757 821h0M768 893h0M750 863h0M798 836h0M755 888h0M746 843h0M764 868h0M818 877h0M742 891h0M743 824h0M775 889h0M712 876h0M769 849h0M758 911h0M744 865h0M798 835h0M782 874h0M717 889h0M742 851h0M762 914h0M719 867h0M757 844h0M748 888h0M698 838h0M780 878h0M780 903h0M736 890h0M757 821h0M756 890h0M727 846h0M780 862h0M747 918h0M756 842h0M808 863h0M778 864h0M739 893h0M749 834h0M779 882h0M749 868h0M766 818h0M754 900h0M714 851h0"/><path stroke="#00ffcc" d="M773 857h0M796 885h0M730 889h0M742 845h0M756 898h0M682 893h0M756 854h0M733 923h0M721 866h0M773 857h0M749 888h0M698 891h0M725 863h0M744 937h0M700 864h0M754 827h0M719 890h0M699 823h0M753 860h0M760 869h0M709 895h0M692 837h0M733 911h0M680 898h0M723 875h0M718 938h0M701 879h0M754 865h0M730 895h0M668 928h0M710 865h0M741 935h0M700 892h0M750 851h0M725 917h0M697 872h0M729 903h0M757 933h0M685 911h0M721 856h0M728 915h0M668 892h0M724 879h0M688 930h0M700 885h0M770 887h0M740 884h0M677 906h0M699 860h0M724 926h0M669 892h0M706 857h0M701 906h0M652 864h0M721 875h0M726 907h0M668 898h0M683 838h0M690 907h0M652 884h0M687 889h0M663 963h0M659 859h0M715 877h0M686 912h0M623 924h0M676 875h0M671 946h0M664 905h0M722 859h0M604 999h0M610 941h0M739 911h0M668 967h0M575 965h0M636 910h0M653 1021h0M578 939h0M658 908h0M619 957h0M562 877h0M670 945h0M702 974h0M621 971h0M612 892h0M661 981h0M584 968h0M642 956h0M641 1035h0M606 931h0M712 912h0M689 952h0M573 987h0M629 918h0M661 1002h0M608 955h0M691 872h0M629 990h0M588 890h0M671 930h0M700 985h0M587 943h0M639 875h0M621 948h0M536 916h0M650 915h0M585 1012h0M601 916h0M703 940h0M662 941h0M588 987h0M607 937h0M704 1021h0M600 982h0M675 904h0M665 985h0M571 929h0M686 936h0M708 985h0M633 958h0M616 842h0M675 983h0M561 945h0M649 916h0M630 1032h0M602 926h0M695 917h0M652 947h0M530 982h0M624 880h0M642 977h0M594 917h0M666 863h0M609 949h0M594 884h0M645 936h0M737 958h0M592 982h0M598 894h0M657 978h0M556 975h0M650 926h0M650 1019h0M647 945h0M717 902h0M707 954h0M615 979h0M649 916h0M701 1005h0M618 945h0M688 909h0M662 963h0M548 879h0M692 934h0M626 935h0M704 996h0M598 978h0M654 877h0M656 991h0M568 936h0M764 1033h0M640 924h0M571 1023h0M601 893h0M694 929h0M647 938h0M548 1006h0M593 915h0M607 959h0M635 993h0M608 960h0M668 854h0M678 849h0M633 995h0M576 908h0M657 921h0M701 972h0M580 957h0M602 881h0M677 964h0M613 943h0M525 936h0M638 930h0M593 1022h0M592 950h0M524 924h0M698 943h0M662 980h0M574 967h0M630 945h0M649 1039h0M573 955h0M677 930h0M615 988h0M591 890h0M682 955h0M699 957h0M624 969h0M627 939h0M581 874h0M665 993h0M664 946h0M550 977h0M617 937h0M618 1038h0M571 953h0M648 930h0M613 957h0M557 1007h0M597 924h0M656 1024h0M605 1001h0M569 812h0M578 967h0M637 884h0M616 1018h0M599 997h0M560 921h0M623 961h0M698 1011h0M585 986h0M625 907h0M483 941h0M642 976h0M550 945h0M656 924h0M617 1002h0M630 965h0M732 944h0M673 980h0M573 1028h0M619 946h0M697 1025h0M597 985h0M651 913h0M636 986h0M650 891h0M650 1079h0M542 916h0M599 942h0M674 933h0M700 975h0M613 971h0M615 875h0M659 989h0M573 941h0M645 932h0M624 1037h0M592 910h0M692 922h0M657 943h0M553 976h0M640 900h0M650 994h0M610 936h0M688 871h0M666 941h0M624 980h0M595 881h0M674 980h0M662 928h0M715 947h0M612 960h0M609 895h0M509 990h0M635 961h0M536 965h0M656 901h0M606 1029h0M579 935h0M684 902h0M590 868h0M656 950h0M563 954h0M617 897h0M660 1008h0M569 928h0M656 882h0M609 976h0M569 903h0M678 943h0M638 1046h0M537 951h0M696 984h0M709 916h0M631 960h0M657 844h0M664 990h0M626 1030h0M576 920h0M661 914h0"/><path stroke="#00ffbb" d="M607 1000h0M640 901h0M726 939h0M682 935h0M598 1010h0M617 894h0M685 982h0M562 933h0M618 955h0M658 881h0M651 992h0M590 937h0M641 958h0M722 982h0M602 1001h0M595 905h0M643 1002h0M609 967h0M763 985h0M542 980h0M670 936h0M530 1028h0M627 1020h0M610 940h0M716 918h0M594 864h0M681 986h0M577 1004h0M636 974h0M636 939h0M673 1038h0M607 948h0M683 899h0M634 942h0M572 868h0M657 918h0M677 934h0M614 966h0M595 864h0M664 976h0M579 960h0M634 932h0M636 1012h0M590 901h0M688 881h0M663 946h0M573 992h0M628 910h0M453 977h0M652 997h0M626 949h0M677 869h0M617 975h0M682 927h0M570 883h0M593 1013h0M547 920h0M666 919h0M730 845h0M709 978h0M593 953h0M645 892h0M634 969h0M528 921h0M722 933h0M667 908h0M610 1006h0M625 917h0M716 927h0M681 954h0M607 974h0M558 974h0M642 937h0M703 1025h0M600 971h0M658 891h0M667 887h0M635 970h0M569 900h0M684 924h0M703 955h0M633 938h0M635 844h0M647 966h0M584 919h0M652 1048h0M657 903h0M612 983h0M601 892h0M599 909h0M685 901h0M650 921h0M547 960h0M643 866h0M646 983h0M661 838h0M597 905h0M702 867h0M623 952h0M620 872h0M667 916h0M725 931h0M612 967h0M600 867h0M664 945h0M567 942h0M639 894h0M604 982h0M532 869h0M631 995h0M719 944h0M604 934h0M715 888h0M690 1043h0M672 959h0M576 976h0M570 1007h0M621 913h0M668 1023h0M590 957h0M650 895h0M670 869h0M640 1022h0M614 974h0M546 908h0M676 940h0M685 982h0M596 953h0M636 864h0M647 959h0M497 955h0M586 923h0M632 971h0M571 1077h0M655 935h0M597 1044h0M601 901h0M708 929h0M664 944h0M587 998h0M630 900h0M678 989h0M618 948h0M586 921h0M678 856h0M721 915h0M647 990h0M592 912h0M668 920h0M715 953h0M601 956h0M620 877h0M649 942h0M527 935h0M677 899h0M633 1018h0M616 943h0M717 926h0M664 972h0M581 964h0M639 923h0M659 1025h0M591 935h0M673 904h0M623 952h0M587 865h0M636 966h0M672 923h0M686 927h0M629 924h0M603 851h0M660 970h0M547 947h0M632 910h0M621 1028h0M585 919h0M679 909h0M661 954h0M544 1060h0M563 993h0M640 893h0M683 996h0M623 941h0M693 889h0M625 983h0M598 917h0M657 943h0M707 993h0M600 963h0M557 915h0M658 881h0M654 962h0M654 960h0M550 927h0M661 927h0M616 998h0M629 926h0M732 942h0M655 951h0M571 1016h0M597 945h0M661 1006h0M569 972h0M569 979h0M641 797h0M621 907h0M618 972h0M684 1003h0M536 922h0M504 896h0M650 917h0M719 919h0M689 968h0M596 973h0M592 868h0M633 983h0M545 957h0M760 955h0M606 929h0M599 1025h0M572 918h0M666 919h0M631 966h0M547 1005h0M622 937h0M648 1025h0M617 967h0M695 884h0M545 966h0M622 1021h0M566 875h0M591 923h0M666 950h0M602 995h0M720 950h0M632 972h0M623 885h0M652 949h0M553 964h0M640 909h0M643 1002h0M609 946h0M681 923h0M643 979h0M575 989h0M609 951h0M680 1039h0M564 966h0M655 897h0M613 984h0M539 897h0M483 984h0M657 926h0M668 970h0M584 938h0M614 844h0M632 970h0M545 914h0M631 910h0M585 996h0M604 896h0M672 908h0M613 1051h0M683 908h0M635 930h0M623 931h0M540 1004h0M597 891h0M718 891h0M671 988h0M597 937h0M645 855h0M645 988h0M633 977h0M567 904h0M499 967h0M633 933h0M709 965h0M575 954h0M612 875h0M623 955h0M534 930h0M633 903h0M608 992h0M628 938h0M738 920h0M687 991h0M561 992h0M592 945h0M641 939h0M663 1045h0M599 957h0M691 930h0M626 992h0M570 897h0M671 973h0M700 979h0M611 991h0M578 908h0M644 1063h0M652 982h0M571 973h0M629 946h0M634 1051h0M572 916h0M573 926h0M664 899h0M638 960h0M561 1003h0M601 925h0M653 996h0M603 939h0M655 860h0M612 982h0M573 915h0M650 946h0M708 988h0M609 971h0M715 882h0M633 907h0M638 962h0M521 945h0M656 934h0M614 1038h0M612 939h0M725 943h0M673 965h0M578 1002h0M623 949h0M694 1022h0M576 962h0M650 883h0M644 976h0M555 922h0M653 936h0M673 975h0M612 945h0M622 862h0M661 978h0M631 975h0M552 940h0M513 861h0M717 919h0M628 903h0M739 981h0M608 1012h0M585 910h0M669 901h0M633 932h0M525 962h0M593 1008h0M627 885h0M578 839h0M641 989h0M602 931h0"/><path stroke="#00ffaa" d="M685 872h0M618 957h0M611 876h0M659 918h0M725 948h0M610 983h0M613 890h0M644 964h0M521 963h0M626 912h0M617 1001h0M596 938h0M706 912h0M668 962h0M561 990h0M605 925h0M658 1024h0M602 965h0M643 1010h0M500 991h0M675 921h0M644 964h0M576 885h0M699 947h0M710 1000h0M620 977h0M663 892h0M586 900h0M668 1001h0M600 947h0M653 953h0M593 1040h0M601 1016h0M598 933h0M685 959h0M647 965h0M565 1027h0M594 935h0M650 1004h0M618 968h0M559 925h0M648 848h0M622 1003h0M557 937h0M645 928h0M686 970h0M578 982h0M615 894h0M628 959h0M523 934h0M630 883h0M615 987h0M594 902h0M686 891h0M643 947h0M554 961h0M611 933h0M653 1039h0M549 946h0M672 901h0M647 890h0M589 977h0M560 882h0M649 945h0M684 968h0M610 983h0M587 870h0M651 977h0M574 964h0M645 925h0M647 1031h0M610 944h0M684 936h0M660 965h0M572 1019h0M640 923h0M666 1030h0M663 962h0M600 970h0M521 1041h0M673 889h0M613 997h0M581 926h0M635 955h0M695 1012h0M573 990h0M630 919h0M615 903h0M719 1038h0M621 997h0M557 953h0M667 951h0M607 1010h0M620 936h0M725 924h0M668 946h0M579 983h0M621 922h0M692 1003h0M605 963h0M600 933h0M665 872h0M645 933h0M558 869h0M676 895h0M703 955h0M623 956h0M737 872h0M636 867h0M669 957h0M587 987h0M596 926h0M662 922h0M624 1045h0M610 893h0M713 908h0M680 953h0M566 864h0M564 960h0M640 895h0M658 983h0M687 899h0M633 921h0M711 884h0M743 990h0M635 964h0M621 871h0M690 931h0M744 932h0M639 963h0M615 878h0M510 955h0M663 939h0M550 978h0M654 892h0M668 999h0M630 917h0M716 886h0M683 927h0M595 955h0M600 888h0M612 908h0M661 1001h0M561 932h0M633 875h0M605 951h0M642 985h0M557 888h0M540 931h0M660 927h0M694 977h0M623 960h0M671 954h0M619 846h0M644 1003h0M546 942h0M633 919h0M595 1009h0M584 906h0M670 917h0M626 935h0M561 1005h0M598 884h0M655 976h0M573 945h0M627 866h0M609 971h0M568 923h0M620 921h0M722 951h0M577 949h0M601 856h0M631 960h0M534 942h0M635 898h0M625 980h0M614 920h0M602 1005h0M722 896h0M668 940h0M569 943h0M642 894h0M670 988h0M604 918h0M686 882h0M639 917h0M584 868h0M705 914h0M724 941h0M628 951h0M629 850h0M692 965h0M595 945h0M668 922h0M646 1044h0M605 938h0M705 942h0M652 987h0M562 1017h0M624 936h0M645 1023h0M610 976h0M694 880h0M602 913h0M798 923h0M618 1016h0M572 929h0M665 951h0M708 1003h0M687 968h0M556 1015h0M604 882h0M736 1035h0M604 972h0M642 908h0M645 982h0M546 940h0M672 935h0M598 1025h0M626 949h0M711 963h0M666 972h0M578 1009h0M604 960h0M694 1029h0M567 977h0M622 896h0M617 999h0M539 945h0M656 952h0M678 982h0M600 984h0M595 877h0M670 1001h0M571 971h0M640 943h0M620 1043h0M610 947h0M707 942h0M672 963h0M543 1004h0M647 907h0M665 1012h0M598 950h0M685 883h0M624 988h0M588 915h0M646 964h0M721 975h0M594 999h0M603 908h0M638 976h0M538 982h0M634 933h0M632 1021h0M623 970h0M735 906h0M681 991h0M575 1018h0M628 935h0M672 1019h0M590 965h0M668 907h0M630 970h0M546 882h0M678 924h0M698 972h0M625 956h0M659 867h0M676 985h0M607 922h0M674 930h0M618 1034h0M635 904h0M723 934h0M682 946h0M603 1002h0M638 915h0M681 997h0M632 954h0M671 866h0M645 996h0M564 925h0M639 937h0M684 986h0M583 965h0M607 905h0M618 980h0M537 954h0M648 926h0M586 1029h0M580 933h0M685 925h0M652 974h0M566 978h0M622 937h0M650 1047h0M599 956h0M690 911h0M631 981h0M604 900h0M695 965h0M716 961h0M643 973h0M601 853h0M681 960h0M568 956h0M634 901h0M630 1010h0M582 908h0M670 884h0M636 938h0M549 977h0M607 880h0"/><path stroke="#00ff99" d="M662 972h0M601 917h0M656 857h0M624 947h0M580 886h0M628 916h0M737 981h0M586 939h0M634 845h0M648 945h0M555 902h0M677 888h0M633 980h0M639 906h0M731 917h0M695 924h0M598 978h0M632 892h0M694 972h0M600 923h0M503 1053h0M582 1081h0M637 1129h0M512 1120h0M563 1073h0M577 1125h0M461 1111h0M615 1105h0M543 1170h0M558 1114h0M684 1117h0M651 1125h0M548 1146h0M591 1113h0M659 1155h0M529 1113h0M619 1049h0M567 1125h0M470 1069h0M617 1091h0M636 1134h0M537 1123h0M525 1045h0M563 1130h0M475 1086h0M590 1071h0M552 1141h0M543 1067h0M639 1073h0M581 1088h0M442 1111h0M578 1048h0M607 1130h0M539 1076h0M658 1043h0M562 1107h0M537 1051h0M580 1084h0M659 1096h0M521 1122h0M519 1047h0M578 1099h0M481 1105h0M567 1072h0M546 1131h0M530 1093h0M655 1052h0M629 1095h0M504 1117h0M552 1065h0M647 1160h0M513 1098h0M614 1067h0M557 1118h0M483 1069h0M612 1089h0M640 1123h0M549 1105h0M561 1042h0M576 1123h0M489 1098h0M583 1092h0M526 1168h0M530 1067h0M653 1093h0M606 1107h0M508 1161h0M544 1080h0M612 1136h0M524 1113h0M581 1049h0M538 1138h0M469 1093h0M568 1104h0M658 1134h0M532 1137h0M542 1078h0M562 1122h0M457 1109h0M618 1090h0M567 1164h0M559 1094h0M696 1092h0M640 1122h0M513 1120h0M589 1093h0M617 1179h0M531 1118h0M657 1086h0M582 1138h0M556 1069h0M661 1110h0M682 1121h0M592 1120h0M552 1046h0M641 1145h0M518 1124h0M623 1100h0M595 1170h0M555 1105h0M671 1102h0M634 1116h0M512 1156h0M592 1088h0M612 1160h0M539 1116h0M623 1071h0M556 1146h0M532 1100h0M562 1126h0M660 1153h0M486 1125h0M579 1056h0M577 1134h0M444 1091h0M591 1083h0M525 1146h0M563 1090h0M695 1110h0M632 1104h0M538 1141h0M571 1084h0M673 1141h0M542 1108h0M599 1049h0M589 1105h0M457 1062h0M649 1066h0M681 1100h0M552 1098h0M559 1029h0M614 1105h0M508 1087h0M590 1084h0M563 1164h0M513 1083h0M633 1083h0M599 1112h0M485 1128h0M570 1082h0M598 1134h0M558 1105h0M650 1050h0M556 1141h0M502 1079h0M613 1109h0M674 1117h0M523 1134h0M416 1201h0M529 1073h0M560 1122h0M448 1113h0M556 1071h0M562 1153h0M533 1094h0M634 1064h0M617 1112h0M416 1133h0M430 1143h0M425 1163h0M511 1129h0M566 1097h0M630 1156h0M510 1104h0M607 1062h0M412 1197h0M552 1126h0M465 1080h0M612 1097h0M417 1132h0M637 1134h0M423 1180h0M579 1124h0M417 1161h0M593 1056h0M599 1153h0M422 1108h0M419 1193h0M511 1116h0M622 1104h0M562 1165h0M409 1147h0M419 1144h0M545 1095h0M425 1168h0M413 1164h0M632 1102h0M574 1094h0M479 1149h0M531 1057h0M615 1138h0M492 1112h0M587 1054h0M562 1149h0M500 1091h0M417 1116h0M604 1114h0M672 1142h0M516 1135h0M559 1061h0M590 1128h0M417 1148h0M406 1137h0M480 1107h0M589 1080h0M553 1147h0M548 1101h0M689 1083h0M642 1111h0M417 1114h0M511 1106h0M414 1183h0M605 1067h0M629 1150h0M566 1091h0M664 1072h0M459 1241h0M583 1125h0M510 1049h0M414 1135h0M625 1114h0M658 1118h0M555 1126h0M428 1126h0M523 1061h0M595 1134h0M495 1129h0M422 1163h0M410 1162h0M416 1139h0M417 1200h0M568 1109h0M506 1218h0M409 1136h0M549 1281h0M583 1172h0M486 1222h0M500 1098h0M421 1114h0M628 1077h0M589 1109h0M413 1154h0M489 1148h0M563 1080h0M410 1107h0M629 1151h0M582 1223h0M553 1123h0M420 1137h0M423 1146h0M416 1151h0M411 1099h0M627 1050h0M419 1178h0M560 1139h0M511 1072h0M626 1093h0M674 1125h0M555 1114h0M586 1053h0M599 1100h0M406 1159h0M456 1072h0M634 1064h0M417 1135h0M573 1132h0M564 1080h0M674 1089h0M606 1096h0M509 1131h0M565 1096h0M546 1247h0M415 1205h0M412 1141h0M423 1135h0M679 1155h0M553 1111h0M612 1053h0M585 1111h0M483 1070h0M623 1087h0M643 1105h0M573 1092h0M557 1042h0M615 1119h0M480 1091h0M416 1150h0M405 1173h0M414 1113h0M602 1075h0M573 1159h0M542 1074h0M664 1079h0M623 1104h0M472 1127h0M614 1059h0M420 1173h0M414 1136h0M639 1149h0M581 1096h0M423 1100h0M416 1155h0M686 1059h0M468 1256h0M567 1117h0M546 1054h0M608 1083h0"/><path stroke="#00ff88" d="M686 1101h0M534 1123h0M549 1046h0M588 1106h0M413 1112h0M420 1132h0M450 1098h0M429 1167h0M413 1140h0M591 1063h0M582 1133h0M579 1081h0M683 1065h0M420 1092h0M642 1106h0M545 1122h0M612 1081h0M654 1152h0M566 1108h0M641 1079h0M577 1120h0M476 1049h0M529 1217h0M420 1146h0M634 1082h0M653 1129h0M516 1104h0M579 1041h0M576 1117h0M482 1086h0M582 1088h0M409 1123h0M521 1166h0M559 1084h0M677 1117h0M623 1117h0M532 1155h0M572 1093h0M422 1133h0M638 1147h0M554 1129h0M416 1172h0M600 1054h0M569 1251h0M417 1133h0M570 1161h0M486 1107h0M430 1141h0M424 1135h0M416 1173h0M602 1104h0M419 1122h0M667 1133h0M532 1131h0M534 1077h0M546 1120h0M482 1229h0M458 1106h0M587 1197h0M567 1089h0M531 1161h0M514 1107h0M633 1101h0M586 1126h0M480 1135h0M549 1118h0M492 1251h0M596 1178h0M481 1091h0M613 1064h0M545 1128h0M483 1050h0M611 1090h0M644 1109h0M538 1115h0M514 1038h0M608 1128h0M473 1114h0M580 1082h0M570 1146h0M530 1081h0M630 1080h0M576 1114h0M465 1150h0M559 1074h0M602 1146h0M528 1101h0M625 1057h0M541 1134h0M502 1079h0M584 1107h0M675 1142h0M525 1111h0M582 1056h0M581 1122h0M481 1092h0M610 1081h0M568 1126h0M592 1093h0M695 1096h0M658 1102h0M533 1126h0M600 1073h0M658 1148h0M542 1100h0M779 1130h0M924 1177h0M675 1170h0M736 1087h0M772 1190h0M593 1158h0M822 1137h0M742 1218h0M742 1160h0M964 1147h0M854 1191h0M625 1180h0M764 1126h0M774 1218h0M673 1125h0M811 1113h0M704 1172h0M600 1093h0M835 1171h0M872 1176h0M717 1191h0M666 1106h0M792 1186h0M617 1174h0M742 1131h0M781 1230h0M672 1135h0M853 1106h0M789 1147h0M634 1178h0M706 1111h0M771 1172h0M694 1128h0M790 1073h0M698 1181h0M603 1101h0M746 1129h0M833 1183h0M627 1160h0M691 1087h0M704 1154h0M556 1133h0M748 1115h0M643 1199h0M680 1137h0M845 1139h0M777 1142h0M623 1183h0M683 1134h0M825 1209h0M616 1142h0M744 1075h0M707 1169h0M578 1123h0M776 1144h0M826 1180h0M693 1175h0M705 1088h0M766 1181h0M626 1153h0M792 1131h0M707 1206h0M697 1133h0M850 1140h0M751 1158h0M572 1198h0M772 1120h0M794 1232h0M689 1155h0M897 1109h0M704 1209h0M644 1130h0M759 1150h0M898 1173h0M622 1178h0M670 1085h0M739 1165h0M571 1163h0M730 1121h0M707 1196h0M679 1145h0M897 1098h0M779 1165h0M591 1175h0M706 1119h0M766 1230h0M613 1151h0M756 1115h0M675 1164h0M603 1088h0M832 1135h0M810 1183h0M673 1151h0M747 1071h0M765 1167h0M643 1123h0M769 1141h0M653 1211h0M695 1106h0M901 1146h0M817 1154h0M663 1229h0M706 1123h0M819 1195h0M697 1174h0M759 1078h0M745 1209h0M623 1143h0M782 1151h0M885 1175h0M686 1168h0M698 1087h0M778 1138h0M556 1146h0M792 1106h0M725 1215h0M699 1130h0M865 1106h0M773 1150h0M613 1169h0M726 1130h0M766 1220h0M638 1149h0M799 1108h0M717 1166h0M643 1090h0M811 1119h0M862 1142h0M760 1132h0M691 1074h0M801 1155h0M599 1144h0M721 1102h0M749 1205h0M677 1123h0M861 1101h0M776 1129h0M569 1183h0M702 1097h0"/><path stroke="#00ff77" d="M777 1185h0M661 1139h0M788 1078h0M699 1173h0M630 1115h0M743 1147h0M909 1209h0M638 1172h0M732 1102h0M746 1199h0M544 1145h0M757 1138h0M648 1210h0M686 1136h0M896 1134h0M796 1140h0M621 1178h0M679 1114h0M809 1204h0M659 1154h0M782 1089h0M739 1154h0M602 1112h0M796 1127h0M857 1165h0M678 1162h0M679 1068h0M732 1172h0M568 1146h0M708 1137h0M670 1214h0M629 1126h0M830 1131h0M766 1170h0M582 1185h0M714 1127h0M726 1200h0M706 1143h0M884 1085h0M675 1195h0M625 1111h0M753 1157h0M849 1162h0M648 1188h0M663 1108h0M727 1169h0M553 1183h0M718 1131h0M738 1223h0M685 1157h0M831 1129h0M815 1182h0M663 1204h0M752 1174h0M840 1217h0M658 1178h0M835 1113h0M744 1191h0M610 1119h0M839 1158h0M871 1196h0M697 1187h0M745 1088h0M770 1216h0M622 1169h0M813 1156h0M709 1244h0M705 1144h0M846 1168h0M766 1172h0M635 1225h0M726 1111h0M873 1216h0M717 1174h0M796 1100h0M734 1196h0M665 1142h0M787 1146h0M941 1195h0M734 1186h0M752 1104h0M797 1183h0M618 1170h0M802 1140h0M728 1211h0M780 1147h0M954 1119h0M884 1159h0M669 1157h0M795 1101h0M843 1203h0M704 1117h0M677 1239h0M854 1085h0M772 1144h0M787 1219h0M735 1262h0M675 1061h0M889 1133h0M577 1296h0M928 1152h0M750 1157h0M720 1088h0M843 1164h0M671 1148h0M651 1209h0M771 1133h0M752 1239h0M702 1125h0M781 1285h0M896 1111h0M815 1151h0M613 1188h0M634 1243h0M739 1117h0M767 1197h0M697 1162h0M846 1083h0M706 1188h0M656 1114h0M792 1155h0M880 1207h0M698 1189h0M767 1123h0M731 1183h0M565 1142h0M823 1148h0M689 1224h0M724 1146h0M938 1166h0M869 1176h0M692 1222h0M767 1192h0M726 1157h0M858 1220h0M688 1259h0M670 1183h0M773 1119h0M628 1236h0M753 1200h0M629 1130h0M827 1130h0M863 1163h0M763 1158h0M751 1260h0M743 1057h0M855 1188h0M678 1151h0M833 1122h0M820 1300h0M771 1232h0M750 1129h0M921 1133h0M625 1275h0M652 1203h0M822 1166h0M694 1256h0M614 1200h0M775 1127h0M796 1214h0M702 1151h0M876 1107h0M554 1226h0M758 1184h0M743 1125h0M799 1158h0M959 1169h0M750 1226h0M686 1205h0M676 1116h0M776 1192h0M565 1183h0M757 1118h0M723 1210h0M710 1142h0M919 1106h0M860 1163h0M688 1193h0M626 1271h0M767 1133h0M833 1212h0M744 1254h0M860 1228h0M686 1147h0M788 1243h0M673 1276h0M836 1107h0M718 1230h0M806 1158h0M660 1085h0M894 1136h0M817 1303h0M911 1194h0M637 1275h0M726 1166h0M807 1080h0M729 1216h0M830 1179h0M699 1137h0M837 1137h0M725 1204h0M739 1096h0M900 1136h0M836 1151h0M703 1203h0M775 1129h0M857 1197h0M781 1153h0M719 1258h0M830 1073h0M753 1189h0M608 1106h0M773 1118h0M876 1160h0M662 1158h0M571 1225h0M717 1086h0M773 1162h0M553 1132h0M800 1112h0M698 1196h0M684 1129h0M875 1140h0M757 1215h0M790 1176h0M642 1180h0M716 1159h0M744 1230h0M622 1158h0M841 1133h0M699 1200h0M632 1110h0M785 1171h0M798 1253h0M845 1159h0M631 1267h0M671 1198h0M767 1277h0M702 1171h0M641 1081h0M781 1158h0M589 1161h0M650 1243h0M719 1130h0M717 1205h0M625 1127h0M778 1108h0M735 1140h0M578 1199h0M691 1088h0M819 1177h0M648 1130h0M701 1241h0M771 1065h0M708 1167h0M640 1104h0M750 1132h0M890 1176h0M668 1163h0M725 1099h0M662 1315h0M774 1175h0M580 1140h0M780 1128h0M724 1189h0M756 1127h0M635 1224h0M932 1114h0M883 1144h0M684 1198h0M748 1128h0M860 1245h0M873 1206h0M674 1163h0M748 1101h0M732 1174h0M567 1126h0M828 1144h0M861 1191h0M718 1193h0M726 1107h0M726 1261h0M598 1264h0M799 1193h0M678 1173h0M738 1161h0M725 1245h0M748 1295h0M730 1230h0M652 1142h0M880 1142h0M812 1171h0M613 1193h0M779 1125h0M679 1267h0M816 1219h0M838 1219h0M756 1165h0M916 1108h0M755 1211h0M703 1129h0M832 1172h0M941 1183h0M737 1190h0M719 1282h0M748 1109h0M792 1173h0M550 1186h0M790 1138h0M776 1228h0"/><path stroke="#00ff66" d="M1000 1084h0M723 1149h0M893 1125h0M836 1176h0M696 1199h0M790 1135h0M945 1092h0M860 1213h0M929 1060h0M680 1143h0M808 1106h0M741 1178h0M653 1125h0M835 1166h0M996 1101h0M859 1193h0M781 1162h0M795 1069h0M907 1094h0M972 1073h0M976 1119h0M795 1199h0M646 1146h0M937 1082h0M826 1156h0M705 1233h0M730 1136h0M995 1079h0M874 1164h0M812 1160h0M680 1229h0M725 1113h0M844 1194h0M709 1163h0M809 1078h0M788 1169h0M972 1099h0M652 1116h0M786 1118h0M949 1145h0M670 1152h0M694 1066h0M762 1152h0M553 1136h0M747 1109h0M695 1192h0M697 1146h0M899 1120h0M839 1172h0M671 1188h0M771 1141h0M892 1126h0M815 1218h0M714 1162h0M857 1112h0M760 1156h0M615 1075h0M869 1133h0M945 1073h0M977 1113h0M905 1152h0M911 1096h0M759 1187h0M709 1083h0M817 1187h0M644 1165h0M965 1064h0M776 1137h0M763 1224h0M663 1148h0M860 1130h0M751 1168h0M572 1197h0M717 1128h0M792 1208h0M700 1170h0M943 1108h0M905 1075h0M867 1092h0M722 1220h0M628 1133h0M799 1162h0M867 1215h0M964 1090h0M649 1184h0M749 1110h0M1004 1117h0M907 1109h0M940 1075h0M954 1113h0M770 1178h0M544 1131h0M896 1091h0M793 1119h0M652 1186h0M696 1106h0M866 1119h0M969 1084h0M796 1132h0M646 1162h0M722 1117h0M875 1225h0M615 1154h0M770 1098h0M704 1181h0M566 1121h0M789 1140h0M827 1196h0M690 1186h0M700 1087h0M789 1210h0M625 1175h0M943 1112h0M773 1159h0M950 1088h0M693 1242h0M669 1151h0M821 1161h0M739 1176h0M576 1195h0M734 1115h0M749 1212h0M637 1142h0M805 1098h0M674 1176h0M648 1100h0M733 1159h0M895 1169h0M692 1185h0M685 1096h0M1023 1088h0M756 1153h0M1004 1093h0M590 1148h0M734 1096h0M720 1179h0M689 1130h0M874 1081h0M919 1120h0M821 1136h0M609 1170h0M692 1102h0M931 1085h0M797 1195h0M618 1134h0M787 1081h0M993 1120h0M728 1157h0M581 1108h0M795 1133h0M906 1095h0M946 1068h0M831 1192h0M932 1094h0M694 1175h0M716 1094h0M750 1195h0M595 1151h0M736 1145h0M680 1222h0M657 1117h0M871 1127h0M800 1143h0M624 1193h0M707 1115h0M799 1176h0M673 1144h0M771 1074h0M736 1174h0M619 1112h0M765 1118h0M842 1158h0M644 1153h0M689 1092h0M719 1144h0M532 1151h0M744 1107h0M678 1200h0M656 1130h0M858 1122h0M752 1168h0M610 1179h0M747 1140h0M776 1234h0M624 1139h0M824 1114h0M720 1169h0M888 1078h0M637 1096h0M806 1155h0M843 1165h0M722 1160h0M668 1065h0M814 1189h0M622 1172h0M978 1075h0M771 1144h0M735 1226h0M666 1150h0M821 1140h0M762 1176h0M608 1220h0M741 1141h0M784 1222h0M990 1092h0M673 1173h0M793 1120h0M690 1200h0M650 1143h0M748 1178h0M886 1218h0M629 1192h0M765 1115h0M772 1205h0M596 1153h0M830 1153h0M920 1091h0M718 1216h0M767 1147h0M956 1150h0M930 1057h0M878 1141h0M711 1192h0M743 1113h0M919 1177h0M734 1146h0M816 1092h0M954 1103h0M800 1152h0M589 1098h0M875 1104h0M891 1088h0M931 1145h0M753 1149h0M741 1066h0M950 1084h0M824 1180h0M929 1126h0M682 1157h0M810 1155h0M772 1226h0M688 1142h0M916 1069h0M859 1131h0M793 1167h0M612 1198h0M996 1072h0M727 1133h0M772 1201h0M951 1092h0M719 1148h0M874 1071h0M875 1099h0M694 1209h0M613 1122h0M776 1160h0M871 1162h0M935 1069h0M677 1194h0M677 1129h0M759 1190h0M596 1181h0M749 1119h0M744 1209h0M672 1127h0M832 1099h0M945 1108h0M799 1146h0M653 1164h0M703 1130h0M823 1235h0M935 1088h0M648 1145h0M1005 1066h0M794 1093h0M934 1112h0M721 1169h0M619 1092h0M804 1119h0M914 1078h0M963 1099h0M798 1158h0M714 1144h0M748 1064h0M768 1178h0M1008 1111h0M653 1119h0M786 1114h0M707 1192h0M713 1101h0M880 1117h0M781 1131h0M615 1205h0M726 1082h0M929 1113h0M848 1170h0M671 1127h0M933 1080h0M949 1105h0M870 1104h0M769 1069h0M720 1162h0M625 1102h0M738 1123h0M953 1081h0M876 1172h0"/><path stroke="#54ff4f" d="M721 1099h0M866 992h0M953 1052h0M824 1025h0M966 943h0M874 1039h0M813 999h0M938 1001h0M1040 1013h0M805 1035h0M891 963h0M890 1024h0M751 1025h0M950 983h0M874 1054h0M901 1000h0M1032 973h0M932 998h0M770 1071h0M787 1005h0M957 1039h0M785 1046h0M855 984h0M824 1050h0M695 1042h0M868 1002h0M929 1019h0M764 1062h0M755 993h0M895 1044h0M755 1051h0M858 1017h0M846 1088h0M733 1017h0M935 986h0M873 1034h0M697 1091h0M811 1011h0M872 1058h0M803 1040h0M960 952h0M854 1058h0M783 1008h0M894 1004h0M1014 990h0M844 1040h0M808 992h0M863 1013h0M690 1064h0M849 976h0M844 1061h0M768 1009h0M935 949h0M901 1002h0M756 1045h0M841 984h0M971 1036h0M774 1020h0M896 962h0M842 1028h0M723 1000h0M897 989h0M936 1014h0M823 1031h0M843 950h0M890 1040h0M729 1039h0M870 998h0M787 1099h0M792 1015h0M927 999h0M821 1027h0M729 1096h0M815 1001h0M890 1053h0M767 1038h0M860 960h0M856 1043h0M773 1016h0M873 1011h0M1001 1006h0M805 1037h0M841 958h0M884 1036h0M717 1050h0M921 985h0M873 1057h0M840 1012h0M1002 960h0M927 1006h0M732 1046h0M845 998h0M893 1059h0M775 1035h0M906 992h0M820 1050h0M694 998h0M913 1018h0M985 1007h0M825 1033h0M772 974h0M909 1015h0M729 1043h0M834 997h0M877 1073h0M776 1020h0M943 961h0M916 1016h0M769 1072h0M838 997h0M926 1027h0M849 1007h0M925 944h0M889 1051h0M765 1015h0M885 1000h0M952 1023h0M729 1062h0M782 990h0M818 1048h0M675 1051h0M868 1001h0M797 1086h0M838 1015h0M1010 974h0M928 1009h0M822 1059h0M883 1007h0M1008 1036h0M797 1043h0M933 958h0M912 1021h0M751 1003h0M913 982h0M961 1002h0M834 1030h0M825 960h0M922 1027h0M742 1039h0M885 997h0M873 1065h0M833 1007h0M990 974h0M905 1000h0M717 1079h0M910 967h0M941 1048h0M850 1016h0M993 942h0M863 1045h0M815 993h0M930 995h0M1023 988h0M847 1043h0M852 966h0M941 1011h0M740 1047h0M915 978h0M868 1053h0M856 1011h0M1014 947h0M959 1008h0M791 1054h0M876 985h0M964 1046h0M823 1023h0M947 965h0M867 1034h0M735 996h0M943 994h0M977 1027h0M838 1032h0M878 968h0M888 1037h0M809 1027h0M921 1010h0M815 1094h0M853 997h0M1030 995h0M955 1015h0M802 1088h0M831 999h0M953 1031h0M826 1031h0M884 945h0M886 1049h0M754 1032h0M904 1006h0M984 1022h0M805 1065h0M820 1002h0M878 1034h0M709 1069h0M877 999h0M823 1095h0M773 1039h0M942 991h0M877 1044h0M739 1086h0M826 1031h0M918 1077h0M774 1052h0M914 994h0M850 1060h0M769 1020h0M933 1020h0M937 1018h0M847 1034h0M768 983h0M930 1041h0M716 1077h0M859 1018h0M836 1099h0M741 1047h0M899 993h0M846 1037h0M730 1089h0M786 1014h0M914 1061h0M802 1042h0M924 964h0M849 1054h0M754 1016h0M871 1006h0M991 1022h0M740 1046h0M812 960h0M864 1019h0M700 1032h0M882 988h0M802 1059h0M810 1000h0M996 957h0M908 999h0M779 1057h0M825 1002h0M932 1037h0M774 1029h0M878 970h0M851 1019h0M681 1010h0M920 976h0M951 1015h0M776 1058h0M779 982h0M861 1052h0M718 1046h0M852 1007h0M784 1093h0M756 1010h0M935 980h0M859 1026h0M673 1080h0M810 997h0M846 1058h0M802 1017h0M956 941h0M833 1056h0M805 983h0M922 1001h0M1000 986h0M815 1051h0M786 995h0M852 1010h0M686 1056h0M880 969h0M894 1036h0M804 1008h0M938 963h0M911 1003h0M761 1060h0M815 1021h0M952 1064h0M742 1044h0M846 974h0M792 1062h0M665 1035h0M871 1016h0M911 1040h0M789 1046h0M817 959h0M885 1042h0M717 1038h0M832 1007h0M762 1093h0M757 1010h0M929 1002h0M861 1025h0M746 1091h0M778 1010h0M914 1041h0M784 1029h0M874 951h0M888 1042h0M791 1011h0M924 996h0M1016 1007h0"/><path stroke="#80ff38" d="M823 1041h0M828 985h0M870 1040h0M702 1057h0M852 996h0M826 1064h0M814 1025h0M1019 949h0M884 1032h0M695 1077h0M829 1000h0M896 1069h0M791 1024h0M932 970h0M839 1036h0M723 988h0M913 988h0M966 992h0M812 1029h0M785 970h0M863 1026h0M715 1036h0M832 998h0M833 1092h0M764 1021h0M942 983h0M880 1029h0M740 1085h0M859 991h0M920 1048h0M838 1023h0M921 952h0M825 1058h0M767 1016h0M873 1018h0M941 1043h0M744 1063h0M825 1001h0M840 1049h0M657 1045h0M969 976h0M843 1072h0M819 1017h0M1008 993h0M916 1012h0M764 1082h0M816 1009h0M990 1033h0M758 1032h0M868 946h0M862 1019h0M716 1004h0M913 972h0M955 987h0M845 1005h0M804 961h0M889 1020h0M680 1041h0M841 990h0M812 1075h0M763 1010h0M910 988h0M833 1021h0M693 1088h0M806 1007h0M890 1069h0M820 1026h0M946 965h0M832 1054h0M757 1023h0M855 1028h0M1019 1011h0M782 1079h0M772 996h0M884 1038h0M700 1063h0M849 1000h0M841 1065h0M773 1034h0M962 956h0M917 1012h0M741 1064h0M814 989h0M910 1033h0M766 1025h0M879 976h0M844 1016h0M708 989h0M908 992h0M913 1038h0M760 1050h0M812 969h0M847 1057h0M739 1047h0M853 1030h0M788 1101h0M775 1005h0M935 990h0M865 1018h0M732 1084h0M780 1007h0M884 1045h0M792 1033h0M872 950h0M824 1070h0M732 1020h0M920 998h0M1006 1021h0M811 1059h0M890 978h0M904 1038h0M711 1055h0M946 987h0M859 1078h0M863 1016h0M1040 981h0M957 1029h0M805 1059h0M885 1022h0M917 1072h0M822 1018h0M979 960h0M849 1045h0M796 987h0M947 1009h0M1013 996h0M890 1023h0M806 967h0M940 1016h0M761 1052h0M869 998h0M905 1061h0M816 1001h0M935 961h0M879 993h0M726 1096h0M819 972h0M922 1026h0M788 1023h0M861 944h0M823 1047h0M733 1019h0M862 1023h0M999 1037h0M775 1070h0M801 998h0M838 1058h0M676 1062h0M864 1007h0M807 1085h0M813 1043h0M1032 987h0M931 1025h0M805 1093h0M841 1026h0M986 1051h0M804 1047h0M889 992h0M859 1048h0M684 1032h0M883 998h0M931 1017h0M769 1053h0M770 981h0M852 1039h0M718 1049h0M807 1017h0M819 1100h0M756 1013h0M977 957h0M904 1024h0M732 1075h0M878 990h0M922 1038h0M853 1002h0M959 941h0M835 1032h0M762 982h0M898 983h0M979 982h0M803 1028h0M804 968h0M867 1006h0M679 1064h0M879 974h0M857 1063h0M774 1033h0M956 969h0M886 1024h0M729 1078h0M809 1029h0M914 1083h0M750 1046h0M941 969h0M900 1037h0M780 997h0M924 1005h0M957 1022h0M873 1014h0M894 935h0M921 1047h0M743 1032h0M890 997h0M820 1083h0M814 1000h0M960 988h0M891 1007h0M765 1093h0M815 999h0M937 1032h0M843 1037h0M884 966h0M891 1050h0M774 1026h0M864 1010h0M1038 997h0M802 1053h0M835 976h0M899 1025h0M706 1050h0M876 988h0M842 1069h0M797 1027h0M980 965h0M903 1021h0M730 1071h0M804 1023h0M892 1065h0M749 1038h0M859 982h0M804 1016h0M730 994h0M919 989h0M962 994h0M781 1046h0M750 974h0M905 1022h0M737 1057h0M851 1007h0M857 1084h0M746 1025h0M905 975h0M879 1020h0M714 1083h0M793 994h0M859 1038h0M784 1015h0M893 952h0M819 1050h0M714 996h0M868 988h0M965 1017h0M754 1042h0M826 975h0M836 1039h0M670 1044h0M886 990h0M830 1061h0M843 1001h0M1022 961h0M939 986h0M799 1037h0M832 993h0M974 1041h0M740 1027h0M874 946h0M842 1028h0M684 1006h0M870 989h0M922 1001h0M784 1026h0M804 952h0M877 1040h0M737 1039h0M880 987h0M810 1070h0M784 1004h0M924 989h0M855 1024h0M662 1082h0M855 981h0M899 1050h0M792 1035h0M945 963h0M799 1055h0M768 998h0M867 1014h0"/><path stroke="#a1ff14" d="M983 996h0M806 1059h0M805 1007h0M902 1026h0M714 1058h0M839 994h0M834 1051h0M809 1014h0M972 943h0M967 1009h0M810 1074h0M873 1004h0M997 1046h0M834 1030h0M943 965h0M892 1029h0M1026 942h0M1025 960h0M973 968h0M982 925h0M1005 973h0M931 975h0M1003 946h0M985 990h0M994 943h0M1065 930h0M1033 943h0M972 993h0M988 939h0M1040 955h0M972 958h0M1015 902h0M994 960h0M945 950h0M1001 935h0M1066 928h0M951 969h0M963 929h0M992 957h0M928 970h0M992 934h0M972 974h0M979 944h0M1062 908h0M1028 937h0M949 964h0M998 924h0M1010 965h0M968 946h0M1030 909h0M985 947h0M953 938h0M1018 933h0M1038 932h0M976 967h0M951 940h0M1005 957h0M946 979h0M986 955h0M1006 986h0M939 967h0M1027 925h0M1025 942h0M961 980h0M993 930h0M1033 948h0M988 948h0M1037 906h0M1014 966h0M970 946h0M1037 930h0M1069 937h0M991 955h0M1018 917h0M1028 939h0M929 958h0M1028 911h0M993 966h0M980 933h0M1071 906h0M1051 925h0M997 965h0M1013 937h0M1066 947h0M986 955h0M1034 914h0M1025 953h0M959 957h0M1020 940h0M1038 947h0M998 953h0M981 920h0M1009 962h0M942 961h0M992 931h0M976 981h0M956 946h0M1030 927h0M1003 949h0M928 991h0M990 930h0M1013 962h0M978 950h0M1036 908h0M988 963h0M974 942h0M1021 940h0M1070 931h0M1002 965h0M1001 928h0M1042 948h0M962 972h0M1021 931h0M1022 961h0M999 938h0M1066 905h0M1033 942h0M962 971h0M990 934h0M1020 956h0M956 956h0M1009 919h0M994 944h0M948 942h0M1035 928h0M1046 946h0M985 959h0M1018 910h0M1034 954h0M975 956h0M1028 941h0M993 988h0M990 940h0M1064 931h0M1026 938h0M995 978h0M998 930h0M1039 935h0M988 948h0M994 909h0M999 965h0M922 960h0M995 933h0M1047 929h0M977 957h0M988 918h0M1010 946h0M921 975h0M1006 927h0M995 970h0M979 946h0M1038 916h0M1010 950h0M959 974h0M988 948h0M1033 975h0M958 968h0M1018 923h0M992 965h0M945 945h0M1034 929h0M1053 930h0M997 959h0M956 933h0M1037 948h0M966 967h0M1022 927h0M1032 959h0M995 940h0M1054 912h0M1032 937h0M963 990h0M998 938h0M1044 960h0M998 957h0M1037 917h0M1011 972h0M963 955h0M1009 949h0M1053 955h0M966 980h0M995 931h0M1006 956h0M952 957h0M1020 929h0M997 970h0M1105 869h0M1080 883h0M1012 898h0M1060 864h0M1076 900h0M1055 881h0M1099 863h0M1064 898h0M1036 856h0M1089 875h0M1115 882h0M1043 892h0M1045 855h0M1072 882h0M1003 889h0M1067 864h0M1058 905h0M1051 875h0M1108 866h0M1087 887h0M1029 896h0M1060 877h0M1102 926h0M1028 885h0M1092 863h0M1065 901h0M1022 866h0M1092 883h0M1103 902h0M1058 888h0M1063 849h0M1078 901h0M1029 874h0M1080 873h0M1035 906h0M1037 870h0M1096 883h0M1073 884h0M1015 910h0M1048 861h0M1085 903h0M1041 880h0"/><path stroke="#bfff00" d="M1101 855h0M1073 900h0M1025 872h0M1079 884h0M1124 906h0M1044 898h0M1065 862h0M1079 894h0M1020 887h0M1085 876h0M1052 900h0M1059 879h0M1146 871h0M1093 897h0M1016 888h0M1071 866h0M1083 913h0M1053 870h0M1112 863h0M1072 884h0M1042 853h0M1109 875h0M1115 878h0M1051 893h0M1045 859h0M1095 890h0M1043 883h0M1085 870h0M1094 921h0M1056 874h0M1120 867h0M1096 891h0M1034 906h0M1071 868h0M1103 901h0M1060 882h0M1093 849h0M1060 905h0M1026 876h0M1086 884h0M1121 901h0M1055 891h0M1077 860h0M1086 884h0M1010 881h0M1107 874h0M1076 917h0M1072 886h0M1141 889h0M1113 895h0M1069 911h0M1087 887h0M1137 916h0M1063 903h0M1108 876h0M1104 902h0M1054 876h0M1127 873h0M1140 892h0M1099 888h0M1099 846h0M1134 902h0M1069 888h0M1121 876h0M1095 914h0M1082 870h0M1147 872h0M1117 881h0M1054 896h0M1118 866h0M1132 911h0M1103 883h0M1148 869h0M1104 895h0M1087 868h0M1115 883h0M1161 891h0M1083 897h0M1093 860h0M1122 900h0M1041 900h0M1114 871h0M1101 913h0M1094 886h0M1158 878h0M1141 896h0M1073 905h0M1104 882h0M1130 915h0M1075 884h0M1117 872h0M1099 893h0M1051 855h0M1145 886h0M1154 902h0M1091 886h0M1122 849h0M1118 898h0M1079 877h0M1129 882h0M1082 914h0M1103 869h0M1166 885h0M1132 888h0M1085 912h0M1094 872h0M1145 901h0M1106 886h0M1123 853h0M1114 902h0M1059 872h0M1125 876h0M1163 894h0M1083 897h0M1096 862h0M1114 886h0M1042 876h0M1119 860h0M1093 900h0M1085 868h0M1151 864h0M1122 885h0M1065 888h0M1102 869h0M1126 914h0M1062 874h0M1128 855h0M1092 891h0M1072 856h0M1132 879h0M1149 884h0M1094 891h0M1075 848h0M1110 898h0M1054 887h0M1096 873h0M1093 912h0M1078 880h0M1129 880h0M1099 890h0M1056 911h0M1092 869h0M1121 917h0M1070 887h0M1132 857h0M1113 904h0M1086 866h0M1130 884h0M1180 907h0M1096 896h0M1130 862h0M1137 904h0M1077 888h0M1145 887h0M1102 917h0M1106 888h0M1186 885h0M1142 892h0M1088 906h0M1102 873h0M1137 911h0M1078 890h0M1113 862h0M1101 888h0M1053 868h0M1146 878h0M1156 901h0M1099 896h0M1113 858h0M1130 903h0M1085 888h0M1112 888h0M1097 923h0M1083 871h0M1169 872h0M1141 888h0M1081 892h0M1137 861h0M1137 903h0M1122 879h0M1181 860h0M1106 907h0M1100 870h0M1145 896h0M1183 898h0M1109 906h0M1109 872h0M1133 894h0M1056 898h0M1129 863h0M1125 910h0M1094 881h0M1158 865h0M1143 891h0M1081 898h0M1109 878h0M1147 908h0M1091 880h0M1142 855h0M1112 884h0M1072 859h0M1146 870h0M1152 888h0M1123 877h0M1132 850h0M1141 899h0M1074 871h0M1129 867h0M1091 911h0M1106 868h0M1171 881h0M1141 893h0M1092 914h0M1104 875h0M1155 908h0M1101 893h0M1142 856h0M1131 901h0M1095 877h0M1132 891h0M1184 905h0M1093 906h0M1113 866h0M1135 902h0M1068 884h0M1135 871h0M1125 904h0M1120 874h0M1189 863h0M1156 890h0M1091 896h0M1126 873h0M1146 912h0M1103 876h0M1158 869h0M1127 893h0M1091 853h0M1170 890h0M1177 895h0M1118 898h0M1108 852h0M1148 901h0M1091 886h0M1144 875h0M1134 920h0M1120 869h0M1188 874h0M1159 896h0M1093 906h0M1138 869h0M1149 904h0M1126 886h0M1177 855h0M1123 903h0M1101 866h0M1164 878h0M1186 901h0M1120 886h0M1157 859h0M1158 892h0M1175 948h0M1095 867h0M1229 948h0M1177 866h0M1124 897h0M1136 865h0M1210 957h0M1196 872h0M1181 872h0M1139 895h0M1151 961h0M1205 946h0M1218 962h0M1193 952h0M1158 876h0M1213 907h0M1122 889h0M1158 852h0M1161 889h0M1094 867h0M1180 870h0M1201 891h0M1141 887h0M1246 944h0M1134 848h0M1169 899h0M1098 888h0M1146 877h0M1131 919h0M1120 875h0M1175 866h0M1181 960h0M1157 882h0M1085 900h0M1143 858h0M1169 899h0M1128 869h0M1185 850h0M1151 885h0M1138 860h0M1186 873h0M1225 882h0M1159 895h0M1156 855h0M1182 879h0M1122 888h0M1177 866h0M1163 905h0M1149 885h0M1217 862h0M1165 949h0M1222 955h0M1243 958h0M1184 885h0M1120 898h0M1157 871h0M1191 912h0M1180 960h0M1128 884h0M1186 862h0M1186 947h0M1169 891h0M1206 957h0M1114 864h0M1194 884h0M1211 903h0M1152 894h0M1180 853h0M1189 894h0M1143 885h0M1168 880h0"/><path stroke="#d4ff00" d="M1134 957h0M1132 922h0M1215 948h0M1124 871h0M1204 886h0M1181 894h0M1126 914h0M1208 965h0M1155 872h0M1192 902h0M1191 949h0M1258 947h0M1230 954h0M1149 889h0M1177 855h0M1152 908h0M1113 880h0M1164 887h0M1195 901h0M1127 892h0M1140 864h0M1145 888h0M1169 956h0M1104 884h0M1176 869h0M1146 916h0M1196 946h0M1146 879h0M1226 879h0M1212 962h0M1147 952h0M1183 893h0M1119 886h0M1154 866h0M1169 913h0M1216 945h0M1197 954h0M1124 867h0M1190 858h0M1150 890h0M1126 853h0M1184 875h0M1198 874h0M1148 880h0M1142 849h0M1184 885h0M1113 885h0M1164 860h0M1169 941h0M1170 907h0M1130 873h0M1189 863h0M1165 884h0M1216 946h0M1123 899h0M1151 867h0M1217 954h0M1173 950h0M1193 904h0M1149 888h0M1199 940h0M1199 856h0M1194 961h0M1169 892h0M1137 865h0M1180 879h0M1237 896h0M1162 887h0M1193 852h0M1134 951h0M1199 889h0M1133 869h0M1215 860h0M1177 896h0M1183 866h0M1242 868h0M1206 877h0M1152 899h0M1216 950h0M1176 872h0M1157 962h0M1216 895h0M1153 879h0M1163 949h0M1188 856h0M1211 954h0M1174 886h0M1113 861h0M1200 875h0M1180 951h0M1217 892h0M1151 965h0M1162 892h0M1175 849h0M1176 946h0M1198 895h0M1217 963h0M1155 882h0M1192 956h0M1204 877h0M1183 920h0M1175 879h0M1237 883h0M1212 895h0M1146 894h0M1190 864h0M1197 894h0M1183 878h0M1230 854h0M1163 897h0M1151 858h0M1217 876h0M1261 886h0M1189 893h0M1190 857h0M1215 944h0M1210 889h0M1132 894h0M1213 867h0M1189 906h0M1176 874h0M1240 864h0M1211 886h0M1144 891h0M1171 868h0M1203 915h0M1149 870h0M1220 850h0M1191 885h0M1158 855h0M1228 875h0M1228 890h0M1180 877h0M1197 837h0M1190 896h0M1135 873h0M1183 871h0M1192 959h0M1145 903h0M1161 871h0M1208 878h0M1176 883h0M1146 908h0M1166 860h0M1219 894h0M1161 882h0M1192 845h0M1180 890h0M1137 864h0M1190 865h0M1258 878h0M1162 880h0M1177 848h0M1208 877h0M1147 869h0M1214 854h0M1191 888h0M1191 864h0M1245 860h0M1215 883h0M1143 889h0M1187 862h0M1209 899h0M1170 868h0M1227 862h0M1196 881h0M1158 850h0M1233 877h0M1237 884h0M1189 890h0M1179 859h0M1221 896h0M1173 889h0M1199 879h0M1194 922h0M1158 866h0M1229 860h0M1217 877h0M1143 895h0M1199 858h0M1221 892h0M1178 867h0M1226 841h0M1184 889h0M1150 853h0M1213 867h0M1241 890h0M1161 879h0M1199 847h0M1200 874h0M1143 864h0M1223 853h0M1176 892h0M1178 859h0M1252 869h0M1217 875h0M1164 892h0M1184 865h0M1229 901h0M1170 880h0M1220 852h0M1192 888h0M1160 859h0M1224 869h0M1243 879h0M1194 876h0M1199 844h0M1216 891h0M1152 871h0M1213 867h0M1181 906h0M1180 860h0M1241 872h0M1211 878h0M1136 883h0M1219 853h0M1228 898h0M1202 865h0M1254 849h0M1194 884h0M1186 852h0M1226 872h0M1292 872h0M1204 887h0M1200 849h0M1244 882h0M1166 890h0M1220 866h0M1252 812h0M1282 789h0M1221 899h0M1210 877h0M1282 865h0M1254 890h0M1191 908h0M1218 881h0M1260 907h0M1200 884h0M1260 831h0M1245 864h0M1231 888h0M1153 857h0M1260 878h0M1283 900h0M1243 802h0M1217 887h0M1242 843h0M1255 891h0M1269 812h0M1203 874h0M1251 872h0M1219 921h0M1219 872h0M1291 835h0M1287 877h0M1249 877h0M1202 904h0M1237 825h0M1220 869h0M1257 894h0M1216 876h0M1247 843h0M1236 892h0M1261 796h0M1267 835h0M1197 861h0M1257 860h0M1293 878h0M1217 877h0M1231 817h0M1232 846h0M1246 878h0M1182 874h0M1266 858h0M1245 899h0M1238 869h0M1302 865h0M1270 885h0M1219 887h0M1253 875h0M1259 906h0M1215 875h0M1277 864h0M1242 893h0M1209 853h0M1266 819h0M1264 874h0M1242 848h0M1248 827h0M1283 881h0M1241 879h0M1217 836h0M1264 888h0M1300 821h0M1203 878h0M1259 860h0M1249 904h0M1269 832h0M1220 864h0M1281 866h0M1257 879h0M1193 899h0M1231 846h0M1247 812h0M1272 848h0M1229 820h0M1254 801h0M1248 855h0M1263 895h0M1244 828h0M1226 875h0M1284 850h0M1218 810h0M1239 890h0M1215 858h0M1258 874h0M1291 897h0M1209 881h0M1274 824h0M1239 849h0M1238 880h0M1194 858h0M1266 856h0M1232 885h0M1239 873h0M1315 869h0M1275 877h0M1222 899h0M1235 860h0M1276 842h0M1294 899h0M1207 881h0M1248 848h0M1237 885h0M1175 859h0M1262 866h0M1244 838h0M1251 801h0M1265 840h0M1236 821h0M1263 815h0M1253 857h0"/><path stroke="#ebff00" d="M1254 809h0M1298 813h0M1274 828h0M1230 826h0M1267 807h0M1269 839h0M1263 817h0M1287 800h0M1257 826h0M1253 794h0M1274 815h0M1296 821h0M1255 832h0M1248 807h0M1263 818h0M1215 830h0M1274 800h0M1273 847h0M1254 818h0M1288 805h0M1277 830h0M1242 840h0M1252 819h0M1281 853h0M1237 820h0M1271 799h0M1254 839h0M1228 812h0M1266 825h0M1273 835h0M1250 826h0M1253 784h0M1264 839h0M1230 821h0M1266 815h0M1248 857h0M1252 813h0M1284 819h0M1259 828h0M1234 855h0M1253 809h0M1276 841h0M1246 830h0M1259 806h0M1255 840h0M1232 818h0M1258 822h0M1298 834h0M1249 838h0M1256 799h0M1264 834h0M1219 821h0M1271 808h0M1258 842h0M1262 811h0M1294 805h0M1278 824h0M1237 829h0M1264 807h0M1278 843h0M1243 815h0M1278 800h0M1257 815h0M1241 795h0"/><path stroke="#ffff00" d="M1279 809h0M1283 815h0M1243 820h0M1245 788h0M1267 830h0M1224 822h0M1250 812h0M1245 853h0M1232 815h0M1273 807h0M1260 821h0M1226 830h0M1252 804h0M1265 831h0M1257 816h0M1278 793h0"/><path stroke="#ffef00" d="M1366 796h0M1458 787h0M1434 807h0M1364 862h0M1379 806h0M1423 828h0M1369 822h0M1407 757h0M1407 824h0M1342 806h0M1418 794h0M1473 803h0M1372 825h0M1381 777h0M1416 795h0M1317 879h0M1289 856h0M1323 824h0M1416 772h0M1357 863h0M1388 836h0M1377 801h0M1366 896h0M1329 875h0M1462 763h0M1332 853h0M1430 801h0M1363 825h0M1325 888h0"/><path stroke="#ffdf00" d="M1291 870h0M1366 857h0M1408 801h0M1443 836h0M1354 796h0M1423 758h0M1378 813h0M1342 783h0M1428 778h0M1320 888h0M1455 774h0M1395 804h0M1350 765h0M1331 860h0M1449 796h0M1401 866h0M1370 823h0M1415 780h0M1355 865h0M1316 884h0M1444 834h0M1345 859h0M1383 795h0M1359 896h0M1454 751h0M1438 786h0M1357 851h0M1384 762h0M1453 797h0M1390 792h0M1432 739h0M1416 807h0M1362 791h0M1411 795h0M1314 866h0M1480 800h0M1363 824h0M1381 765h0M1403 805h0M1327 813h0M1426 773h0M1325 849h0M1418 816h0M1415 790h0M1490 758h0M1467 777h0M1388 834h0M1401 774h0M1486 798h0M1377 810h0M1418 758h0M1420 802h0M1338 801h0M1452 771h0M1484 781h0M1411 809h0M1387 763h0M1431 802h0M1365 808h0M1419 784h0M1396 852h0M1362 786h0M1454 762h0M1425 783h0M1363 826h0M1420 764h0M1452 810h0M1395 799h0M1456 745h0M1399 815h0M1374 781h0M1420 793h0M1470 787h0M1401 823h0"/><path stroke="#ffcf00" d="M1505 672h0M1573 694h0M1482 768h0M1531 699h0M1554 764h0M1503 728h0M1577 658h0M1551 709h0M1486 803h0M1515 714h0M1572 745h0M1520 742h0M1563 655h0M1546 744h0M1500 741h0M1536 724h0M1624 645h0M1511 778h0M1470 735h0M1552 720h0M1476 796h0M1528 713h0M1558 747h0M1513 731h0M1598 620h0M1594 675h0M1527 760h0M1551 687h0M1617 697h0M1531 733h0M1569 656h0M1567 709h0M1455 749h0M1597 655h0M1618 681h0M1519 764h0M1524 671h0M1585 712h0M1502 747h0M1552 688h0M1533 786h0M1497 727h0M1596 645h0M1574 665h0M1535 747h0M1515 693h0M1594 671h0M1534 707h0M1517 664h0M1568 721h0M1476 751h0M1556 679h0M1625 640h0M1528 744h0M1501 705h0M1565 706h0M1459 796h0M1539 683h0M1550 748h0M1520 717h0M1600 633h0M1586 689h0M1516 767h0M1524 713h0M1611 714h0M1481 742h0M1545 643h0M1527 728h0M1450 732h0M1542 680h0M1568 663h0M1518 720h0M1463 713h0M1556 704h0M1474 775h0M1526 692h0M1557 732h0M1500 730h0M1562 653h0M1539 704h0M1491 795h0M1506 692h0M1594 700h0M1510 737h0M1545 643h0M1560 722h0M1490 724h0M1564 679h0M1634 654h0M1526 752h0M1539 670h0M1571 713h0M1489 760h0M1566 669h0M1539 752h0M1533 711h0M1622 617h0M1599 661h0M1531 764h0M1525 702h0M1604 703h0M1507 760h0M1541 689h0M1550 729h0M1455 782h0M1578 679h0M1615 677h0M1530 744h0M1497 706h0M1554 724h0M1489 766h0M1549 704h0M1551 767h0M1494 731h0M1594 646h0M1584 694h0M1489 797h0M1539 694h0M1587 717h0M1535 716h0M1588 616h0M1541 741h0M1492 728h0M1564 697h0M1616 653h0M1534 752h0M1499 723h0M1537 728h0M1465 800h0M1513 711h0M1565 755h0M1512 743h0M1571 660h0M1574 707h0M1512 787h0M1522 728h0M1597 723h0M1503 753h0M1525 681h0M1535 728h0M1464 748h0M1552 673h0M1577 672h0M1525 702h0M1505 676h0M1572 709h0M1476 755h0M1555 672h0M1561 756h0M1522 704h0M1596 643h0M1577 670h0"/><path stroke="#ffbf00" d="M1537 772h0M1514 692h0M1613 670h0M1521 723h0M1541 639h0M1562 700h0M1485 722h0M1540 689h0M1621 652h0M1525 743h0M1515 678h0M1572 686h0M1477 759h0M1554 659h0M1558 719h0M1525 709h0M1603 622h0M1578 692h0M1503 766h0M1530 682h0M1574 716h0M1495 738h0M1546 659h0M1528 716h0M1456 730h0M1572 670h0M1602 659h0M1527 737h0M1494 691h0M1578 683h0M1490 756h0M1531 691h0M1571 753h0M1496 736h0M1582 652h0M1572 689h0M1509 764h0M1520 686h0M1576 698h0M1520 723h0M1563 631h0M1563 729h0M1499 719h0M1580 670h0M1635 664h0M1525 740h0M1543 666h0M1556 713h0M1461 768h0M1554 671h0M1529 761h0M1518 712h0M1597 662h0M1565 705h0M1529 772h0M1536 727h0M1617 682h0M1507 769h0M1516 691h0M1551 734h0M1452 783h0M1524 704h0M1566 691h0M1503 755h0M1454 729h0M1557 724h0M1472 785h0M1522 709h0M1554 757h0M1499 739h0M1575 669h0M1542 722h0M1487 793h0M1505 709h0M1588 721h0M1513 741h0M1555 650h0M1532 748h0M1472 739h0M1539 705h0M1591 658h0M1506 771h0M1468 727h0M1547 700h0M1467 784h0M1509 697h0M1549 724h0M1522 704h0M1569 621h0M1567 670h0M1504 758h0M1515 691h0M1597 695h0M1490 762h0M1533 677h0M1535 725h0M1446 763h0M1550 682h0M1582 688h0M1521 741h0M1492 693h0M1545 723h0M1488 747h0M1536 695h0M1554 772h0M1524 701h0M1614 624h0M1570 671h0M1514 762h0M1497 700h0M1580 680h0M1515 719h0M1524 651h0M1559 723h0M1470 750h0M1543 692h0M1587 680h0M1517 753h0M1506 715h0M1545 712h0M1457 794h0M1547 674h0M1560 748h0M1521 727h0M1609 628h0M1575 686h0M1494 766h0M1526 692h0M1592 711h0M1485 735h0M1544 650h0M1527 721h0M1476 710h0M1573 665h0M1604 639h0M1551 699h0M1485 701h0M1604 674h0M1509 755h0M1551 671h0M1607 713h0M1528 719h0M1589 635h0M1582 677h0M1532 772h0M1537 699h0M1595 697h0M1527 735h0"/><path stroke="#ffaf00" d="M1286 741h0M1395 739h0M1329 752h0M1194 764h0M1294 723h0M1325 768h0M1246 738h0M1359 714h0M1279 760h0M1256 730h0M1343 749h0M1436 751h0M1256 752h0M1256 710h0M1305 752h0M1194 747h0M1313 729h0M1303 766h0M1304 739h0M1426 723h0M1361 752h0M1232 767h0M1318 735h0M1359 774h0M1271 743h0M1336 723h0M1287 750h0M1211 719h0M1357 737h0M1374 758h0M1308 748h0M1349 713h0M1349 757h0M1277 734h0M1323 738h0M1250 777h0M1278 718h0M1410 735h0M1377 740h0M1274 768h0M1301 716h0M1391 753h0M1304 734h0M1363 697h0M1349 754h0M1247 722h0M1360 730h0M1414 746h0M1282 747h0M1301 705h0M1334 734h0M1171 738h0M1364 715h0M1324 764h0M1290 732h0M1400 719h0M1337 737h0M1242 746h0M1303 724h0M1335 771h0M1230 731h0M1327 715h0M1258 744h0M1196 713h0M1316 734h0M1339 739h0M1272 737h0M1231 701h0M1326 751h0M1172 740h0M1271 721h0M1273 768h0M1221 722h0M1333 715h0M1325 732h0M1194 761h0M1285 718h0M1337 756h0M1271 728h0M1331 701h0M1284 744h0M1251 716h0M1320 727h0M1420 754h0M1248 741h0M1318 709h0M1331 748h0M1233 726h0M1367 725h0M1292 764h0M1316 741h0M1435 737h0M1355 741h0M1244 752h0M1289 723h0M1362 763h0M1235 740h0M1300 716h0M1269 741h0M1181 722h0M1338 720h0M1360 744h0M1253 743h0M1285 701h0M1312 754h0M1207 735h0M1308 728h0M1283 773h0M1280 720h0M1419 724h0M1363 742h0M1239 753h0M1320 733h0M1307 766h0M1281 743h0M1385 714h0M1270 763h0M1259 727h0M1348 746h0M1406 754h0M1278 765h0M1286 725h0M1338 748h0M1192 755h0M1294 723h0M1294 765h0M1247 734h0M1365 716h0M1310 745h0M1231 760h0M1267 732h0M1350 777h0M1196 744h0M1302 717h0M1256 752h0M1188 713h0M1315 727h0M1329 744h0M1246 737h0M1270 695h0M1278 754h0M1176 730h0M1294 723h0M1238 762h0M1241 719h0M1336 726h0M1306 732h0M1220 766h0M1290 713h0M1370 758h0M1267 745h0M1341 712h0M1301 758h0M1213 728h0M1300 736h0M1383 750h0M1227 750h0M1257 713h0M1281 745h0M1170 738h0M1301 729h0M1265 767h0M1279 744h0M1438 727h0M1333 756h0M1181 758h0M1268 732h0M1305 782h0M1227 743h0M1341 724h0M1261 756h0M1219 711h0M1355 738h0M1391 754h0M1294 750h0M1284 710h0M1344 757h0M1241 746h0M1323 734h0M1306 779h0M1253 733h0M1392 732h0M1318 753h0M1221 764h0M1293 729h0M1345 755h0M1311 732h0M1394 707h0M1314 750h0M1269 715h0M1372 732h0M1417 756h0M1297 738h0M1353 714h0M1343 743h0M1168 725h0M1382 726h0M1292 771h0M1316 733h0M1412 741h0M1384 747h0M1298 765h0M1328 733h0M1413 763h0M1273 751h0M1354 714h0M1323 746h0M1205 727h0M1335 726h0M1364 741h0M1279 743h0M1250 698h0M1320 753h0M1193 738h0M1294 727h0M1278 768h0M1216 728h0M1326 724h0M1278 740h0M1181 750h0M1270 710h0M1307 756h0M1254 730h0M1347 709h0M1285 752h0M1246 725h0M1295 735h0M1409 741h0M1257 763h0M1253 716h0M1328 751h0M1198 750h0M1310 721h0M1306 762h0M1283 734h0M1403 718h0M1353 744h0M1224 752h0M1284 724h0M1350 761h0M1227 734h0M1335 719h0M1292 748h0M1192 715h0M1355 737h0M1354 757h0M1237 753h0M1281 715h0M1317 764h0M1233 744h0"/><path stroke="#ff9f00" d="M1324 746h0M1272 772h0M1262 737h0M1406 745h0M1365 748h0M1261 774h0M1290 729h0M1338 761h0M1277 742h0M1336 700h0M1287 761h0M1212 718h0M1322 725h0M1380 744h0M1220 743h0M1262 711h0M1287 744h0M1159 733h0M1295 720h0M1245 759h0M1246 728h0M1367 725h0M1316 737h0M1225 738h0M1289 729h0M1308 778h0M1215 730h0M1335 716h0M1266 750h0M1239 716h0M1345 743h0M1364 737h0M1266 739h0M1227 699h0M1319 745h0M1212 738h0M1305 722h0M1303 763h0M1261 737h0M1350 735h0M1299 749h0M1212 770h0M1276 728h0M1346 764h0M1244 741h0M1344 709h0M1285 764h0M1236 730h0M1326 734h0M1414 753h0M1242 742h0M1271 704h0M1287 748h0M1178 738h0M1312 727h0M1260 764h0M1277 735h0M1419 731h0M1343 744h0M1229 762h0M1288 723h0M1367 763h0M1259 745h0M1326 715h0M1296 743h0M1180 714h0M1192 804h0M1219 770h0M1335 724h0M1364 743h0M1246 744h0M1249 707h0M1296 753h0M1228 738h0M1319 733h0M1187 829h0M1173 777h0M1291 782h0M1264 721h0M1397 732h0M1199 802h0M1349 745h0M1220 757h0M1303 722h0M1342 763h0M1302 737h0M1390 710h0M1279 754h0M1218 808h0M1246 713h0M1171 820h0M1178 771h0M1309 732h0M1384 740h0M1274 738h0M1280 703h0M1331 730h0M1193 738h0M1344 716h0M1314 761h0M1266 723h0M1410 713h0M1357 736h0M1268 743h0M1289 725h0M1194 806h0M1339 765h0M1241 727h0M1352 709h0M1293 744h0M1149 807h0M1220 715h0M1194 775h0M1359 731h0M1373 748h0M1299 736h0M1329 699h0M1335 756h0M1190 848h0M1232 731h0M1183 805h0M1349 732h0M1260 772h0M1265 724h0M1394 734h0M1333 732h0M1227 766h0M1222 788h0M1269 712h0M1342 752h0M1237 738h0M1305 702h0M1207 820h0M1282 749h0M1193 727h0M1282 733h0M1410 750h0M1227 752h0M1239 710h0M1293 753h0M1184 740h0M1308 721h0M1272 769h0M1259 738h0M1379 729h0M1310 752h0M1197 754h0M1172 836h0M1266 736h0M1326 774h0M1231 742h0M1319 729h0M1280 754h0M1193 713h0M1340 743h0M1188 813h0M1205 853h0M1381 755h0M1164 806h0M1265 761h0M1246 718h0M1304 757h0M1190 750h0M1270 736h0M1273 773h0M1223 732h0M1336 725h0M1308 737h0M1185 755h0M1205 775h0M1271 721h0M1307 754h0M1190 824h0M1169 772h0M1264 737h0M1353 700h0M1277 761h0M1231 723h0M1336 742h0M1387 764h0M1234 747h0M1298 720h0M1313 749h0M1179 734h0M1326 733h0M1238 762h0M1257 732h0M1211 803h0M1380 733h0M1316 743h0M1225 755h0M1273 741h0M1215 833h0M1360 775h0M1186 823h0M1192 740h0M1294 711h0M1289 753h0M1183 730h0M1202 757h0M1322 741h0M1349 761h0M1271 757h0M1286 703h0M1309 762h0M1204 739h0M1314 730h0M1274 770h0M1263 730h0M1370 731h0M1296 746h0M1202 842h0M1167 803h0M1191 750h0M1287 722h0M1197 798h0M1277 771h0M1179 848h0M1184 788h0M1243 741h0M1372 724h0M1216 801h0M1284 765h0M1279 725h0M1333 746h0M1201 819h0M1436 743h0M1281 760h0M1263 719h0M1172 842h0M1328 749h0M1218 753h0M1344 723h0M1343 759h0M1331 736h0M1403 720h0M1402 744h0M1265 758h0M1304 721h0M1390 768h0M1277 742h0M1357 716h0M1337 746h0M1224 715h0M1179 788h0M1391 728h0M1410 758h0M1291 746h0"/><path stroke="#ff8f00" d="M1307 711h0M1331 754h0M1234 737h0M1305 733h0M1270 773h0M1265 725h0M1376 741h0M1345 743h0M1238 765h0M1281 721h0M1349 749h0M1275 733h0M1306 699h0M1296 743h0M1195 718h0M1292 725h0M1357 740h0M1234 742h0M1250 714h0M1268 733h0M1188 734h0M1298 714h0M1270 761h0M1270 723h0M1399 719h0M1339 741h0M1214 746h0M1304 720h0M1341 764h0M1253 728h0M1385 716h0M1310 742h0M1270 707h0M1370 725h0M1386 729h0M1299 733h0M1263 699h0M1333 744h0M1197 734h0M1296 718h0M1303 769h0M1258 719h0M1359 713h0M1323 734h0M1216 748h0M1300 708h0M1333 758h0M1245 730h0M1342 704h0M1279 742h0M1233 715h0M1290 729h0M1398 763h0M1224 745h0M1277 701h0M1296 744h0M1210 718h0M1364 724h0M1302 761h0M1317 733h0M1425 739h0M1398 743h0M1297 762h0M1327 730h0M1414 757h0M1293 737h0M1355 712h0M1338 742h0M1209 727h0M1373 723h0M1414 746h0M1297 748h0M1295 708h0M1347 755h0M1263 742h0M1331 731h0M1306 780h0M1272 728h0M1392 728h0M1338 740h0M1231 753h0M1318 724h0M1327 759h0M1299 738h0M1383 712h0M1272 766h0M1227 725h0M1329 748h0M1409 755h0M1258 764h0M1274 728h0M1324 755h0M1188 756h0M1332 729h0M1326 776h0M1280 744h0M1415 721h0M1382 741h0M1275 752h0M1311 733h0M1373 770h0M1242 735h0M1337 713h0M1275 754h0M1182 723h0M1314 734h0M1334 752h0M1236 745h0M1277 699h0M1291 765h0M1203 744h0M1301 742h0M1236 778h0M1234 731h0M1343 741h0M1313 745h0M1232 765h0M1287 720h0M1370 766h0M1278 747h0M1371 707h0M1327 753h0M1261 725h0M1364 738h0M1419 755h0M1262 756h0M1318 718h0M1327 755h0M1203 742h0M1325 732h0M1281 766h0M1295 735h0M1413 731h0M1349 752h0M1220 758h0M1301 731h0M1306 778h0M1234 733h0M1342 723h0M1269 750h0M1219 709h0M1360 740h0M1385 742h0M1296 746h0M1262 705h0M1325 743h0M1232 735h0M1300 726h0M1314 783h0M1246 726h0M1386 712h0M1353 733h0M1237 754h0M1318 718h0M1381 757h0M1304 737h0M1382 704h0M1289 460h0M1310 511h0M1211 514h0M1288 479h0M1264 557h0M1248 501h0M1320 486h0M1290 522h0M1234 529h0M1269 495h0M1314 590h0M1233 495h0M1316 455h0M1273 528h0M1230 457h0M1297 496h0M1314 510h0M1256 526h0M1240 462h0M1285 540h0M1214 530h0M1265 496h0M1266 569h0M1246 499h0M1311 485h0M1287 508h0M1213 557h0M1258 471h0M1302 546h0M1255 507h0M1306 458h0M1263 535h0M1223 482h0M1267 506h0M1331 534h0M1248 510h0M1277 445h0M1276 511h0M1216 483h0M1299 476h0M1262 537h0M1260 492h0M1355 491h0M1307 510h0M1236 544h0M1260 480h0M1326 552h0M1246 518h0M1282 478h0M1269 542h0M1197 498h0M1299 521h0M1317 558h0M1253 552h0M1265 475h0M1293 558h0M1233 530h0M1279 517h0M1260 578h0M1236 489h0M1311 499h0M1267 528h0M1193 535h0M1250 480h0M1269 536h0M1245 494h0M1307 447h0M1247 532h0M1224 469h0M1279 506h0M1304 515h0M1238 538h0M1240 491h0M1273 532h0M1191 543h0M1267 487h0M1273 568h0"/><path stroke="#ff8000" d="M1247 504h0M1309 477h0M1284 523h0M1236 542h0M1264 500h0M1313 574h0M1243 519h0M1296 464h0M1264 523h0M1209 480h0M1280 499h0M1293 529h0M1247 512h0M1253 444h0M1285 527h0M1230 488h0M1293 478h0M1250 551h0M1265 477h0M1331 493h0M1296 499h0M1240 551h0M1261 468h0M1295 536h0M1256 508h0M1297 457h0M1283 529h0M1240 501h0M1281 510h0M1339 537h0M1242 549h0M1253 468h0M1277 546h0M1190 521h0M1273 489h0M1247 561h0M1235 501h0M1318 482h0M1267 526h0M1194 534h0M1258 490h0M1271 573h0M1224 504h0M1272 488h0M1242 522h0M1193 455h0M1271 512h0M1293 532h0M1223 541h0M1215 466h0M1256 545h0M1192 519h0M1238 494h0M1236 587h0M1217 493h0M1305 481h0M1281 504h0M1223 528h0M1271 483h0M1278 543h0M1249 504h0M1304 452h0M1257 534h0M1214 455h0M1273 478h0M1305 526h0M1229 503h0M1253 443h0M1264 511h0M1187 468h0M1299 471h0M1248 542h0M1254 487h0M1328 502h0M1294 506h0M1246 535h0M1260 498h0M1316 556h0M1219 514h0M1272 449h0M1268 511h0M1210 469h0M1292 483h0M1306 513h0M1259 510h0M1254 430h0M1291 537h0M1204 523h0M1257 492h0M1227 562h0M1215 495h0M1278 495h0M1249 515h0M1173 552h0M1247 488h0M1274 577h0M1232 517h0M1294 472h0M1234 559h0M1217 489h0M1257 521h0M1318 537h0M1215 557h0M1218 484h0M1253 536h0M1170 535h0M1256 500h0M1247 564h0M1223 516h0M1314 474h0M1273 530h0M1202 546h0M1248 489h0M1283 557h0M1227 500h0M1280 454h0M1249 504h0M1191 441h0M1272 481h0M1283 524h0M1223 509h0M1249 444h0M1249 528h0M1191 501h0M1239 507h0M1209 566h0M1202 473h0M1270 506h0M1234 516h0M1169 552h0M1215 468h0M1251 531h0M1208 503h0M1244 439h0M1211 545h0M1164 482h0M1226 499h0M1262 520h0M1185 508h0M1207 455h0M1213 507h0M1148 499h0M1231 474h0M1194 548h0M1195 470h0M1285 472h0M1250 508h0M1188 504h0M1234 485h0M1254 561h0M1200 486h0M1269 465h0M1219 506h0M1200 450h0M1262 510h0M1271 510h0M1233 511h0M1183 440h0M1269 540h0M1182 531h0M1233 483h0M1237 561h0M1196 486h0M1266 470h0M1237 509h0M1170 563h0M1203 483h0M1234 552h0M1180 515h0M1231 462h0M1214 538h0M1172 478h0M1215 491h0M1282 540h0M1184 528h0M1221 450h0M1230 516h0M1155 487h0M1245 465h0M1198 531h0M1206 487h0M1297 478h0M1259 496h0M1197 543h0M1217 488h0M1272 547h0M1208 507h0M1237 454h0M1220 506h0M1148 460h0M1264 475h0M1280 514h0M1202 510h0M1204 429h0M1235 521h0M1167 495h0M1217 487h0M1195 576h0M1175 474h0M1245 479h0M1223 507h0M1150 512h0M1212 448h0M1236 512h0M1206 480h0M1257 441h0M1211 514h0M1190 442h0M1244 482h0M1282 493h0M1199 513h0M1201 443h0M1216 500h0M1141 509h0M1221 462h0M1215 542h0M1204 482h0M1270 460h0M1239 508h0M1171 522h0M1205 487h0M1247 561h0M1163 491h0M1236 447h0M1204 510h0M1150 441h0M1226 488h0M1242 521h0M1179 512h0M1211 430h0M1210 546h0M1151 490h0M1211 486h0M1171 546h0M1175 475h0M1244 486h0M1199 493h0M1154 556h0M1184 461h0"/><path stroke="#ff7000" d="M1247 531h0M1189 507h0M1235 437h0M1228 530h0M1171 485h0M1234 492h0M1283 511h0M1196 520h0M1205 462h0M1235 520h0M1153 519h0M1222 490h0M1204 556h0M1207 510h0M1279 481h0M1232 534h0M1159 520h0M1206 458h0M1233 544h0M1173 480h0M1230 449h0M1192 508h0M1145 433h0M1234 488h0M1251 496h0M1190 495h0M1173 427h0M1211 500h0M1156 491h0M1197 479h0M1200 568h0M1169 474h0M1248 455h0M1234 489h0M1168 531h0M1209 459h0M1232 520h0M1204 479h0M1243 429h0M1209 524h0M1167 462h0M1224 485h0M1246 517h0M1180 502h0M1201 439h0M1194 486h0M1112 464h0M1225 460h0M1175 524h0M1194 453h0M1275 475h0M1241 493h0M1169 525h0M1196 471h0M1245 538h0M1147 490h0M1208 428h0M1180 502h0M1130 450h0M1223 466h0M1245 499h0M1198 485h0M1197 411h0M1221 515h0M1143 480h0M1211 471h0M1185 548h0M1166 468h0M1241 475h0M1220 487h0M1137 505h0M1191 445h0M1195 535h0M1176 480h0M1241 435h0M1168 507h0M1166 459h0M1185 492h0M1262 498h0M1157 525h0M1160 444h0M1210 501h0M1116 508h0M1188 470h0M1191 550h0M1172 495h0M1245 450h0M1220 519h0M1150 542h0M1188 485h0M1220 556h0M1157 497h0M1196 466h0M1175 512h0M1114 448h0M1221 474h0M1237 508h0M1159 491h0M1185 424h0M1190 528h0M1139 483h0M1189 481h0M1154 561h0M1149 471h0M1213 483h0M1179 487h0M1132 532h0M1164 467h0M1197 525h0M1159 494h0M1198 419h0M1176 541h0M1120 468h0M1180 487h0M1227 529h0M1135 525h0M1155 457h0M1175 518h0M1097 492h0M1181 461h0M1150 544h0M1141 483h0M1221 487h0M1181 520h0M1128 515h0M1162 482h0M1188 543h0M1137 476h0M1223 446h0M1174 485h0M1145 412h0M1207 458h0M1212 474h0M1160 470h0M1152 417h0M1196 490h0M1129 468h0M1187 444h0M1173 516h0M1154 446h0M1216 448h0M1188 466h0M1101 512h0M1179 430h0M1202 510h0M1152 458h0M1206 425h0M1167 491h0M1151 434h0M1190 455h0M1232 512h0M1147 482h0M1183 413h0M1171 482h0M1122 444h0M1195 452h0M1150 504h0M1171 469h0M1234 481h0M1213 480h0M1140 517h0M1154 463h0M1205 522h0M1127 498h0M1379 704h0M1367 661h0M1407 699h0M1269 694h0M1395 662h0M1383 725h0M1346 691h0M1457 673h0M1421 702h0M1324 711h0M1370 686h0M1432 745h0M1322 701h0M1451 660h0M1381 708h0M1313 660h0M1450 693h0M1468 711h0M1384 690h0M1438 639h0M1421 714h0M1330 679h0M1445 681h0M1368 726h0M1377 671h0M1475 682h0M1409 686h0M1316 737h0M1368 663h0M1448 715h0M1355 701h0M1404 652h0M1384 716h0M1320 679h0"/><path stroke="#ff6000" d="M1399 688h0M1495 708h0M1331 706h0M1353 656h0M1381 695h0M1257 692h0M1382 673h0M1355 713h0M1339 682h0M1472 670h0M1401 699h0M1287 711h0M1359 674h0M1389 725h0M1308 684h0M1409 658h0M1348 693h0M1308 658h0M1404 686h0M1436 697h0M1353 704h0M1331 662h0M1391 716h0M1301 700h0M1386 696h0M1382 744h0M1339 668h0M1458 663h0M1405 683h0M1319 704h0M1395 654h0M1434 706h0M1367 673h0M1438 643h0M1373 698h0M1331 650h0M1415 668h0M1478 697h0M1354 681h0M1407 643h0M1427 687h0M1271 670h0M1458 669h0M1356 723h0M1354 679h0M1477 690h0M1432 699h0M1347 716h0M1395 677h0M1478 731h0M1362 689h0M1435 657h0M1394 701h0M1312 669h0M1414 686h0M1440 709h0M1367 700h0M1375 635h0M1406 725h0M1323 699h0M1420 685h0M1361 742h0M1351 674h0M1460 677h0M1400 696h0M1271 714h0M1395 679h0M1387 741h0M1346 702h0M1433 674h0M1338 711h0M1314 662h0M1367 694h0M1486 697h0M1332 726h0M1323 661h0M1387 708h0M1273 705h0M1384 674h0M1395 729h0M1367 700h0M1471 676h0M1441 702h0M1341 722h0M1376 688h0M1429 731h0"/><path stroke="#ff5000" d="M1335 693h0M1411 661h0M1368 692h0M1301 667h0M1445 678h0M1466 702h0M1357 696h0M1375 646h0M1394 716h0M1303 691h0M1405 684h0M1361 747h0M1347 669h0M1462 673h0M1417 686h0M1324 722h0M1359 668h0M1428 704h0M1365 697h0M1412 632h0M1397 707h0M1302 669h0M1424 682h0M1483 705h0M1359 701h0M1400 653h0M1431 691h0M1296 687h0M1432 663h0M1397 708h0M1387 680h0M1497 675h0M1459 701h0M1364 707h0M1410 685h0M1434 736h0M1334 687h0M1445 674h0M1378 717h0M1336 666h0M1464 695h0M1504 695h0M1404 699h0M1372 645h0M1449 713h0M1325 694h0M1402 673h0M1375 732h0M1337 688h0M1450 685h0M1393 700h0M1289 725h0M1394 666h0M1442 722h0M1363 691h0M1481 659h0M1394 714h0M1348 668h0M1412 681h0M1471 709h0M1333 693h0M1387 650h0M1395 697h0M1292 671h0M1401 669h0M1343 703h0M1391 673h0M1514 676h0M1479 682h0M1367 712h0M1393 659h0M1490 711h0M1350 689h0M1415 649h0M1388 698h0M1268 669h0M1441 670h0M1464 692h0M1356 694h0M1371 642h0M1407 703h0M1289 684h0M1368 673h0M1348 743h0M1326 673h0M1451 677h0M1396 698h0M1289 713h0M1349 671h0M1380 723h0M1333 685h0M1437 654h0M1331 714h0M1299 659h0M1380 688h0M1467 694h0M1346 710h0M1360 673h0M1388 711h0M1274 709h0M1399 677h0M1382 738h0M1335 689h0M1461 673h0M1415 695h0M1300 714h0M1367 679h0M1441 738h0M1324 686h0"/><path stroke="#ff4000" d="M1421 662h0M1371 705h0M1302 656h0M1431 679h0M1451 701h0M1371 683h0M1394 639h0M1399 709h0M1293 679h0M1399 670h0M1342 729h0M1359 670h0M1467 690h0M1404 681h0M1325 716h0M1381 657h0M1462 711h0M1380 692h0M1422 658h0M1384 708h0M1338 668h0M1402 686h0M1525 702h0M1357 691h0M1401 638h0M1434 700h0M1316 683h0M1445 669h0M1380 722h0M1372 684h0M1506 679h0M1442 710h0M1310 706h0M1395 677h0M1412 733h0M1343 687h0M1441 675h0M1401 707h0M1351 650h0M1486 693h0M1505 687h0M1392 699h0M1376 648h0M1465 701h0M1336 697h0M1413 673h0M1432 732h0M1367 669h0M1482 660h0M1444 683h0M1357 709h0M1411 666h0M1457 716h0M1392 692h0M1463 646h0M1389 715h0M1316 666h0M1416 684h0M1469 704h0M1336 695h0M1367 659h0M1402 702h0M1256 681h0M1415 672h0M1348 730h0M1368 687h0M1499 690h0M1446 696h0M1358 712h0M1414 688h0M1478 724h0M1371 696h0M1445 653h0M1416 709h0M1326 664h0M1457 674h0M1467 699h0M1378 680h0M1387 637h0M1428 700h0M1307 687h0M1388 676h0M1359 724h0M1355 670h0M1446 673h0M1371 689h0M1270 712h0M1384 662h0M1410 730h0M1341 683h0M1461 654h0M1385 710h0M1365 663h0M1437 693h0M1502 705h0M1349 716h0M1372 662h0M1416 713h0"/><path stroke="#ff3000" d="M1295 698h0M1415 670h0M1392 715h0M1369 680h0M1488 654h0M1445 690h0M1332 695h0M1402 657h0M1444 715h0M1355 675h0M1450 648h0M1386 683h0M1308 644h0M1440 680h0M1469 711h0M1385 696h0M1438 646h0M1439 708h0M1351 675h0M1416 684h0M1327 734h0M1368 660h0M1488 685h0M1452 683h0M1365 719h0M1399 662h0M1475 702h0M1378 678h0M1425 637h0M1406 700h0M1308 661h0M1417 672h0M1485 702h0M1347 708h0M1368 662h0M1389 707h0M1266 703h0M1429 673h0M1394 733h0M1379 680h0M1506 673h0M1461 706h0M1341 709h0M1393 679h0M1432 730h0M1331 678h0M1434 648h0M1384 696h0M1339 655h0M1445 688h0M1466 693h0M1379 692h0M1346 642h0M1435 704h0M1284 697h0M1379 666h0M1380 736h0M1321 682h0M1425 678h0M1389 697h0M1305 718h0M1363 678h0M1422 738h0M1346 701h0M1421 665h0M1365 726h0M1327 688h0M1393 704h0M1484 731h0M1331 705h0M1388 659h0M1402 710h0M1298 687h0M1420 682h0M1349 722h0M1359 685h0M1502 684h0M1435 699h0M1328 728h0M1376 687h0M1442 728h0M1333 701h0M1381 673h0M1358 706h0M1264 676h0M1428 693h0M1461 721h0M1350 715h0M1367 661h0M1401 727h0M1324 705h0M1403 698h0"/><path stroke="#ff2000" d="M1375 748h0M1346 687h0M1481 695h0M1423 715h0M1313 720h0M1386 688h0M1408 737h0M1394 704h0M1508 661h0M1387 719h0M1365 664h0M1453 690h0M1513 688h0M1389 702h0M1379 658h0M1429 689h0M1297 697h0M1414 665h0M1425 731h0M1387 699h0M1488 673h0M1443 704h0M1337 721h0M1398 701h0M1467 738h0M1331 701h0M1445 664h0M1393 714h0M1330 666h0M1471 679h0M1483 700h0M1286 652h0M1326 706h0M1247 660h0M1352 647h0M1278 677h0M1232 640h0M1354 672h0M1412 669h0M1296 686h0M1256 641h0M1357 684h0M1247 685h0M1312 671h0M1332 721h0M1228 660h0M1393 650h0M1353 670h0M1243 691h0M1315 644h0M1369 687h0M1293 668h0M1374 630h0M1316 691h0M1259 653h0M1365 668h0M1419 687h0M1278 679h0M1322 651h0M1341 670h0M1197 664h0M1331 649h0M1265 700h0M1281 661h0M1431 663h0M1375 677h0M1268 698h0M1311 668h0M1412 708h0M1250 683h0M1334 651h0M1315 690h0M1234 664h0M1374 664h0M1387 678h0M1301 680h0M1304 625h0M1365 687h0M1231 675h0M1380 661h0M1305 713h0M1261 674h0M1379 676h0M1340 686h0M1198 692h0M1293 661h0M1314 708h0M1252 675h0M1390 647h0M1295 687h0M1259 650h0M1297 668h0M1471 681h0M1278 682h0M1294 637h0M1372 682h0M1216 677h0M1339 648h0M1318 695h0M1300 664h0M1424 644h0M1377 671h0M1241 675h0M1314 646h0M1373 691h0M1259 657h0M1348 638h0M1306 664h0M1230 633h0M1389 659h0M1401 694h0M1282 680h0M1351 634h0M1350 686h0M1273 666h0M1361 664h0M1272 702h0M1304 652h0M1449 676h0M1374 678h0M1294 712h0M1332 664h0M1417 697h0M1348 670h0M1376 626h0M1356 692h0M1254 656h0M1386 656h0M1457 677h0M1293 685h0M1309 641h0M1361 677h0M1195 665h0M1349 648h0M1308 699h0M1288 661h0M1417 655h0M1343 679h0M1228 686h0M1304 662h0M1353 718h0M1239 670h0M1399 644h0M1303 681h0M1234 635h0M1358 663h0M1396 668h0M1310 672h0M1284 625h0M1342 686h0M1198 680h0M1303 665h0M1297 712h0M1271 671h0M1391 667h0M1349 685h0M1227 700h0M1312 656h0M1379 710h0M1281 685h0M1374 652h0M1298 696h0M1245 659h0M1354 675h0M1446 702h0M1281 674h0M1335 639h0M1352 681h0M1222 663h0M1363 660h0M1273 699h0M1314 677h0M1474 673h0M1374 678h0M1251 696h0M1289 661h0M1357 699h0M1235 670h0M1328 652h0M1309 683h0M1202 653h0M1363 666h0M1401 693h0M1311 688h0M1335 651h0M1372 698h0M1284 680h0M1372 676h0M1312 717h0M1288 654h0M1418 657h0M1369 677h0M1209 680h0M1324 646h0M1312 688h0M1288 663h0M1429 639h0M1298 687h0M1262 644h0M1322 669h0M1423 674h0M1279 690h0M1284 648h0M1314 673h0M1202 682h0M1296 655h0M1296 707h0M1255 678h0M1406 655h0M1357 676h0M1230 697h0M1296 675h0M1382 718h0M1237 685h0M1323 649h0M1288 686h0M1204 657h0"/><path stroke="#ff1000" d="M1324 668h0M1368 687h0M1304 678h0M1298 628h0M1352 697h0M1214 663h0M1326 649h0M1255 704h0M1261 655h0M1374 661h0M1317 665h0M1229 703h0M1309 648h0M1411 693h0M1312 679h0M1383 643h0M1371 694h0M1256 660h0M1340 669h0M1447 686h0M1287 687h0M1310 642h0M1343 686h0M1188 679h0M1335 658h0M1290 698h0M1290 673h0M1427 661h0M1358 686h0M1232 687h0M1300 658h0M1343 700h0M1264 664h0M1369 658h0M1313 680h0M1249 641h0M1417 674h0M1427 681h0M1293 685h0M1291 634h0M1366 686h0M1227 679h0M1320 665h0M1302 718h0M1245 660h0M1367 652h0M1336 671h0M1215 684h0M1295 650h0M1328 690h0M1280 664h0M1385 627h0M1293 689h0M1229 649h0M1363 674h0M1432 698h0M1287 681h0M1353 652h0M1338 693h0M1203 675h0M1384 665h0M1308 702h0M1316 662h0M1439 675h0M1385 681h0M1301 703h0M1338 676h0M1401 701h0M1259 691h0M1353 655h0M1348 701h0M1231 669h0M1396 671h0M1444 688h0M1344 683h0M1330 632h0M1383 688h0M1255 675h0M1360 657h0M1301 701h0M1267 654h0M1356 654h0M1318 669h0M1198 693h0M1294 651h0M1339 699h0M1264 671h0M1392 645h0M1311 683h0M1282 648h0M1352 670h0M1456 676h0M1290 687h0M1272 645h0M1349 686h0M1233 688h0M1345 665h0M1342 708h0M1317 683h0M1443 658h0M1412 693h0M1250 705h0M1324 664h0M1406 713h0M1274 679h0M1363 653h0M1299 688h0M1193 647h0M1370 675h0M1403 698h0M1291 692h0M1327 651h0M1347 703h0M1257 681h0M1344 673h0M1254 715h0M1278 654h0M1428 670h0M1350 684h0M1242 712h0M1282 666h0M1349 704h0M1260 682h0M1342 636h0M1303 691h0M1232 662h0M1314 665h0M1377 687h0M1240 677h0M1283 642h0M1303 671h0M1190 667h0M1347 649h0M1281 699h0M1263 659h0M1412 657h0M1353 678h0M1225 676h0M1300 659h0M1331 705h0M1249 659h0M1392 642h0M1307 679h0M1256 645h0M1354 674h0M1394 672h0M1318 664h0M1266 625h0M1373 682h0M1248 672h0M1350 655h0M1347 709h0M1278 666h0M1406 659h0M1371 674h0M1250 701h0M1334 653h0M1381 696h0M1317 670h0M1413 638h0M1332 678h0M1295 648h0M1340 656h0M1458 690h0M1285 676h0M1338 636h0M1359 687h0M1240 672h0M1394 663h0M1319 700h0M1322 663h0M1471 662h0M1429 670h0M1306 692h0M1344 657h0M1438 694h0M1311 667h0M1383 643h0M1368 677h0M1217 644h0M1430 661h0M1458 681h0M1324 670h0M1342 636h0M1379 689h0M1266 671h0M1364 666h0M1309 719h0M1272 658h0M1402 664h0M1345 683h0M1198 688h0M1296 656h0M1312 697h0M1298 674h0M1431 642h0M1294 698h0M1263 650h0M1360 683h0M1428 686h0M1268 694h0M1271 651h0M1326 684h0M1183 686h0M1333 650h0M1326 700h0M1297 663h0M1446 652h0M1403 674h0M1303 681h0M1366 660h0M1405 702h0M1295 667h0M1414 641h0M1349 686h0M1273 644h0M1421 673h0M1412 695h0M1318 675h0M1361 633h0M1355 696h0M1270 668h0M1374 671h0M1302 707h0M1324 663h0M1427 677h0M1357 676h0M1270 707h0M1313 656h0M1415 694h0M1298 676h0M1347 630h0M1328 691h0M1258 660h0M1370 665h0M1477 680h0M1325 687h0M1330 640h0M1384 677h0M1245 666h0M1358 644h0M1340 684h0M1323 654h0M1431 646h0M1381 668h0M1225 677h0M1309 649h0M1345 707h0M1235 669h0M1342 657h0M1277 676h0M1212 638h0M1372 671h0M1423 679h0M1313 681h0M1270 634h0M1346 690h0M1254 689h0M1334 683h0M1334 721h0M1259 672h0M1407 660h0M1365 688h0M1240 713h0M1312 669h0M1365 708h0M1305 684h0"/><path stroke="#ff0000" d="M1415 646h0M1312 703h0M1258 665h0M1348 678h0M1404 697h0M1268 681h0M1318 646h0M1296 672h0M1197 658h0M1353 649h0M1269 692h0M1272 656h0M1412 662h0M1367 674h0M1271 694h0M1323 667h0M1420 706h0M1283 681h0M1383 650h0M1354 683h0M1252 655h0M1386 661h0M1397 680h0M1342 674h0M1314 625h0M1374 700h0M1244 672h0M1366 665h0M1313 712h0M1297 659h0M1432 663h0M1369 679h0M1198 690h0M1343 649h0M1354 693h0M1301 665h0M1398 647h0M1299 688h0M1285 653h0M1349 672h0M1463 670h0M1275 693h0M1264 650h0M1323 685h0M1189 684h0M1322 661h0M1340 705h0M1314 674h0M1418 646h0M1358 680h0M1232 697h0M1298 663h0M1370 705h0M1284 681h0M1372 658h0M1338 677h0M1201 642h0M1400 664h0M1411 685h0M1294 681h0M1327 626h0M1361 688h0M1240 668h0M1370 659h0M1294 708h0M1307 653h0M1429 662h0M1360 666h0M1258 691h0M1292 644h0M1348 681h0M1290 659h0M1345 622h0M1311 683h0M1231 648h0M1343 652h0M1430 670h0M1291 670h0M1318 641h0M1343 675h0M1200 667h0M1341 656h0M1292 702h0M1274 666h0M1408 668h0M1359 693h0M1135 648h0M1155 665h0M1133 683h0M1160 640h0M1130 655h0M1243 693h0M1311 672h0M1358 715h0M1277 679h0M1423 660h0M1332 698h0M1297 640h0M1423 670h0M1452 672h0M1333 674h0M1296 624h0M1397 683h0M1251 669h0M1351 655h0M1350 696h0M1295 657h0M1389 652h0M1331 664h0M1181 687h0M1317 640h0M1376 696h0M1303 668h0M1409 634h0M1311 679h0M1282 645h0M1363 662h0M1454 698h0M1285 683h0M1332 648h0M1331 686h0M1210 665h0M1353 666h0M1267 695h0M1318 672h0M1443 674h0M1394 681h0M1257 708h0M1280 669h0M1388 708h0M1251 687h0M1328 659h0M1301 693h0M1178 665h0M1348 667h0M1382 686h0M1271 678h0M1269 637h0M1321 683h0M1220 669h0M1313 663h0M1271 716h0M1236 651h0M1386 650h0M1348 671h0M1225 683h0M1338 649h0M1343 690h0M1302 661h0M1403 637h0M1285 687h0M1255 645h0M1345 667h0M1432 668h0M1289 679h0M1286 640h0M1314 664h0M1193 673h0M1368 637h0M1332 694h0M1288 657h0M1445 646h0M1395 670h0M1280 680h0M1340 660h0M1402 701h0M1283 661h0M1392 636h0M1325 670h0M1237 634h0M1380 658h0M1411 673h0M1336 663h0M1355 626h0M1355 684h0M1253 651h0M1388 657h0M1299 705h0M1327 655h0M1435 668h0M1389 665h0M1276 697h0M1339 643h0M1416 689h0M1317 675h0M1396 645h0M1327 689h0M1278 662h0M1356 672h0M1456 697h0M1283 697h0M1319 654h0M1333 700h0M1199 679h0M1338 667h0M1296 706h0M1320 673h0M1459 664h0M1385 688h0M1237 684h0M1317 669h0M1309 711h0M1273 665h0M1391 652h0M1329 671h0M1275 637h0M1399 657h0M1428 657h0M1308 672h0M1256 631h0M1363 674h0M1236 674h0M1305 661h0M1325 715h0M1257 668h0M1395 660h0M1368 680h0M1241 699h0M1305 656h0M1368 688h0M1312 676h0M1390 626h0M1321 693h0M1240 645h0M1335 661h0M1407 690h0M1247 684h0M1290 640h0M1309 676h0M1172 665h0M1357 656h0M1295 700h0M1294 655h0M1429 663h0M1373 661h0M1286 682h0M1310 663h0M1438 700h0M1259 663h0M1360 633h0M1335 675h0M1219 641h0M1389 648h0M1435 669h0M1319 673h0M1317 624h0M1394 680h0M1279 671h0M1387 663h0M1350 704h0M1310 660h0M1424 664h0M1367 668h0M1207 687h0M1353 649h0M1370 711h0M1310 672h0M1417 649h0M1325 689h0M1307 649h0M1390 665h0M1477 675h0M1330 692h0M1339 643h0M1391 684h0"/><path stroke="#ff0000" d="M1251 679h0M1375 651h0M1343 697h0M1320 668h0M1451 648h0M1405 677h0M1259 685h0M1331 651h0M1375 703h0M1264 670h0M1362 650h0M1301 674h0M1221 638h0M1362 661h0M1380 681h0M1277 675h0M1313 635h0M1312 686h0M1214 659h0M1298 663h0M1241 707h0M1241 647h0M1383 666h0M1330 666h0M1233 707h0M1272 653h0M1374 684h0M1267 674h0M1336 626h0M1319 687h0M1229 654h0M1370 665h0M1447 680h0M1295 684h0M1306 639h0M1339 669h0M1186 671h0M1323 651h0M1288 704h0M1269 661h0M1407 650h0M1374 668h0M1261 673h0M1314 650h0M1361 706h0M1260 655h0M1409 637h0M1345 672h0M1269 636h0M1381 665h0M1405 668h0M1324 670h0M1270 626h0M1358 687h0M1210 681h0M1328 657h0M1341 719h0M1284 672h0M1414 664h0M1367 681h0M1261 707h0M1359 654h0M1407 704h0M1317 682h0M1405 653h0M1336 701h0M1287 669h0M1359 679h0M1443 701h0M1289 691h0M1368 649h0M1344 691h0M1220 668h0M1380 661h0M1307 695h0M1333 659h0M1464 654h0M1400 662h0M1265 687h0M1299 655h0M1374 689h0M1270 663h0M1340 635h0M1323 660h0M1214 647h0M1381 646h0M1418 675h0M1290 671h0M1321 622h0M1350 683h0M1227 661h0M1336 649h0M1298 702h0M1293 645h0M1420 658h0M1349 672h0M1224 683h0M1332 649h0M1334 697h0M1293 660h0M1394 639h0M1273 684h0M1246 636h0M1329 663h0M1410 669h0M1258 680h0M1264 635h0M1321 671h0M1189 679h0M1327 642h0M1340 691h0M1298 660h0M1409 645h0M1358 664h0M1260 678h0M1307 657h0M1393 705h0M1227 663h0M1354 635h0M1312 672h0M1230 634h0M1365 653h0M1381 672h0M1273 666h0M1288 624h0M1322 687h0M1233 657h0M1362 655h0M1311 696h0M1311 653h0M1400 662h0M1347 671h0M1235 704h0M1304 645h0M1390 685h0M1285 668h0M1354 637h0M1333 695h0M1261 669h0M1344 678h0M1433 692h0M1278 688h0M1323 641h0M1366 681h0M1251 673h0M1351 661h0M1317 697h0M1326 673h0M1471 664h0M1387 697h0M1219 695h0M1324 665h0M1354 721h0M1276 676h0M1395 656h0M1324 682h0M1232 639h0M1387 673h0M1397 678h0M1277 680h0M1280 636h0M1339 687h0M1231 679h0M1337 669h0M1331 721h0M1287 672h0M1442 669h0M1388 689h0M1244 700h0M1332 663h0M1373 708h0M1302 681h0M1414 651h0M1326 705h0M1294 660h0M1367 681h0M1424 708h0M1299 684h0M1366 647h0M1374 677h0M1197 650h0M1391 650h0M1291 698h0M1299 660h0M1438 672h0M1379 675h0M1285 698h0M1443 567h0M1452 630h0M1326 612h0M1471 568h0M1421 662h0M1396 584h0M1504 573h0M1468 612h0M1368 604h0M1430 577h0M1468 671h0M1363 561h0M1495 531h0M1400 610h0M1336 522h0M1478 573h0M1516 581h0M1410 592h0M1413 498h0M1502 617h0M1356 598h0M1470 570h0M1458 660h0M1426 567h0M1537 559h0M1480 591h0M1337 638h0M1467 528h0M1524 633h0M1442 581h0M1529 527h0M1430 618h0M1394 538h0M1477 573h0M1560 632h0M1412 583h0M1493 521h0M1468 599h0M1339 562h0M1470 560h0M1400 619h0M1452 567h0M1587 588h0M1536 583h0M1404 639h0M1426 550h0M1544 626h0M1393 600h0M1454 538h0M1431 624h0M1317 569h0M1497 582h0M1527 621h0M1410 618h0M1420 532h0M1476 626h0M1377 597h0M1457 574h0M1433 672h0M1401 561h0M1527 561h0M1459 602h0M1327 616h0"/><path stroke="#ff0000" d="M1436 549h0M1475 629h0M1439 588h0M1528 541h0M1412 627h0M1384 560h0M1463 598h0M1532 605h0M1386 617h0M1374 554h0M1399 587h0M1312 599h0M1426 558h0M1406 662h0M1373 587h0M1520 550h0M1490 596h0M1369 610h0M1440 560h0M1523 647h0M1376 560h0M1488 512h0M1411 591h0M1345 527h0M1469 559h0M1502 604h0M1418 579h0M1467 495h0M1477 611h0M1366 563h0M1500 549h0M1420 635h0M1440 541h0M1551 563h0M1490 572h0M1373 628h0M1457 535h0M1519 618h0M1432 569h0M1517 510h0M1458 599h0M1382 536h0M1457 570h0M1572 620h0M1398 602h0M1465 519h0M1491 610h0M1328 570h0M1488 546h0M1433 623h0M1427 568h0M1588 568h0M1511 617h0M1398 618h0M1483 573h0M1488 662h0M1413 576h0M1505 559h0M1445 601h0M1348 516h0M1495 597h0M1520 589h0M1397 601h0M1379 512h0M1476 600h0M1350 593h0M1432 572h0M1458 670h0M1357 577h0M1493 546h0M1453 585h0M1330 629h0M1382 554h0M1441 617h0M1389 580h0M1460 512h0M1418 628h0M1356 542h0M1479 567h0M1533 622h0M1352 614h0M1401 545h0M1406 610h0M1311 573h0M1454 554h0M1377 640h0M1368 569h0M1502 573h0M1470 588h0M1382 615h0M1417 564h0M1534 648h0M1391 576h0M1466 517h0M1424 606h0M1541 661h0M1332 554h0M1509 582h0M1537 616h0M1434 603h0M1434 515h0M1500 631h0M1364 598h0M1489 591h0M1444 679h0M1395 600h0M1512 593h0M1444 610h0M1333 645h0M1460 570h0M1508 666h0M1559 702h0M1416 598h0M1535 557h0M1427 645h0M1398 566h0M1472 608h0M1570 632h0M1415 639h0M1427 556h0M1483 633h0M1360 611h0M1492 565h0M1445 649h0M1440 606h0M1581 562h0M1523 624h0M1392 638h0M1552 696h0M1458 574h0M1535 664h0M1425 599h0M1521 564h0M1468 608h0M1376 538h0M1542 576h0M1554 611h0M1440 593h0M1475 522h0M1567 646h0M1470 610h0M1386 573h0M1471 591h0M1390 679h0M1423 564h0M1566 596h0M1521 595h0M1410 669h0M1434 560h0M1523 626h0M1440 588h0M1485 510h0M1474 647h0M1376 573h0M1478 572h0M1553 622h0M1431 631h0M1446 555h0M1470 606h0M1309 608h0M1480 564h0M1451 660h0M1561 706h0M1414 575h0M1556 553h0M1506 597h0M1389 612h0M1439 576h0M1481 668h0M1373 584h0M1502 538h0M1429 595h0M1396 524h0M1520 577h0M1562 590h0M1471 588h0M1407 504h0M1506 603h0M1373 590h0M1496 553h0M1488 652h0M1418 569h0M1554 557h0M1514 596h0M1379 645h0M1469 546h0M1533 642h0M1447 593h0M1529 550h0M1453 646h0M1405 580h0M1490 606h0M1533 675h0M1557 644h0M1374 632h0M1435 557h0M1454 635h0M1328 580h0M1484 569h0M1417 658h0M1423 601h0M1568 606h0M1481 613h0M1555 675h0M1342 645h0M1387 583h0M1470 657h0M1588 716h0M1358 611h0M1446 567h0M1425 621h0M1307 556h0M1497 579h0M1513 621h0M1393 617h0M1529 688h0M1432 518h0M1487 619h0M1370 586h0M1500 574h0M1440 679h0M1438 568h0M1572 586h0M1510 617h0M1377 631h0M1555 663h0M1565 703h0M1473 572h0M1462 650h0M1407 599h0M1559 531h0M1402 640h0M1380 541h0M1465 594h0M1545 606h0M1415 633h0M1433 556h0M1495 603h0M1346 616h0M1482 557h0M1453 666h0M1412 603h0M1534 566h0M1479 614h0M1394 639h0M1461 597h0M1519 663h0M1395 607h0M1506 541h0M1446 616h0M1362 543h0M1504 682h0M1502 562h0M1515 604h0M1433 590h0M1445 501h0M1466 616h0M1348 572h0M1451 576h0M1412 655h0M1412 585h0M1560 655h0M1535 593h0M1490 596h0M1368 659h0M1435 542h0M1534 623h0M1422 579h0M1493 505h0M1440 615h0M1547 719h0M1346 558h0M1443 580h0M1537 623h0M1377 609h0M1410 527h0M1433 613h0M1307 603h0M1441 564h0M1383 634h0M1391 578h0M1547 554h0"/><path stroke="#ed0000" d="M1477 599h0M1317 598h0M1430 537h0M1467 643h0M1385 554h0M1503 531h0M1452 587h0M1387 502h0M1509 577h0M1522 614h0M1413 622h0M1431 547h0M1496 637h0M1387 603h0M1491 579h0M1470 672h0M1426 569h0M1568 565h0M1516 617h0M1359 642h0M1449 564h0M1492 641h0M1423 593h0M1516 531h0M1405 643h0M1352 571h0M1449 596h0M1501 636h0M1380 604h0M1464 554h0M1450 597h0M1308 560h0M1486 554h0M1405 623h0M1432 551h0M1563 576h0M1515 583h0M1416 628h0M1427 550h0M1534 618h0M1364 587h0M1451 511h0M1449 591h0M1353 539h0M1507 547h0M1535 581h0M1428 576h0M1397 516h0M1490 608h0M1346 581h0M1459 559h0M1423 654h0M1409 564h0M1525 563h0M1477 594h0M1334 628h0M1440 548h0M1470 632h0M1399 565h0M1496 526h0M1445 604h0M1397 546h0M1459 577h0M1565 591h0M1396 612h0M1404 518h0M1463 603h0M1308 589h0M1455 538h0M1449 634h0M1419 568h0M1542 542h0M1502 594h0M1377 615h0M1445 559h0M1516 625h0M1407 566h0M1504 524h0M1450 576h0M1355 535h0M1513 549h0M1501 608h0M1368 589h0M1399 511h0M1424 616h0M1314 574h0M1414 568h0M1350 663h0M1356 557h0M1503 569h0M1445 574h0M1356 614h0M1414 536h0M1482 607h0M1417 578h0M1472 507h0M1423 610h0M1345 539h0M1445 557h0M1519 598h0M1356 596h0M1396 534h0M1426 600h0M1303 586h0M1456 555h0M1392 640h0M1389 552h0M1527 546h0M1465 589h0M1329 597h0M1420 578h0M1440 674h0M1343 578h0M1463 548h0M1394 611h0M1345 522h0M1456 575h0M1501 570h0M1428 588h0M1401 503h0M1494 608h0M1373 613h0M1465 589h0M1474 679h0M1397 607h0M1486 583h0M1439 601h0M1329 653h0M1422 530h0M1476 620h0M1389 564h0M1486 522h0M1438 602h0M1378 541h0M1478 573h0M1572 624h0M1399 603h0M1439 536h0M1468 614h0M1326 577h0M1460 576h0M1385 644h0M1402 591h0M1588 590h0M1479 605h0M1353 662h0M1391 573h0M1493 643h0M1367 600h0M1438 548h0M1397 611h0M1316 565h0M1488 581h0M1523 636h0M1406 626h0M1435 533h0M1451 617h0M1357 587h0M1428 582h0M1402 662h0M1362 580h0M1497 585h0M1440 615h0M1313 640h0M1414 569h0M1457 663h0M1407 614h0M1529 544h0M1395 634h0M1339 549h0M1432 593h0M1512 592h0M1373 612h0M1406 552h0M1431 612h0M1310 611h0M1425 558h0M1393 657h0M1361 587h0M1518 554h0M1476 608h0M1369 619h0M1445 576h0M1504 668h0M1389 599h0M1507 549h0M1453 601h0M1368 532h0M1486 567h0M1480 615h0M1407 583h0M1445 514h0M1453 633h0M1338 568h0M1468 568h0M1372 649h0M1410 565h0M1503 586h0M1460 597h0M1351 661h0M1380 559h0M1483 641h0M1380 607h0M1441 544h0M1422 622h0M1334 564h0M1421 566h0M1586 603h0M1392 625h0M1412 542h0M1478 621h0M1329 604h0M1497 566h0M1476 639h0M1450 575h0M1563 558h0M1538 601h0M1401 617h0M1474 574h0M1492 666h0M1408 597h0M1493 561h0M1456 613h0M1352 527h0M1511 599h0M1537 614h0M1400 621h0M1382 525h0M1470 629h0M1355 616h0M1428 577h0M1437 666h0M1394 579h0M1519 568h0M1485 596h0M1359 637h0M1446 570h0M1500 632h0M1456 596h0M1541 521h0M1452 634h0M1388 554h0M1492 578h0M1548 617h0M1410 593h0M1467 537h0M1447 596h0M1307 567h0M1462 561h0M1395 635h0"/><path stroke="#d90000" d="M1428 568h0M1572 595h0M1527 602h0M1424 628h0M1472 593h0M1543 661h0M1389 595h0M1505 526h0M1440 609h0M1330 538h0M1471 570h0M1511 614h0M1405 602h0M1437 498h0M1466 631h0M1351 585h0M1458 574h0M1424 662h0M1414 576h0M1546 573h0M1485 607h0M1329 632h0M1491 548h0M1485 654h0M1427 598h0M1555 559h0M1440 641h0M1416 572h0M1478 618h0M1579 611h0M1425 649h0M1414 568h0M1463 623h0M1338 627h0M1444 583h0M1430 654h0M1422 603h0M1547 549h0M1515 618h0M1360 649h0M1434 575h0M1502 652h0M1390 596h0M1479 530h0M1443 602h0M1334 525h0M1514 546h0M1535 592h0M1405 574h0M1433 505h0M1447 612h0M1380 579h0M1473 575h0M1425 680h0M1423 564h0M1561 601h0M1519 609h0M1382 657h0M1410 570h0M1475 636h0M1416 608h0M1478 525h0M1431 642h0M1355 588h0M1464 607h0M1542 640h0M1424 621h0M1426 546h0M1440 600h0M1304 598h0M1437 568h0M1399 670h0M1398 589h0M1534 578h0M1475 627h0M1359 630h0M1440 595h0M1479 660h0M1398 601h0M1513 575h0M1445 638h0M1383 543h0M1533 590h0M1546 605h0M1433 605h0M1405 514h0M1483 631h0M1333 613h0M1460 571h0M1448 669h0M1410 576h0M1541 556h0M1495 585h0M1358 648h0M1464 561h0M1518 633h0M1452 586h0M1534 532h0M1452 609h0M1391 551h0M1451 587h0M1538 632h0M1397 614h0M1471 539h0M1462 624h0M1348 567h0M1498 573h0M1430 653h0M1443 589h0M1572 593h0M1538 598h0M1434 648h0M1437 582h0M1525 657h0M1395 610h0M1454 565h0M1464 617h0M1319 558h0M1488 573h0M1529 613h0M1405 612h0M1409 532h0M1469 623h0M1361 606h0M1457 578h0M1429 659h0M1398 561h0M1529 572h0M1476 596h0M1352 602h0M1423 534h0M1462 621h0M1423 572h0M1528 510h0M1399 614h0M1344 525h0M1460 577h0M1581 607h0M1434 632h0M1424 555h0M1468 631h0M1318 635h0M1479 576h0M1482 665h0M1435 583h0M1555 554h0M1524 607h0M1394 634h0M1459 591h0M1509 661h0M1376 596h0M1497 533h0M1442 604h0M1356 520h0M1499 560h0M1499 612h0M1425 588h0M1440 497h0M1455 608h0M1368 563h0M1483 548h0M1410 624h0M1418 549h0M1543 571h0M1488 576h0M1371 656h0M1448 547h0M1530 626h0M1415 582h0M1508 511h0M1454 624h0M1406 559h0M1503 581h0M1560 619h0M1413 608h0M1458 518h0M1472 599h0M1336 571h0M1459 543h0M1415 627h0M1446 566h0M1570 546h0M1492 588h0M1355 601h0M1439 558h0M1474 651h0M1401 573h0M1518 554h0M1425 605h0M1372 519h0M1508 601h0M1530 609h0M1426 623h0M1394 542h0M1491 617h0M1379 606h0M1457 597h0M1454 668h0M1382 569h0M1503 554h0M1480 598h0M1355 643h0M1428 555h0M1477 636h0M1403 597h0M1520 521h0M1461 643h0M1389 562h0M1516 592h0M1578 635h0M1432 616h0M1482 555h0M1475 604h0M1291 571h0M1486 556h0M1410 639h0M1425 561h0M1555 574h0M1489 590h0M1382 622h0M1424 566h0M1525 631h0M1363 585h0M1469 528h0M1436 593h0M1348 538h0M1480 560h0M1511 598h0M1415 589h0M1405 517h0M1454 626h0M1320 581h0M1456 558h0M1399 656h0M1383 567h0M1508 578h0M1465 610h0M1310 640h0M1467 571h0M1494 665h0"/><path stroke="#cc0000" d="M1448 592h0M1561 550h0M1457 634h0M1433 563h0M1499 601h0M1554 618h0M1394 641h0M1427 560h0M1473 629h0M1351 621h0M1478 582h0M1461 660h0M1448 602h0M1579 558h0M1508 614h0M1369 619h0M1426 563h0M1470 644h0M1384 591h0M1468 555h0M1450 597h0M1339 531h0M1527 579h0M1521 621h0M1409 590h0M1457 499h0M1440 608h0M1344 562h0M1453 569h0M1360 661h0M1402 536h0M1526 562h0M1484 564h0M1400 624h0M1424 546h0M1518 621h0M1432 588h0M1483 508h0M1484 626h0M1361 554h0M1493 563h0M1581 594h0M1410 615h0M1418 547h0M1472 601h0M1323 586h0M1457 560h0M1410 650h0M1409 589h0M1537 577h0M1479 618h0M1368 643h0M1447 603h0M1500 676h0M1374 597h0M1525 552h0M1451 632h0M1378 560h0M1514 600h0M1544 611h0M1435 624h0M1415 528h0M1530 628h0M1370 626h0M1460 584h0M1453 677h0M1384 596h0M1486 576h0M1424 603h0M1350 640h0M1388 566h0M1455 658h0M1369 613h0M1471 551h0M1402 645h0M1350 583h0M1427 598h0M1530 636h0M1351 608h0M1314 544h0M1393 450h0M1456 514h0M1383 493h0M1487 402h0M1418 514h0M1340 466h0M1455 463h0M1520 492h0M1339 512h0M1367 452h0M1363 496h0M1233 490h0M1422 442h0M1360 531h0M1350 463h0M1482 450h0M1426 464h0M1311 502h0M1372 452h0M1485 500h0M1333 477h0M1428 406h0M1425 466h0M1314 439h0M1448 422h0M1470 451h0M1400 456h0M1382 405h0M1457 475h0M1297 467h0M1427 426h0M1360 527h0M1329 439h0M1473 425h0M1411 462h0M1245 523h0M1380 427h0M1411 513h0M1316 470h0M1441 414h0M1403 578h0M1342 495h0M1310 439h0M1382 457h0M1530 440h0M1521 553h0M1441 606h0M1321 502h0M1303 425h0M1401 467h0M1238 502h0M1384 528h0M1366 440h0M1380 513h0M1508 565h0M1327 478h0M1475 412h0M1562 579h0M1442 472h0M1335 523h0M1402 449h0M1488 491h0M1359 479h0M1456 428h0M1448 477h0M1440 570h0M1267 454h0M1416 514h0M1483 460h0M1497 604h0M1350 589h0M1514 504h0M1376 513h0M1453 584h0M1417 414h0M1457 655h0M1468 507h0M1336 478h0M1426 460h0M1379 558h0M1445 573h0M1360 456h0M1512 445h0M1454 469h0M1365 527h0M1388 452h0M1464 497h0M1406 491h0M1451 404h0M1421 523h0M1320 474h0M1449 472h0M1517 490h0M1334 524h0M1500 584h0M1348 453h0M1393 506h0M1442 580h0M1238 515h0M1433 449h0M1383 537h0M1350 474h0M1498 452h0M1429 496h0M1341 617h0M1421 551h0M1321 508h0M1406 481h0M1445 534h0M1490 634h0M1333 491h0M1474 440h0M1370 524h0M1417 590h0M1306 455h0M1550 531h0M1460 476h0M1442 597h0M1495 488h0M1405 547h0M1388 511h0M1355 426h0M1474 507h0M1299 507h0M1411 458h0M1392 549h0M1509 587h0M1546 608h0M1395 587h0M1480 513h0M1336 481h0M1455 448h0M1447 600h0M1394 493h0M1307 531h0M1372 457h0M1363 550h0M1451 537h0M1365 500h0M1468 429h0M1365 529h0M1297 473h0M1504 578h0M1402 478h0M1495 502h0M1333 485h0M1395 413h0M1384 483h0M1411 621h0M1269 454h0M1412 425h0M1363 488h0M1445 568h0M1395 439h0M1563 588h0M1560 423h0M1491 445h0M1351 507h0M1392 435h0M1531 475h0M1358 463h0M1512 570h0M1445 399h0M1442 468h0M1416 625h0M1277 460h0M1431 570h0M1474 437h0M1501 464h0M1375 474h0M1514 629h0M1384 400h0M1406 584h0M1448 474h0M1444 534h0M1319 473h0M1476 582h0"/><path stroke="#b80000" d="M1407 451h0M1362 558h0M1398 548h0M1331 470h0M1480 437h0M1437 471h0M1495 554h0M1306 506h0M1401 429h0M1434 497h0M1542 615h0M1396 602h0M1340 468h0M1464 395h0M1355 500h0M1328 432h0M1419 548h0M1419 454h0M1487 455h0M1349 489h0M1347 432h0M1397 465h0M1470 623h0M1243 504h0M1387 583h0M1431 589h0M1371 425h0M1429 657h0M1391 531h0M1368 556h0M1331 471h0M1511 421h0M1473 480h0M1357 503h0M1431 436h0M1515 547h0M1496 513h0M1327 470h0M1466 569h0M1375 606h0M1437 404h0M1451 549h0M1395 473h0M1454 636h0M1293 428h0M1459 424h0M1467 458h0M1421 585h0M1380 455h0M1403 403h0M1423 483h0M1310 449h0M1445 432h0M1386 521h0M1386 426h0M1505 441h0M1425 461h0M1488 519h0M1325 543h0M1449 593h0M1418 535h0M1473 567h0M1548 595h0M1375 447h0M1467 494h0M1338 474h0M1411 403h0M1385 492h0M1309 460h0M1386 461h0M1525 476h0M1436 608h0M1461 532h0M1489 570h0M1312 508h0M1372 416h0M1410 498h0M1250 494h0M1340 602h0M1446 442h0M1396 533h0M1390 486h0M1559 438h0M1460 487h0M1298 522h0M1382 475h0M1407 544h0M1318 481h0M1505 543h0M1484 648h0M1439 443h0M1387 487h0M1285 422h0M1418 592h0M1535 569h0M1438 479h0M1485 464h0M1361 520h0M1308 448h0M1428 506h0M1505 605h0M1302 526h0M1385 610h0M1406 474h0M1441 535h0M1336 475h0M1457 425h0M1426 471h0M1304 530h0M1367 447h0M1445 499h0M1393 485h0M1467 383h0M1425 531h0M1316 475h0M1459 474h0M1526 504h0M1343 524h0M1374 450h0M1385 508h0M1240 501h0M1438 447h0M1378 534h0M1367 467h0M1525 447h0M1468 470h0M1353 515h0M1394 460h0M1525 512h0M1308 500h0M1382 433h0M1366 511h0M1247 488h0M1415 468h0M1452 490h0M1370 510h0M1330 430h0M1404 507h0M1290 496h0M1396 458h0M1362 534h0M1333 461h0M1443 444h0M1382 473h0M1269 528h0M1373 435h0M1433 516h0M1348 485h0M1455 421h0M1368 515h0M1341 455h0M1442 478h0M1562 473h0M1360 516h0M1366 442h0M1428 488h0M1297 514h0M1424 451h0M1418 530h0M1383 493h0M1535 420h0M1466 488h0M1298 530h0M1349 467h0M1433 522h0M1311 479h0M1406 426h0M1373 486h0M1273 434h0M1423 452h0M1456 486h0M1323 479h0M1377 391h0M1409 469h0M1319 452h0M1389 452h0M1317 557h0M1349 445h0M1510 453h0M1447 465h0M1321 547h0M1344 450h0M1463 485h0M1366 471h0M1423 401h0M1399 490h0M1271 450h0M1402 437h0M1489 455h0M1321 490h0M1324 432h0M1398 472h0M1238 506h0M1376 440h0M1368 541h0M1340 484h0M1499 443h0M1426 493h0M1285 524h0M1359 477h0M1429 546h0M1311 493h0M1437 423h0M1356 502h0M1272 459h0M1423 475h0M1454 478h0M1359 503h0M1302 429h0M1430 494h0M1284 501h0M1408 443h0M1426 521h0M1353 459h0M1493 417h0M1437 460h0M1294 534h0M1367 426h0M1434 492h0M1348 469h0M1445 406h0M1370 497h0M1311 462h0M1381 475h0M1523 500h0M1324 512h0M1389 433h0M1400 512h0M1250 496h0M1425 463h0M1348 543h0M1356 483h0M1505 460h0M1437 483h0M1320 534h0M1380 466h0M1491 527h0M1348 506h0M1413 447h0M1376 502h0M1277 465h0M1458 435h0M1511 474h0M1396 483h0M1404 391h0M1476 475h0M1343 476h0M1465 454h0M1418 555h0M1393 453h0M1529 426h0M1452 459h0M1313 506h0M1405 434h0M1414 507h0M1353 470h0M1489 385h0M1339 509h0M1316 424h0M1426 455h0M1531 453h0M1361 502h0M1354 439h0M1414 481h0M1269 517h0M1420 432h0M1435 514h0M1382 466h0M1509 417h0M1471 472h0M1369 499h0M1431 452h0"/><path stroke="#a80000" d="M1265 453h0M1328 401h0M1287 466h0M1238 410h0M1324 481h0M1337 496h0M1277 493h0M1271 418h0M1315 499h0M1260 482h0M1302 457h0M1301 552h0M1277 428h0M1346 432h0M1335 489h0M1232 519h0M1292 437h0M1314 521h0M1272 483h0M1328 400h0M1296 515h0M1264 458h0M1329 491h0M1357 517h0M1289 495h0M1306 450h0M1312 510h0M1216 486h0M1314 474h0M1273 564h0M1284 472h0M1366 477h0M1345 475h0M1283 532h0M1301 486h0M1332 547h0M1268 505h0M1304 456h0M1294 519h0M1240 472h0M1322 459h0M1323 514h0M1275 492h0M1273 389h0M1296 500h0M1231 474h0M1294 451h0M1269 559h0M1264 440h0M1343 444h0M1310 473h0M1219 502h0M1290 430h0M1287 538h0M1257 459h0M1308 429h0M1236 505h0M1253 411h0M1297 460h0M1354 478h0M1255 496h0M1251 406h0M1276 509h0M1210 493h0M1271 434h0M1263 522h0M1244 467h0M1312 411h0M1282 475h0M1222 499h0M1250 437h0M1310 521h0M1241 509h0M1287 461h0M1261 528h0M1192 457h0M1282 495h0M1313 528h0M1260 507h0M1271 405h0M1284 504h0M1212 453h0M1260 458h0M1219 568h0M1234 472h0M1313 485h0M1267 495h0M1226 550h0M1232 459h0M1280 508h0M1243 485h0M1270 396h0M1259 527h0M1212 465h0M1275 465h0M1283 520h0M1205 519h0M1219 448h0M1243 512h0M1176 519h0M1255 488h0M1230 570h0M1230 494h0M1312 497h0M1275 520h0M1196 510h0M1227 494h0M1247 580h0M1199 502h0M1266 450h0M1226 545h0M1188 439h0M1249 514h0M1262 495h0M1220 484h0M1215 408h0M1253 531h0M1182 510h0M1248 468h0M1224 589h0M1198 486h0M1261 502h0M1242 508h0M1175 552h0M1233 442h0M1254 543h0M1202 505h0M1266 461h0M1199 544h0M1176 473h0M1241 513h0M1279 570h0M1204 540h0M1232 475h0M1241 534h0M1175 467h0M1251 465h0M1210 553h0M1219 502h0M1304 489h0M1250 480h0M1176 531h0M1183 491h0M1258 580h0M1164 537h0M1222 466h0M1210 529h0M1137 471h0M1213 484h0M1247 522h0M1177 521h0M1172 448h0M1202 541h0M1140 501h0M1192 497h0M1172 591h0M1157 500h0M1229 489h0M1202 529h0M1125 538h0M1190 467h0M1215 547h0M1164 507h0M1224 453h0M1164 555h0M1154 472h0M1209 491h0M1241 508h0M1157 537h0M1165 489h0M1186 534h0M1128 519h0M1185 460h0M1194 550h0M1175 482h0M1265 452h0M1221 499h0M1156 537h0M1178 469h0M1211 579h0M1136 495h0M1211 441h0M1189 535h0M1122 477h0M1204 527h0M1219 564h0M1176 550h0M1184 432h0M1196 563h0M1132 481h0M1212 481h0M1172 558h0M1178 457h0M1236 482h0M1198 491h0M1125 555h0M1163 453h0M1193 549h0M1161 498h0M1218 427h0M1194 539h0M1146 469h0M1196 506h0M1260 557h0M1137 543h0M1161 451h0M1179 572h0M1105 540h0M1185 514h0M1153 599h0M1157 534h0M1253 525h0M1205 545h0M1120 534h0M1173 504h0M1161 587h0M1130 512h0M1191 510h0M1170 553h0M1111 460h0M1205 545h0M1208 544h0M1176 568h0M1127 485h0M1193 567h0M1124 555h0M1175 498h0M1172 604h0M1133 516h0M1200 518h0"/><path stroke="#8f0000" d="M1223 609h0M1291 588h0M1262 626h0M1245 594h0M1327 577h0M1295 594h0M1217 618h0M1281 574h0M1302 602h0M1271 588h0M1324 560h0M1281 598h0M1242 581h0M1281 586h0M1352 573h0M1254 604h0M1263 571h0M1304 590h0M1233 607h0M1300 572h0M1290 604h0M1281 587h0M1334 566h0M1309 588h0M1241 610h0M1285 579h0M1322 599h0M1265 592h0M1313 568h0M1281 589h0M1218 581h0M1318 575h0M1332 590h0M1257 596h0M1281 562h0M1286 594h0M1231 589h0M1291 578h0M1247 618h0M1254 582h0M1325 577h0M1297 587h0M1258 616h0M1265 586h0M1300 598h0M1247 599h0M1269 565h0M1262 604h0M1218 593h0M1280 578h0M1327 581h0M1243 605h0M1250 578h0M1271 595h0M1200 609h0M1288 581h0M1266 616h0M1264 594h0M1328 572h0M1295 594h0M1236 608h0M1271 593h0M1294 615h0M1224 607h0M1298 573h0M1266 610h0M1224 585h0M1304 580h0M1322 583h0M1272 598h0M1238 577h0M1302 602h0M1224 616h0M1265 596h0M1259 624h0M1230 602h0M1299 582h0M1271 598h0M1222 621h0M1251 585h0M1298 605h0M1240 602h0M1291 573h0M1255 615h0M1219 600h0M1266 600h0M1311 601h0M1224 608h0M1247 580h0M1262 606h0M1210 605h0M1284 582h0M1263 610h0M1274 587h0M1340 569h0M1316 580h0M1253 611h0M1270 580h0M1323 595h0M1252 592h0M1285 568h0M1259 598h0M1200 591h0M1298 576h0M1334 586h0M1275 594h0M1277 568h0M1298 594h0M1243 600h0M1299 585h0M1269 621h0M1258 584h0M1332 571h0M1303 591h0M1230 617h0M1285 582h0M1299 602h0M1262 592h0M1318 562h0M1260 601h0M1247 581h0M1302 585h0M1343 574h0M1271 603h0M1251 586h0M1274 596h0M1206 622h0M1280 573h0M1284 611h0M1253 594h0M1324 561h0M1305 584h0M1238 614h0M1268 584h0M1330 602h0M1243 598h0M1290 571h0M1283 600h0M1228 592h0M1299 583h0M1305 589h0M1262 593h0M1252 566h0M1284 600h0M1218 601h0M1280 576h0M1245 618h0M1234 586h0M1303 576h0M1272 587h0M1226 620h0M1250 577h0M1301 591h0M1248 595h0M1276 563h0M1268 599h0M1232 592h0M1286 586h0M1352 579h0M1245 606h0M1261 575h0M1299 593h0M1224 607h0M1307 576h0M1280 608h0M1254 590h0M1335 563h0M1312 588h0M1240 609h0M1277 582h0M1313 611h0M1265 598h0M1313 577h0M1275 604h0M1213 588h0M1309 587h0M1326 588h0M1267 602h0M1247 575h0M1291 595h0M1237 606h0M1276 588h0M1296 615h0M1253 592h0M1320 575h0M1285 591h0M1233 611h0M1272 582h0M1295 600h0M1273 591h0M1298 564h0M1251 613h0M1227 591h0M1300 585h0M1335 595h0M1254 605h0M1272 577h0M1281 601h0M1201 610h0M1297 588h0M1250 621h0M1263 590h0M1335 579h0M1311 586h0M1258 612h0M1268 593h0M1326 600h0M1242 609h0M1277 573h0M1274 606h0M1210 603h0M1300 582h0M1326 590h0M1269 605h0M1255 579h0M1293 609h0M1226 613h0M1275 591h0M1267 618h0M1251 597h0M1312 582h0M1285 594h0M1214 626h0M1268 585h0M1300 613h0M1256 602h0M1311 571h0M1262 608h0M1242 585h0M1289 584h0M1350 574h0M1257 603h0M1257 578h0M1284 594h0M1211 616h0M1268 584h0M1264 609h0M1266 590h0M1313 567h0M1296 586h0M1222 613h0M1248 585h0M1286 609h0M1228 598h0M1266 575h0M1247 603h0M1213 596h0M1275 588h0M1287 599h0M1233 609h0M1245 580h0M1255 604h0M1208 603h0M1253 595h0M1242 626h0M1241 589h0M1316 584h0M1287 594h0M1223 629h0M1242 593h0M1284 609h0M1235 609h0M1274 571h0M1259 614h0M1209 601h0M1271 589h0M1314 593h0M1235 614h0M1250 589h0M1264 607h0M1196 616h0M1282 588h0M1252 625h0M1239 602h0M1323 579h0M1292 604h0M1211 618h0M1247 596h0M1267 624h0M1221 607h0M1300 579h0M1256 610h0M1229 589h0M1292 591h0M1309 589h0M1263 602h0M1222 581h0M1295 608h0M1219 622h0M1271 594h0M1282 624h0M1230 603h0M1291 578h0M1268 596h0M1209 628h0M1248 584h0M1286 606h0M1252 600h0M1298 567h0M1278 601h0M1258 588h0M1291 587h0M1338 591h0M1264 606h0M1280 573h0M1297 597h0M1232 603h0M1302 578h0M1278 613h0M1271 594h0M1347 577h0M1316 588h0M1252 618h0M1264 597h0M1313 610h0M1245 612h0M1280 586h0M1290 597h0M1200 600h0M1318 582h0M1338 593h0M1261 609h0M1259 580h0M1287 610h0M1226 614h0M1273 596h0M1256 625h0M1238 596h0M1306 576h0M1285 591h0M1212 613h0M1266 579h0M1285 599h0M1257 590h0M1311 557h0M1251 604h0M1229 581h0M1278 582h0M1325 581h0M1257 603h0M1267 578h0M1299 593h0M1211 609h0M1287 579h0M1279 609h0M1268 591h0M1323 570h0M1310 589h0M1255 607h0M1286 589h0M1303 613h0M1238 607h0M1300 579h0M1269 612h0M1223 596h0M1298 594h0M1305 606h0M1264 607h0M1271 573h0M1272 616h0M1213 607h0M1271 592h0M1235 627h0M1253 594h0M1302 588h0M1264 595h0M1219 631h0M1230 587h0M1296 596h0M1238 602h0M1271 567h0M1273 601h0M1225 594h0M1287 589h0M1338 586h0M1255 612h0M1254 583h0M1290 598h0M1225 613h0M1275 588h0M1267 611h0M1254 598h0M1335 562h0M1303 592h0M1224 611h0M1264 582h0M1310 607h0M1241 598h0M1293 569h0M1260 600h0M1204 589h0M1293 583h0M1309 585h0M1248 608h0M1227 584h0M1282 603h0M1218 612h0M1267 594h0M1282 618h0M1236 598h0M1305 573h0M1287 598h0M1229 627h0M1264 590h0M1303 610h0M1251 608h0M1287 571h0M1259 616h0M1230 600h0M1292 593h0M1332 596h0M1254 608h0M1272 580h0M1268 603h0M1198 611h0M1284 585h0M1246 622h0M1246 594h0M1315 579h0M1283 592h0M1224 621h0M1247 596h0M1312 605h0M1216 610h0M1266 576h0M1260 605h0M1210 601h0M1285 588h0M1308 595h0M1266 603h0M1248 572h0M1285 606h0M1211 610h0M1260 593h0M1253 628h0M1242 597h0M1318 583h0M1292 597h0M1218 623h0M1274 587h0M1289 615h0M1257 605h0M1305 576h0M1261 609h0M1237 593h0M1268 598h0M1343 583h0M1245 620h0M1227 591h0M1274 606h0M1205 620h0M1277 581h0M1290 607h0M1256 590h0M1322 559h0M1289 585h0M1223 615h0M1241 588h0M1290 610h0M1226 612h0"/></g><g stroke="#262626" stroke-opacity="0.55" stroke-width="3.6" fill="none"><rect x="252.0" y="122.8" width="1601.0" height="1379.4"/><line x1="252.0" y1="1502.2" x2="252.0" y2="1486.2"/><line x1="252.0" y1="122.8" x2="252.0" y2="138.8"/><line x1="252.0" y1="1502.2" x2="268.0" y2="1502.2"/><line x1="1853.0" y1="1502.2" x2="1837.0" y2="1502.2"/><line x1="652.2" y1="1502.2" x2="652.2" y2="1486.2"/><line x1="652.2" y1="122.8" x2="652.2" y2="138.8"/><line x1="252.0" y1="1157.3" x2="268.0" y2="1157.3"/><line x1="1853.0" y1="1157.3" x2="1837.0" y2="1157.3"/><line x1="1052.5" y1="1502.2" x2="1052.5" y2="1486.2"/><line x1="1052.5" y1="122.8" x2="1052.5" y2="138.8"/><line x1="252.0" y1="812.5" x2="268.0" y2="812.5"/><line x1="1853.0" y1="812.5" x2="1837.0" y2="812.5"/><line x1="1452.8" y1="1502.2" x2="1452.8" y2="1486.2"/><line x1="1452.8" y1="122.8" x2="1452.8" y2="138.8"/><line x1="252.0" y1="467.6" x2="268.0" y2="467.6"/><line x1="1853.0" y1="467.6" x2="1837.0" y2="467.6"/><line x1="1853.0" y1="1502.2" x2="1853.0" y2="1486.2"/><line x1="1853.0" y1="122.8" x2="1853.0" y2="138.8"/><line x1="252.0" y1="122.8" x2="268.0" y2="122.8"/><line x1="1853.0" y1="122.8" x2="1837.0" y2="122.8"/></g><g shape-rendering="crispEdges"><rect x="1933.0" y="1474.96" width="100.0" height="21.94" fill="#00008f"/><rect x="1933.0" y="1453.51" width="100.0" height="21.94" fill="#00009f"/><rect x="1933.0" y="1432.07" width="100.0" height="21.94" fill="#0000af"/><rect x="1933.0" y="1410.62" width="100.0" height="21.94" fill="#0000bf"/><rect x="1933.0" y="1389.18" width="100.0" height="21.94" fill="#0000cf"/><rect x="1933.0" y="1367.74" width="100.0" height="21.94" fill="#0000df"/><rect x="1933.0" y="1346.29" width="100.0" height="21.94" fill="#0000ef"/><rect x="1933.0" y="1324.85" width="100.0" height="21.94" fill="#0000ff"/><rect x="1933.0" y="1303.41" width="100.0" height="21.94" fill="#0010ff"/><rect x="1933.0" y="1281.96" width="100.0" height="21.94" fill="#0020ff"/><rect x="1933.0" y="1260.52" width="100.0" height="21.94" fill="#0030ff"/><rect x="1933.0" y="1239.08" width="100.0" height="21.94" fill="#0040ff"/><rect x="1933.0" y="1217.63" width="100.0" height="21.94" fill="#0050ff"/><rect x="1933.0" y="1196.19" width="100.0" height="21.94" fill="#0060ff"/><rect x="1933.0" y="1174.74" width="100.0" height="21.94" fill="#0070ff"/><rect x="1933.0" y="1153.30" width="100.0" height="21.94" fill="#0080ff"/><rect x="1933.0" y="1131.86" width="100.0" height="21.94" fill="#008fff"/><rect x="1933.0" y="1110.41" width="100.0" height="21.94" fill="#009fff"/><rect x="1933.0" y="1088.97" width="100.0" height="21.94" fill="#00afff"/><rect x="1933.0" y="1067.53" width="100.0" height="21.94" fill="#00bfff"/><rect x="1933.0" y="1046.08" width="100.0" height="21.94" fill="#00cfff"/><rect x="1933.0" y="1024.64" width="100.0" height="21.94" fill="#00dfff"/><rect x="1933.0" y="1003.19" width="100.0" height="21.94" fill="#00efff"/><rect x="1933.0" y="981.75" width="100.0" height="21.94" fill="#00ffff"/><rect x="1933.0" y="960.31" width="100.0" height="21.94" fill="#00ffee"/><rect x="1933.0" y="938.86" width="100.0" height="21.94" fill="#00ffdd"/><rect x="1933.0" y="917.42" width="100.0" height="21.94" fill="#00ffcc"/><rect x="1933.0" y="895.98" width="100.0" height="21.94" fill="#00ffbb"/><rect x="1933.0" y="874.53" width="100.0" height="21.94" fill="#00ffaa"/><rect x="1933.0" y="853.09" width="100.0" height="21.94" fill="#00ff99"/><rect x="1933.0" y="831.64" width="100.0" height="21.94" fill="#00ff88"/><rect x="1933.0" y="810.20" width="100.0" height="21.94" fill="#00ff77"/><rect x="1933.0" y="788.76" width="100.0" height="21.94" fill="#00ff66"/><rect x="1933.0" y="767.31" width="100.0" height="21.94" fill="#54ff4f"/><rect x="1933.0" y="745.87" width="100.0" height="21.94" fill="#80ff38"/><rect x="1933.0" y="724.43" width="100.0" height="21.94" fill="#a1ff14"/><rect x="1933.0" y="702.98" width="100.0" height="21.94" fill="#bfff00"/><rect x="1933.0" y="681.54" width="100.0" height="21.94" fill="#d4ff00"/><rect x="1933.0" y="660.09" width="100.0" height="21.94" fill="#ebff00"/><rect x="1933.0" y="638.65" width="100.0" height="21.94" fill="#ffff00"/><rect x="1933.0" y="617.21" width="100.0" height="21.94" fill="#ffef00"/><rect x="1933.0" y="595.76" width="100.0" height="21.94" fill="#ffdf00"/><rect x="1933.0" y="574.32" width="100.0" height="21.94" fill="#ffcf00"/><rect x="1933.0" y="552.88" width="100.0" height="21.94" fill="#ffbf00"/><rect x="1933.0" y="531.43" width="100.0" height="21.94" fill="#ffaf00"/><rect x="1933.0" y="509.99" width="100.0" height="21.94" fill="#ff9f00"/><rect x="1933.0" y="488.54" width="100.0" height="21.94" fill="#ff8f00"/><rect x="1933.0" y="467.10" width="100.0" height="21.94" fill="#ff8000"/><rect x="1933.0" y="445.66" width="100.0" height="21.94" fill="#ff7000"/><rect x="1933.0" y="424.21" width="100.0" height="21.94" fill="#ff6000"/><rect x="1933.0" y="402.77" width="100.0" height="21.94" fill="#ff5000"/><rect x="1933.0" y="381.33" width="100.0" height="21.94" fill="#ff4000"/><rect x="1933.0" y="359.88" width="100.0" height="21.94" fill="#ff3000"/><rect x="1933.0" y="338.44" width="100.0" height="21.94" fill="#ff2000"/><rect x="1933.0" y="316.99" width="100.0" height="21.94" fill="#ff1000"/><rect x="1933.0" y="295.55" width="100.0" height="21.94" fill="#ff0000"/><rect x="1933.0" y="274.11" width="100.0" height="21.94" fill="#ff0000"/><rect x="1933.0" y="252.66" width="100.0" height="21.94" fill="#ff0000"/><rect x="1933.0" y="231.22" width="100.0" height="21.94" fill="#ed0000"/><rect x="1933.0" y="209.78" width="100.0" height="21.94" fill="#d90000"/><rect x="1933.0" y="188.33" width="100.0" height="21.94" fill="#cc0000"/><rect x="1933.0" y="166.89" width="100.0" height="21.94" fill="#b80000"/><rect x="1933.0" y="145.44" width="100.0" height="21.94" fill="#a80000"/><rect x="1933.0" y="124.00" width="100.0" height="21.94" fill="#8f0000"/></g><g stroke="#262626" stroke-opacity="0.8" stroke-width="3" fill="none"><line x1="2033.0" y1="1496.4" x2="2018.0" y2="1496.4"/><line x1="2033.0" y1="1353.4" x2="2018.0" y2="1353.4"/><line x1="2033.0" y1="1210.5" x2="2018.0" y2="1210.5"/><line x1="2033.0" y1="1067.5" x2="2018.0" y2="1067.5"/><line x1="2033.0" y1="924.6" x2="2018.0" y2="924.6"/><line x1="2033.0" y1="781.6" x2="2018.0" y2="781.6"/><line x1="2033.0" y1="638.7" x2="2018.0" y2="638.7"/><line x1="2033.0" y1="495.7" x2="2018.0" y2="495.7"/><line x1="2033.0" y1="352.7" x2="2018.0" y2="352.7"/><line x1="2033.0" y1="209.8" x2="2018.0" y2="209.8"/></g><rect x="1933.9" y="124.9" width="98.2" height="1370.6" fill="none" stroke="#303030" stroke-width="1.8"/><line x1="1853.0" y1="121.0" x2="1853.0" y2="1504.0" stroke="#262626" stroke-opacity="0.45" stroke-width="3.6"/><g fill="#262626" font-family="Liberation Serif, serif" font-weight="bold"><text x="252.0" y="1598" text-anchor="middle" font-size="79">-10</text><text x="226" y="1529.2" text-anchor="end" font-size="79">-10</text><text x="652.2" y="1598" text-anchor="middle" font-size="79">-5</text><text x="226" y="1184.3" text-anchor="end" font-size="79">-5</text><text x="1052.5" y="1598" text-anchor="middle" font-size="79">0</text><text x="226" y="839.5" text-anchor="end" font-size="79">0</text><text x="1452.8" y="1598" text-anchor="middle" font-size="79">5</text><text x="226" y="494.6" text-anchor="end" font-size="79">5</text><text x="1853.0" y="1598" text-anchor="middle" font-size="79">10</text><text x="226" y="149.8" text-anchor="end" font-size="79">10</text><text x="2054" y="1520.4" font-size="70">0</text><text x="2054" y="1377.4" font-size="70">5</text><text x="2054" y="1234.5" font-size="70">10</text><text x="2054" y="1091.5" font-size="70">15</text><text x="2054" y="948.6" font-size="70">20</text><text x="2054" y="805.6" font-size="70">25</text><text x="2054" y="662.7" font-size="70">30</text><text x="2054" y="519.7" font-size="70">35</text><text x="2054" y="376.7" font-size="70">40</text><text x="2054" y="233.8" font-size="70">45</text><text x="1041.5" y="1698.3" text-anchor="middle" font-size="82" clip-path="url(#xc)">Displacement in N-S direction (mm)</text><text transform="translate(94,823.2) rotate(-90)" text-anchor="middle" font-size="82">Displacement in E-W direction (mm)</text></g><g fill="#000" font-family="Liberation Serif, serif" font-weight="bold"><text x="1839" y="80" font-size="93">Time/h</text><text x="413" y="293" font-size="92">447 <tspan dx="5.5">m</tspan></text></g></svg></body></html>
